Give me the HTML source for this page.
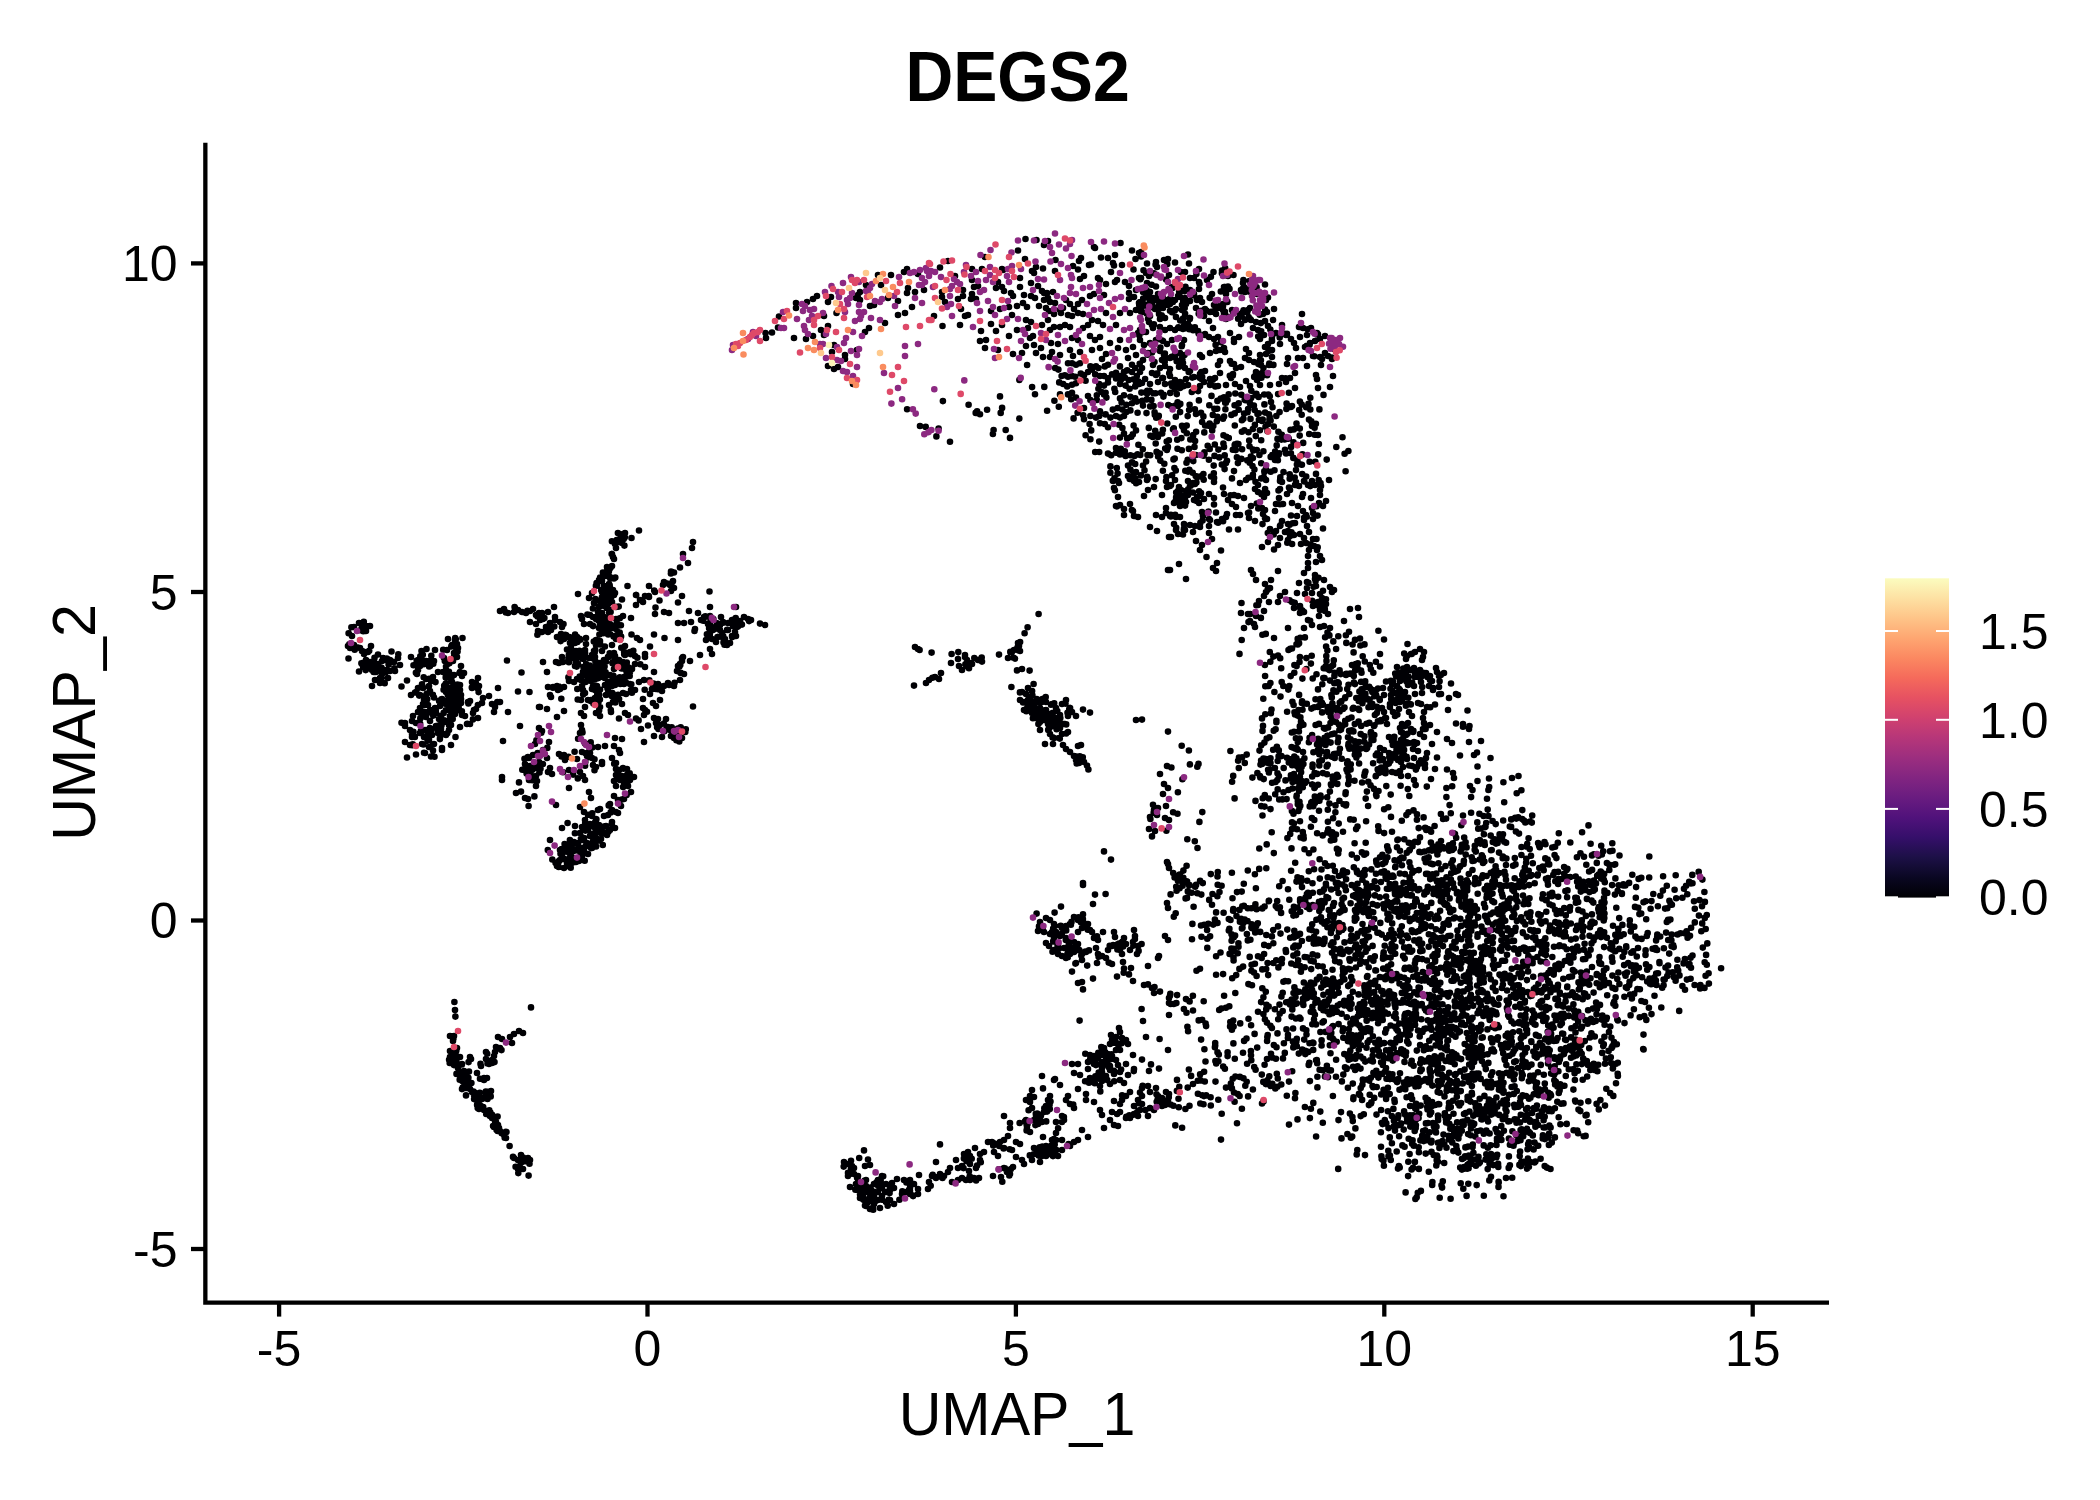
<!DOCTYPE html>
<html><head><meta charset="utf-8"><style>
html,body{margin:0;padding:0;background:#fff;width:2100px;height:1500px;overflow:hidden}
svg{display:block}
text{font-family:"Liberation Sans",Arial,sans-serif;fill:#000}
</style></head><body>
<svg xmlns="http://www.w3.org/2000/svg" width="2100" height="1500" viewBox="0 0 2100 1500">
<defs><linearGradient id="mg" x1="0" y1="1" x2="0" y2="0"><stop offset="0.000" stop-color="#000003"/><stop offset="0.062" stop-color="#0a0722"/><stop offset="0.125" stop-color="#1c1046"/><stop offset="0.188" stop-color="#350f6a"/><stop offset="0.250" stop-color="#50127b"/><stop offset="0.312" stop-color="#691c80"/><stop offset="0.375" stop-color="#822581"/><stop offset="0.438" stop-color="#9c2e7f"/><stop offset="0.500" stop-color="#b63679"/><stop offset="0.562" stop-color="#d0416f"/><stop offset="0.625" stop-color="#e65162"/><stop offset="0.688" stop-color="#f56a5b"/><stop offset="0.750" stop-color="#fb8861"/><stop offset="0.812" stop-color="#fea671"/><stop offset="0.875" stop-color="#fec488"/><stop offset="0.938" stop-color="#fde1a3"/><stop offset="1.000" stop-color="#fbfcbf"/></linearGradient></defs>
<rect width="2100" height="1500" fill="#fff"/>
<g id="pts" fill="none" stroke-linecap="round">
<path stroke="#000004" stroke-width="6.6" d="M1425.7 1028.6h0M1312.8 892.8h0M1674.6 889.7h0M1415.1 1024.8h0M564.0 639.0h0M684.0 674.0h0M583.0 776.0h0M1430.9 1072.4h0M1311.0 498.0h0M1077.6 412.8h0M1138.8 1110.6h0M655.0 614.0h0M1463.3 1121.5h0M1335.9 882.9h0M1245.3 1085.7h0M498.0 688.0h0M1032.0 1160.0h0M1509.8 826.5h0M1578.8 1053.5h0M962.0 1166.0h0M1436.3 873.5h0M1370.3 1029.0h0M1541.5 992.4h0M1347.7 1056.6h0M1492.4 872.5h0M1452.6 971.8h0M1365.0 1155.1h0M1024.0 710.0h0M1357.7 933.7h0M1385.0 862.6h0M1312.8 1042.5h0M1437.9 1039.7h0M1018.0 250.5h0M1587.6 996.6h0M566.0 635.0h0M1575.5 1101.6h0M1277.5 1033.4h0M1166.7 441.5h0M1236.0 515.0h0M435.0 708.0h0M1455.5 1036.7h0M451.4 678.3h0M1450.9 879.6h0M1262.0 373.0h0M1258.9 419.8h0M1474.8 906.1h0M461.5 711.8h0M1134.0 930.0h0M1645.0 1002.0h0M1574.6 971.6h0M1012.0 1150.0h0M1266.3 935.0h0M1566.0 922.1h0M1224.0 397.2h0M1215.0 378.0h0M721.0 617.0h0M1038.2 1116.2h0M1590.6 949.8h0M1379.7 897.2h0M1329.4 803.6h0M1477.1 1131.3h0M1039.0 926.4h0M1260.0 360.0h0M1645.6 901.3h0M1199.8 495.9h0M1315.0 786.9h0M1330.6 742.6h0M1459.5 1133.9h0M568.9 662.2h0M1554.7 1066.2h0M372.0 686.0h0M512.0 1043.0h0M1425.5 1079.1h0M1410.1 1106.0h0M1501.5 838.1h0M959.0 666.0h0M1165.0 366.0h0M680.0 664.0h0M596.0 819.0h0M1165.0 384.0h0M1531.9 1020.8h0M1346.2 804.3h0M1235.0 384.0h0M1333.1 818.2h0M1313.7 961.4h0M1073.6 418.4h0M1413.9 1145.6h0M1144.0 345.0h0M1282.7 1011.0h0M1140.9 475.4h0M1251.7 924.3h0M968.0 315.0h0M1376.5 796.1h0M1117.0 976.6h0M458.3 692.4h0M1318.4 605.6h0M1156.5 1094.3h0M1405.4 1013.7h0M1042.4 699.0h0M993.5 1143.4h0M595.4 599.1h0M1608.9 983.1h0M426.0 661.0h0M600.0 809.0h0M1268.0 326.0h0M1412.2 950.5h0M432.0 735.0h0M1328.1 727.4h0M615.2 682.6h0M1106.0 284.0h0M1470.9 957.6h0M1403.3 1054.1h0M1468.8 1098.5h0M1446.0 1020.7h0M613.0 702.0h0M1471.8 1067.1h0M1537.5 875.4h0M1698.7 871.9h0M590.0 676.0h0M1532.2 958.7h0M1020.0 651.0h0M1130.4 410.4h0M1227.5 399.9h0M1256.6 909.3h0M1506.1 842.8h0M1185.0 326.0h0M1315.6 725.0h0M1147.0 283.0h0M1595.7 1020.9h0M1634.3 926.8h0M1524.3 902.7h0M1066.0 749.0h0M1199.1 491.3h0M1535.8 940.2h0M1433.6 937.0h0M577.4 642.0h0M635.0 656.0h0M1086.0 1094.0h0M1176.8 394.1h0M1073.3 948.0h0M1171.7 356.7h0M1421.2 927.9h0M1265.1 309.5h0M1291.6 1016.6h0M1338.2 853.5h0M1647.7 933.1h0M617.0 637.0h0M1670.4 919.5h0M1300.1 901.4h0M606.7 607.9h0M1247.8 940.4h0M569.7 653.0h0M1098.0 954.0h0M600.0 663.7h0M1056.0 1122.0h0M1027.5 707.4h0M1159.9 453.6h0M1594.3 1069.9h0M1454.3 1053.9h0M1420.8 912.8h0M1460.1 866.4h0M1049.8 1109.1h0M624.0 684.0h0M1019.0 646.0h0M913.1 1196.1h0M1042.3 1150.5h0M1177.5 813.7h0M596.0 666.0h0M1418.0 703.0h0M523.0 1033.0h0M1424.9 927.9h0M1275.6 782.0h0M1260.8 323.1h0M1587.2 1076.5h0M1418.0 676.9h0M1309.6 996.4h0M1589.2 984.8h0M1250.5 418.9h0M1153.6 406.0h0M484.0 1078.0h0M391.5 651.5h0M1156.2 417.8h0M616.6 681.1h0M1026.0 346.0h0M1295.0 373.0h0M1132.0 462.4h0M1383.2 1056.4h0M1114.2 1081.3h0M1123.0 962.0h0M1196.4 273.9h0M1370.6 911.5h0M1374.0 788.9h0M1365.7 842.7h0M603.2 633.2h0M584.0 624.0h0M1099.2 452.0h0M1439.8 1042.4h0M1139.0 482.0h0M1130.4 396.8h0M1035.0 394.3h0M1117.6 473.6h0M532.9 776.3h0M1363.3 1058.7h0M1535.6 1124.9h0M1529.9 916.2h0M1184.7 308.0h0M576.2 659.0h0M1068.9 948.0h0M778.0 327.5h0M606.0 676.0h0M1404.6 969.0h0M1438.6 1057.6h0M1183.0 320.0h0M1436.3 1165.4h0M1088.0 1137.0h0M1358.1 708.8h0M418.0 688.0h0M582.0 619.0h0M1163.0 308.0h0M1310.2 486.1h0M1388.7 976.8h0M1322.9 773.1h0M1338.8 927.4h0M1501.0 890.4h0M1584.0 856.8h0M976.0 1168.0h0M1235.4 1076.5h0M1393.2 975.7h0M577.1 637.1h0M1217.4 400.9h0M591.9 699.7h0M1446.8 963.9h0M1040.0 708.0h0M1610.3 948.6h0M1429.0 686.0h0M1539.7 1054.4h0M1445.6 993.7h0M1632.3 965.4h0M1262.7 798.2h0M584.0 716.0h0M1439.8 942.3h0M1407.7 683.4h0M1558.4 1071.2h0M1293.2 911.0h0M1458.0 695.0h0M1622.4 924.9h0M1383.0 958.8h0M611.1 596.9h0M616.0 619.0h0M1450.6 1198.8h0M856.0 1184.0h0M1511.2 1037.1h0M1371.3 869.4h0M1468.1 1134.1h0M1462.0 1158.8h0M540.2 619.9h0M1430.1 1080.9h0M1209.1 519.0h0M1300.0 821.2h0M1249.0 353.0h0M1355.9 967.5h0M1299.7 435.6h0M1352.8 1121.1h0M1416.0 1013.5h0M436.0 726.0h0M1435.5 1001.2h0M1269.0 365.0h0M1504.5 871.8h0M1312.2 600.7h0M1219.3 457.4h0M1527.4 1066.3h0M1425.0 764.0h0M1092.0 350.0h0M1540.3 1015.6h0M1034.9 709.1h0M1241.0 324.0h0M1396.5 750.1h0M1034.0 710.0h0M1362.2 700.3h0M1412.1 1099.0h0M1706.1 954.9h0M1177.6 402.3h0M1210.0 298.0h0M1379.1 1055.8h0M1334.5 925.1h0M579.4 655.2h0M1496.2 922.5h0M1437.7 950.9h0M1324.5 678.0h0M1317.1 773.9h0M1560.3 1056.6h0M639.0 530.5h0M506.0 1138.0h0M1013.0 296.0h0M1403.5 736.7h0M612.0 645.0h0M824.0 316.0h0M1334.0 903.1h0M1383.0 769.7h0M1285.5 780.4h0M1565.1 1039.5h0M1497.2 1154.7h0M1462.6 1125.1h0M1330.9 932.9h0M1484.5 842.4h0M1185.0 272.0h0M1409.3 765.5h0M1563.2 1033.8h0M1094.0 1102.0h0M1138.0 333.0h0M1201.5 936.8h0M1401.1 894.1h0M1237.7 953.2h0M1548.2 980.9h0M1098.3 1052.9h0M1209.0 321.0h0M1079.6 1020.6h0M1193.0 436.7h0M1260.0 339.0h0M1321.1 601.6h0M1187.7 1087.6h0M1319.4 800.7h0M1102.1 1067.4h0M1501.4 940.2h0M1403.4 668.5h0M1168.0 259.0h0M1673.2 945.3h0M597.7 669.0h0M1493.7 959.7h0M1269.8 396.2h0M1165.0 318.0h0M581.8 676.8h0M1468.1 908.2h0M1053.9 1139.1h0M1241.7 891.6h0M611.7 824.2h0M1331.2 930.3h0M1040.0 1148.0h0M1316.0 473.9h0M1421.3 1019.3h0M1463.4 1014.4h0M1387.6 904.6h0M582.4 658.7h0M1378.7 830.5h0M1558.0 984.8h0M1283.0 1058.4h0M1256.8 503.5h0M1323.0 704.7h0M1195.0 484.0h0M1270.0 588.0h0M1378.8 1051.2h0M942.5 326.0h0M1050.0 714.0h0M1502.7 1074.0h0M1164.3 358.6h0M1232.4 951.6h0M596.4 819.2h0M606.0 695.0h0M824.0 335.0h0M1100.0 411.2h0M1312.2 776.5h0M1056.0 1140.0h0M1398.4 1115.4h0M680.3 665.1h0M1488.8 1013.0h0M1407.4 733.7h0M486.0 1112.0h0M1477.3 822.4h0M1098.6 956.8h0M601.0 839.0h0M1294.0 731.8h0M1285.0 449.8h0M1412.5 918.9h0M1224.1 416.5h0M583.7 851.0h0M1485.3 916.6h0M1361.0 1045.3h0M1407.8 789.1h0M1480.4 843.6h0M542.9 764.1h0M1565.8 1076.0h0M1477.1 985.6h0M1052.5 951.8h0M1535.9 1034.8h0M615.0 544.0h0M1193.0 1084.0h0M1358.6 994.4h0M1229.0 529.5h0M1248.0 614.0h0M1440.5 1047.3h0M1160.3 460.6h0M1486.5 897.8h0M1317.0 549.9h0M1292.7 523.3h0M1547.6 859.5h0M1638.6 878.9h0M1348.9 1029.1h0M1560.4 1025.1h0M1492.7 924.6h0M1287.1 711.8h0M1551.1 1038.0h0M1417.1 993.2h0M561.0 634.0h0M1292.6 781.9h0M520.0 726.0h0M1465.4 1147.4h0M1350.3 1050.6h0M1533.9 989.0h0M1563.3 978.7h0M594.8 679.6h0M1051.8 1151.1h0M1472.0 1094.4h0M1299.9 776.7h0M1546.4 944.6h0M834.0 345.0h0M1530.4 1097.8h0M1094.0 247.0h0M1354.8 937.9h0M1406.6 756.9h0M1601.9 906.2h0M617.5 771.4h0M505.9 1131.8h0M1084.0 419.2h0M454.1 656.8h0M1612.5 987.7h0M1523.9 1036.3h0M1361.6 1014.6h0M1489.8 951.4h0M1543.4 1053.4h0M1390.4 761.0h0M1274.9 768.0h0M1377.4 932.7h0M1443.0 946.1h0M1532.6 963.3h0M854.0 1174.0h0M1141.7 307.5h0M1122.1 1095.4h0M1448.1 1026.5h0M599.4 634.6h0M1505.7 1043.6h0M1325.0 353.0h0M1592.1 921.5h0M1085.1 1081.3h0M1225.4 409.3h0M1300.2 637.8h0M610.8 710.1h0M359.0 671.5h0M1420.3 1071.3h0M1054.0 314.0h0M615.0 593.1h0M1278.9 776.1h0M892.0 1183.0h0M1317.1 833.2h0M1406.7 889.1h0M1560.9 1049.2h0M1148.0 1116.0h0M1142.6 1085.7h0M1429.1 1009.4h0M618.4 665.3h0M848.0 1172.9h0M1238.0 529.5h0M1156.0 340.0h0M1300.3 805.7h0M1478.1 917.0h0M869.0 328.0h0M1489.2 974.6h0M1078.0 1140.0h0M1316.5 539.0h0M1304.1 992.2h0M1476.4 1159.5h0M1116.8 506.4h0M981.7 657.5h0M1583.0 959.2h0M1073.0 266.0h0M1386.9 888.7h0M1460.2 1167.6h0M1200.0 968.8h0M567.0 864.0h0M1292.5 788.5h0M1543.6 941.6h0M963.0 296.0h0M1220.0 361.0h0M870.5 1187.5h0M1541.7 947.0h0M951.0 663.0h0M751.0 620.0h0M1464.0 1114.0h0M1473.0 961.3h0M1531.3 1041.3h0M1364.5 1003.8h0M1554.6 872.1h0M1193.0 1010.5h0M1513.1 865.7h0M1469.0 742.0h0M1242.3 906.3h0M1175.8 416.7h0M1207.3 938.7h0M1459.9 1031.5h0M1615.7 941.2h0M1536.7 1057.6h0M1395.9 976.6h0M1461.9 1168.2h0M1459.1 899.1h0M1651.5 901.1h0M1247.1 1063.7h0M880.0 1208.0h0M1125.0 282.0h0M644.0 742.0h0M598.3 620.3h0M1224.7 455.4h0M547.7 631.5h0M1085.6 435.2h0M1039.0 306.0h0M631.3 684.3h0M1027.1 365.0h0M1577.1 925.7h0M1305.0 594.0h0M643.0 699.0h0M1549.1 1108.9h0M1387.9 966.6h0M1377.5 864.7h0M1400.8 888.4h0M1335.1 982.3h0M1499.8 885.1h0M1185.0 497.6h0M1613.0 925.8h0M1093.0 978.6h0M582.0 856.0h0M1440.3 982.8h0M1196.1 884.9h0M1260.3 777.4h0M1523.0 933.1h0M1425.9 1010.5h0M1419.0 763.0h0M1556.4 858.1h0M1442.5 881.0h0M1584.8 1041.1h0M1380.9 721.3h0M1080.9 922.2h0M1436.0 1064.4h0M1352.4 1117.0h0M1408.1 1176.1h0M634.0 777.0h0M1474.3 1057.4h0M1614.0 1042.1h0M1521.7 1073.1h0M1183.2 301.7h0M1186.0 304.0h0M1645.6 950.4h0M1576.0 930.0h0M1288.0 524.0h0M1509.9 1144.7h0M1455.0 871.8h0M1503.5 1082.7h0M1224.0 494.0h0M1170.0 310.8h0M600.7 577.5h0M1120.0 1072.0h0M1394.1 995.0h0M543.0 619.0h0M1470.2 997.1h0M998.0 350.0h0M1410.3 1126.6h0M1498.3 1004.7h0M532.4 780.2h0M596.7 677.3h0M1437.1 973.2h0M1363.7 1001.8h0M1609.0 1032.1h0M1498.9 1089.8h0M1319.0 810.7h0M683.0 657.0h0M1484.4 1095.9h0M1407.0 656.0h0M445.7 677.4h0M1215.4 1061.0h0M1050.0 920.0h0M1255.8 436.1h0M1306.8 703.8h0M1419.4 851.9h0M1523.2 961.9h0M1335.4 1011.1h0M1411.0 951.8h0M1549.5 1109.7h0M685.3 732.0h0M1641.3 877.7h0M1394.5 1002.7h0M1396.4 974.0h0M1226.0 319.0h0M1282.0 482.0h0M1390.0 1049.7h0M1303.4 724.8h0M1654.3 977.6h0M1422.0 693.0h0M1505.7 1035.8h0M1438.0 1161.7h0M500.0 1048.0h0M1054.0 938.0h0M1598.6 855.7h0M1362.5 891.9h0M1116.0 378.4h0M1606.3 1088.7h0M671.0 571.5h0M1400.0 850.7h0M1410.8 704.4h0M1492.3 1042.5h0M1402.2 905.8h0M631.9 692.8h0M1242.7 288.7h0M1349.0 631.7h0M1335.1 961.1h0M1318.1 738.9h0M1477.8 974.2h0M1296.5 796.7h0M1496.0 843.6h0M1320.0 610.0h0M1120.8 380.0h0M1300.9 971.8h0M1468.9 1039.0h0M1303.0 1028.4h0M460.0 727.0h0M1501.8 933.9h0M1079.0 261.0h0M1666.1 932.6h0M1467.6 988.9h0M1465.4 906.8h0M1235.3 393.5h0M1149.7 390.9h0M1359.2 947.9h0M1558.0 1000.0h0M1198.9 400.4h0M1093.0 904.0h0M832.0 352.0h0M1524.7 1019.7h0M1484.6 946.2h0M457.4 684.5h0M1699.5 900.1h0M1466.8 880.2h0M535.5 767.0h0M1306.0 515.0h0M1309.0 532.0h0M1518.9 887.1h0M1614.9 894.6h0M1256.4 393.8h0M1336.2 682.5h0M1156.0 286.5h0M598.9 832.1h0M1475.0 925.5h0M1067.5 953.7h0M1332.4 878.4h0M1527.1 1033.3h0M1109.7 1065.9h0M428.0 733.0h0M1226.0 517.0h0M1481.8 855.3h0M1280.0 596.0h0M1445.4 903.7h0M682.0 729.0h0M1350.1 1055.8h0M1336.3 447.0h0M1258.0 485.0h0M1122.0 265.0h0M1522.2 1036.6h0M555.1 619.9h0M1453.5 964.4h0M1406.0 735.0h0M1363.1 1080.6h0M1096.8 1064.6h0M1490.3 1108.8h0M1481.6 1050.1h0M1517.8 1141.0h0M1486.2 823.1h0M479.8 1092.7h0M1527.7 992.1h0M1239.4 968.9h0M1285.0 592.0h0M1333.8 660.3h0M1323.5 394.9h0M1324.3 923.7h0M618.0 625.8h0M1708.6 973.3h0M624.4 545.6h0M1327.7 764.7h0M395.0 671.0h0M1261.2 806.1h0M1474.0 755.0h0M1143.0 360.0h0M660.0 687.0h0M1377.7 769.4h0M523.0 1169.0h0M1286.0 382.0h0M577.0 655.0h0M1312.4 1006.9h0M581.0 725.0h0M426.0 717.0h0M1475.8 851.6h0M1052.0 704.0h0M1422.9 978.7h0M1246.9 934.1h0M796.0 303.0h0M1452.9 843.3h0M1332.2 928.8h0M962.0 1178.0h0M1458.9 900.5h0M1197.5 848.0h0M1273.7 730.7h0M1182.4 779.3h0M616.7 540.1h0M1068.0 315.0h0M1136.0 355.0h0M1177.5 448.8h0M1394.9 892.4h0M1134.0 1114.0h0M542.0 731.0h0M1060.0 728.0h0M1082.0 300.0h0M444.9 703.6h0M1487.4 1029.4h0M1522.3 875.3h0M1159.0 314.0h0M958.3 652.1h0M1389.7 884.1h0M1506.8 1099.5h0M626.8 782.3h0M1581.8 1064.1h0M1307.0 588.0h0M1207.7 445.8h0M1243.9 905.9h0M1294.3 930.7h0M1186.1 300.8h0M1481.3 990.1h0M611.0 712.0h0M1368.7 967.2h0M1271.0 1053.8h0M1538.6 1095.2h0M682.0 661.0h0M1170.2 392.9h0M1559.8 934.2h0M1197.3 766.7h0M1312.7 954.4h0M1241.0 613.0h0M1117.6 408.0h0M720.0 630.0h0M1212.8 414.9h0M1552.3 847.5h0M1344.9 886.5h0M1297.9 804.3h0M1543.4 941.3h0M419.4 695.0h0M1394.7 742.8h0M1226.0 294.0h0M1452.3 1060.6h0M1120.0 437.6h0M592.3 844.4h0M1577.2 1130.6h0M1366.3 746.8h0M1046.0 918.0h0M561.5 756.5h0M1401.8 926.2h0M1253.3 450.5h0M477.0 1073.0h0M1477.6 1013.3h0M1502.2 926.5h0M580.9 838.7h0M1263.0 314.0h0M1237.0 1123.3h0M1357.1 893.7h0M865.0 332.0h0M502.0 1133.0h0M1355.1 1069.9h0M1432.9 935.4h0M1187.0 897.9h0M614.2 763.8h0M547.0 758.0h0M1509.5 1121.2h0M1383.3 1002.6h0M1491.4 1000.5h0M612.0 686.0h0M1334.1 995.6h0M1350.3 1008.8h0M444.8 671.7h0M1555.1 909.7h0M1507.4 1104.5h0M1441.1 869.2h0M1002.3 1181.7h0M682.0 658.2h0M1301.2 880.5h0M1172.0 312.2h0M1193.1 330.3h0M694.5 631.0h0M1088.4 769.5h0M1034.0 1154.0h0M1142.0 368.0h0M1354.8 754.7h0M1000.0 396.4h0M928.0 1189.0h0M1461.9 1169.6h0M1115.0 255.0h0M1288.1 981.3h0M1194.5 446.9h0M1066.0 958.0h0M1558.8 963.9h0M1146.0 332.0h0M1270.4 683.0h0M1560.2 1084.4h0M1084.0 276.0h0M1327.7 735.8h0M1083.0 709.6h0M1430.7 1027.2h0M570.0 638.0h0M1470.1 916.1h0M1327.3 1011.5h0M438.0 672.0h0M1369.2 686.8h0M1495.6 1129.1h0M1468.3 882.7h0M1089.6 424.0h0M1066.2 724.4h0M866.0 285.0h0M1328.5 712.3h0M472.9 719.4h0M1308.8 871.2h0M1517.1 967.2h0M1289.6 524.7h0M1457.7 991.4h0M706.0 640.0h0M1133.0 1055.0h0M1485.2 953.9h0M420.0 666.0h0M918.0 1189.0h0M1504.0 904.6h0M1178.8 501.5h0M1044.0 720.0h0M1019.3 418.6h0M544.4 618.1h0M709.5 591.5h0M453.4 1038.7h0M870.0 306.0h0M1586.3 864.8h0M1624.9 973.7h0M1051.8 720.3h0M1384.0 695.0h0M1207.0 280.0h0M604.0 660.0h0M1554.0 1070.6h0M1303.2 442.9h0M1316.5 674.3h0M1487.6 1054.2h0M1188.9 1069.5h0M1333.0 1026.1h0M1100.0 1110.0h0M1460.8 892.6h0M1369.1 744.6h0M1327.4 650.5h0M1396.0 676.0h0M530.0 611.0h0M1278.8 750.4h0M1534.2 1014.0h0M1128.0 465.6h0M436.0 713.0h0M1502.4 1086.6h0M1038.0 700.0h0M1121.1 1069.5h0M1570.4 958.3h0M1209.3 405.2h0M609.7 653.3h0M1200.0 550.0h0M1394.7 1004.5h0M383.2 658.0h0M1554.9 1137.4h0M1506.4 1065.1h0M570.8 861.3h0M614.0 669.0h0M1251.0 320.0h0M1218.3 1099.8h0M587.0 756.0h0M1511.8 885.3h0M1390.1 949.0h0M1268.4 349.4h0M1106.0 313.0h0M1432.6 1037.3h0M1491.1 955.3h0M1415.0 673.0h0M1361.0 670.5h0M1241.9 1108.8h0M1230.1 1026.4h0M1289.3 686.0h0M1395.2 883.8h0M1540.6 1158.7h0M1526.3 1024.6h0M1082.9 919.1h0M598.0 612.0h0M1247.6 412.3h0M520.1 1160.3h0M1338.7 992.7h0M1460.0 755.5h0M434.5 756.8h0M1539.9 921.0h0M1265.8 633.9h0M1062.0 734.0h0M1274.9 1009.3h0M568.5 756.8h0M624.0 677.0h0M1482.8 875.3h0M1357.8 1008.3h0M1049.0 946.0h0M1521.2 917.2h0M1272.1 782.8h0M616.0 548.0h0M461.0 703.0h0M1143.2 298.6h0M1398.0 1168.6h0M621.3 647.8h0M1052.9 721.6h0M1262.5 730.9h0M1102.0 1115.0h0M863.2 1199.4h0M1630.6 1015.3h0M602.6 620.8h0M1132.0 364.8h0M1563.8 1017.8h0M1265.0 584.0h0M1200.0 355.0h0M1452.0 1052.3h0M1004.0 1168.0h0M1049.3 728.2h0M605.7 599.3h0M1102.0 1052.0h0M1383.7 952.3h0M1405.6 1192.4h0M1382.0 708.0h0M1666.8 922.0h0M1606.9 937.7h0M1430.4 1073.0h0M1651.5 1014.1h0M1030.0 704.0h0M1180.0 353.0h0M455.8 639.3h0M1224.0 446.9h0M1397.8 1030.8h0M658.1 685.0h0M1461.4 962.9h0M1513.5 1145.8h0M1269.3 1076.3h0M1528.9 1166.8h0M1411.8 895.4h0M1534.9 1093.8h0M1344.0 621.0h0M1516.2 1134.9h0M457.0 657.0h0M1186.5 462.8h0M1103.0 932.0h0M1534.7 883.3h0M1418.6 1118.0h0M1356.8 897.6h0M380.0 678.0h0M1427.0 707.0h0M1493.9 878.4h0M1201.1 1039.6h0M1048.0 320.0h0M1340.8 911.4h0M1604.5 913.5h0M477.1 1104.9h0M411.0 695.0h0M1288.5 790.0h0M1530.0 821.5h0M1120.0 1032.0h0M619.7 632.5h0M1269.7 769.2h0M1148.0 966.0h0M1196.0 541.0h0M1180.3 403.9h0M1388.6 850.7h0M1354.8 724.1h0M966.0 1160.0h0M1376.4 862.5h0M1299.1 790.9h0M1264.4 742.6h0M1060.0 355.0h0M1320.0 742.7h0M1523.2 1136.2h0M1286.0 951.9h0M1089.8 1078.8h0M1088.0 325.0h0M1162.3 1104.0h0M426.4 730.7h0M1403.5 1050.5h0M1524.8 867.5h0M1313.0 519.0h0M1337.0 1011.7h0M1410.6 1003.9h0M1604.5 892.2h0M1094.0 294.0h0M1139.7 363.7h0M620.0 534.0h0M1490.8 979.2h0M918.0 274.0h0M1421.1 1059.3h0M1037.1 714.9h0M1124.0 1083.0h0M1668.1 919.8h0M1397.8 1118.1h0M1170.5 1104.5h0M1351.7 885.1h0M474.0 710.0h0M1183.8 529.8h0M1095.3 1060.4h0M623.6 678.9h0M1375.4 970.4h0M601.0 619.0h0M1529.9 994.8h0M601.3 830.4h0M980.0 414.3h0M1442.0 1021.6h0M1262.5 524.1h0M1349.1 730.9h0M1675.7 875.3h0M1339.5 962.4h0M1339.4 912.6h0M1299.0 486.0h0M492.0 1060.0h0M602.0 834.0h0M1072.0 712.0h0M1583.2 1058.5h0M1487.0 1105.8h0M1492.4 881.7h0M1293.9 774.0h0M1066.0 1100.0h0M1468.2 1046.6h0M1391.8 1116.1h0M1356.7 870.6h0M1531.2 875.2h0M1448.1 1007.4h0M1176.9 1090.9h0M1060.0 1085.0h0M617.9 533.1h0M1487.3 1011.2h0M1170.0 376.0h0M1190.0 318.0h0M1348.4 451.0h0M426.0 679.0h0M1256.0 372.0h0M1468.4 1038.0h0M1293.5 813.7h0M658.0 689.3h0M1050.0 357.0h0M1520.8 1114.8h0M1330.2 710.0h0M1063.9 1117.0h0M1393.9 1126.3h0M1065.0 724.0h0M1118.0 944.0h0M1341.4 875.0h0M1271.5 709.6h0M1072.0 392.8h0M1588.0 1020.2h0M1293.6 705.0h0M1341.8 951.2h0M1040.0 1118.0h0M1362.1 1099.9h0M1303.5 835.8h0M1606.3 1019.2h0M706.9 634.3h0M1444.0 673.0h0M1334.4 733.6h0M1467.6 1099.9h0M1339.6 689.0h0M1508.9 1138.5h0M1188.1 1031.3h0M1327.0 774.2h0M1505.3 1116.0h0M1315.0 485.0h0M1224.2 313.2h0M1503.2 820.5h0M1360.1 963.8h0M1180.0 506.0h0M1139.0 303.0h0M1295.3 1004.0h0M912.0 307.0h0M439.0 719.0h0M1520.0 1005.7h0M1541.5 921.5h0M1418.5 1086.1h0M588.0 844.0h0M519.0 782.4h0M843.7 1166.6h0M1601.2 977.7h0M1179.0 366.8h0M1382.0 772.0h0M1038.6 614.0h0M1048.0 724.0h0M1524.9 948.0h0M1289.7 474.4h0M1255.4 904.4h0M1570.8 923.5h0M1638.9 967.8h0M549.0 742.0h0M1507.5 1010.5h0M1399.9 895.3h0M581.0 700.0h0M1449.0 698.0h0M1395.3 1042.7h0M1347.9 1040.9h0M1303.0 494.0h0M1040.0 730.0h0M1290.0 378.0h0M489.3 1110.4h0M1389.9 1155.5h0M1080.8 373.6h0M1403.0 986.1h0M1372.2 707.0h0M1230.0 333.0h0M570.7 867.8h0M1360.5 1068.6h0M1486.9 919.8h0M1531.5 1064.6h0M585.0 707.0h0M1443.5 1134.6h0M671.0 591.0h0M1144.5 470.3h0M1673.8 977.1h0M1486.3 1154.3h0M1439.4 1033.8h0M1651.1 984.2h0M992.0 1142.0h0M1496.7 1083.8h0M1167.6 304.8h0M1139.2 384.0h0M1396.0 894.7h0M974.0 1178.0h0M1670.5 903.3h0M1334.8 994.6h0M1434.6 1056.4h0M1457.1 1122.2h0M1120.0 950.0h0M1426.1 873.9h0M1102.0 359.0h0M1387.9 1111.3h0M611.8 625.4h0M1145.8 392.4h0M666.0 719.0h0M1292.2 765.2h0M449.5 706.8h0M1083.0 883.0h0M1338.9 876.0h0M472.0 688.0h0M1428.9 850.4h0M1483.0 862.9h0M1283.7 768.0h0M1631.3 952.7h0M1142.0 312.0h0M1389.3 996.8h0M400.0 665.0h0M1652.6 948.7h0M1289.0 1124.6h0M1094.0 1082.0h0M1193.0 483.0h0M582.7 838.5h0M1004.0 291.0h0M476.0 709.0h0M1194.0 278.0h0M602.0 764.0h0M1241.0 290.0h0M1458.4 1032.5h0M1008.0 658.0h0M1341.6 1013.8h0M621.0 540.0h0M1606.8 1017.7h0M1516.3 1120.8h0M1554.0 946.7h0M1511.8 968.8h0M1348.9 1006.7h0M1034.0 1120.0h0M1112.0 946.0h0M1382.0 768.0h0M1062.0 956.0h0M1266.7 844.4h0M1154.0 1110.0h0M1525.4 1063.8h0M1540.7 915.1h0M1383.3 904.2h0M1472.5 1017.7h0M1690.0 935.8h0M1414.5 969.1h0M1500.6 1103.2h0M602.0 613.0h0M1409.7 843.1h0M593.1 626.1h0M1572.9 970.0h0M483.2 1107.1h0M609.0 705.0h0M1511.1 826.9h0M1036.0 1116.0h0M1663.6 985.2h0M1492.8 987.5h0M547.8 850.1h0M723.5 642.5h0M894.0 1204.0h0M1667.3 976.0h0M965.0 657.0h0M602.0 633.0h0M1391.9 903.1h0M486.0 1052.0h0M1323.7 668.3h0M1563.0 934.1h0M1330.9 1070.4h0M1026.3 711.2h0M1453.3 956.8h0M1214.9 919.6h0M888.4 1191.2h0M1148.0 306.8h0M1355.3 1058.8h0M1631.9 998.4h0M1205.0 335.0h0M1291.8 732.5h0M1600.4 1100.1h0M450.7 681.3h0M1329.4 635.4h0M1301.9 703.0h0M1306.7 516.8h0M1596.5 1014.2h0M1299.5 784.7h0M596.0 838.0h0M1114.0 488.0h0M966.6 1161.2h0M1100.0 423.2h0M1348.5 684.8h0M600.0 707.0h0M448.0 639.0h0M1064.0 1120.0h0M730.0 643.0h0M482.0 1099.0h0M1079.0 763.0h0M1575.5 1032.5h0M1133.0 511.0h0M1226.0 300.0h0M1558.8 1092.9h0M1118.0 348.0h0M537.6 753.0h0M1615.3 951.3h0M1173.8 916.8h0M1423.2 916.8h0M1562.5 1004.7h0M1124.0 395.2h0M416.0 754.5h0M442.0 699.0h0M907.1 409.3h0M1275.6 729.2h0M470.0 701.0h0M1209.7 448.9h0M484.0 1080.0h0M543.0 750.0h0M1401.8 820.7h0M1067.5 712.7h0M1088.0 1069.0h0M1406.4 815.1h0M1374.2 919.1h0M1118.0 1065.0h0M1283.4 981.8h0M1208.3 923.8h0M864.0 1200.0h0M1588.8 881.4h0M602.0 592.0h0M1270.5 763.1h0M1435.0 704.5h0M1412.2 682.8h0M1395.0 716.0h0M1317.0 744.6h0M1390.5 1055.7h0M1070.0 752.0h0M1542.3 898.5h0M1320.0 556.0h0M1432.0 744.0h0M453.0 1058.0h0M461.9 711.4h0M1420.6 945.8h0M657.1 727.2h0M1326.0 604.0h0M474.6 1092.6h0M1390.2 971.7h0M498.0 1125.0h0M438.0 733.0h0M1271.7 350.3h0M1359.0 742.0h0M584.0 658.1h0M1535.4 1126.8h0M1162.0 517.0h0M1428.7 857.2h0M1482.3 954.1h0M1261.2 463.2h0M588.0 854.0h0M599.2 694.8h0M1062.0 1140.0h0M1448.5 1084.5h0M1398.9 861.3h0M1255.0 627.0h0M441.2 717.3h0M1467.6 1164.7h0M907.0 293.0h0M608.2 634.4h0M462.7 1087.5h0M1380.3 922.9h0M1251.3 390.7h0M862.1 1197.4h0M416.7 660.9h0M604.0 586.0h0M1276.4 720.8h0M1462.2 1159.0h0M1157.0 814.9h0M1110.0 1066.0h0M1447.7 1032.3h0M1445.5 866.0h0M1295.6 763.4h0M431.5 730.3h0M660.0 700.0h0M447.0 675.0h0M1491.0 1075.5h0M1108.0 427.2h0M1369.7 1094.8h0M1557.8 842.8h0M1258.7 413.3h0M1310.7 960.8h0M1365.4 1015.3h0M1432.1 1102.1h0M1425.7 1153.6h0M1307.2 880.7h0M1404.9 874.1h0M1361.1 681.9h0M1404.8 674.4h0M1056.0 708.0h0M1461.4 904.6h0M429.1 678.8h0M1092.0 369.6h0M1126.0 1064.0h0M1602.3 874.4h0M1519.2 1023.2h0M860.0 300.0h0M1465.9 946.6h0M1521.6 1129.2h0M1171.0 537.0h0M1475.1 1103.2h0M1510.7 982.6h0M576.0 662.0h0M1024.6 633.2h0M467.2 1079.5h0M1188.0 495.0h0M1065.5 703.6h0M429.1 666.4h0M987.1 409.7h0M1671.6 946.2h0M1518.0 1068.0h0M654.0 736.0h0M495.0 707.0h0M1370.9 1001.4h0M601.2 614.8h0M617.0 624.0h0M1308.4 582.9h0M885.0 323.0h0M1361.5 931.0h0M1302.3 610.5h0M1415.5 960.4h0M1117.4 949.4h0M1129.0 286.0h0M645.0 596.0h0M1190.6 485.7h0M1362.6 694.6h0M1392.0 772.0h0M636.0 595.0h0M1148.0 1086.0h0M501.7 1133.3h0M1439.1 1040.8h0M1160.0 991.6h0M1305.3 989.2h0M366.0 631.0h0M878.3 1185.9h0M1482.7 991.2h0M1462.6 991.6h0M504.0 1135.0h0M1330.0 387.0h0M1677.4 959.8h0M1569.0 977.1h0M600.3 644.5h0M1338.3 636.3h0M1266.0 480.0h0M853.0 384.0h0M998.9 1169.3h0M1202.3 1095.3h0M604.7 574.5h0M1250.9 456.5h0M1030.0 1132.0h0M1336.7 888.3h0M1200.1 1074.4h0M413.0 716.0h0M1421.0 682.0h0M489.0 1064.0h0M1254.0 362.0h0M1391.1 950.9h0M1555.4 965.6h0M1288.0 1034.8h0M1160.4 347.5h0M1381.0 1146.8h0M1363.5 1007.9h0M1154.0 810.0h0M1460.8 883.2h0M1129.4 1115.2h0M423.4 744.5h0M1406.3 986.9h0M1110.0 343.0h0M586.0 664.0h0M1574.1 952.8h0M1436.0 986.1h0M1365.7 951.8h0M952.0 1182.0h0M1679.2 1010.9h0M1497.6 909.2h0M1485.5 826.8h0M936.0 1178.0h0M1446.0 966.0h0M552.0 774.0h0M1282.0 521.0h0M1373.4 960.7h0M1376.3 1070.9h0M1380.0 748.0h0M1442.5 1031.1h0M1062.0 1116.0h0M1204.8 1081.5h0M1238.4 943.3h0M1146.5 413.1h0M1438.4 844.2h0M1583.2 881.9h0M1330.5 996.1h0M1307.6 329.3h0M1383.0 688.0h0M1521.8 1078.3h0M1575.3 897.8h0M1503.4 782.3h0M444.2 685.7h0M535.5 763.4h0M1499.3 926.9h0M1587.4 953.6h0M572.2 641.0h0M906.4 1182.5h0M1575.7 938.6h0M1038.0 1150.0h0M1280.0 489.0h0M1465.7 854.6h0M1046.0 716.0h0M1415.0 652.0h0M1560.7 1086.8h0M1254.0 972.6h0M1099.2 1075.7h0M1492.8 1051.2h0M1527.4 1114.9h0M1446.1 969.9h0M1543.7 951.9h0M1346.8 1017.2h0M1461.9 1015.8h0M1202.0 357.0h0M735.0 632.0h0M1537.8 931.0h0M1217.4 416.8h0M1615.4 878.4h0M1427.6 1080.5h0M1463.8 861.6h0M1205.0 371.0h0M1362.5 924.0h0M1344.3 1054.1h0M559.0 754.0h0M1432.5 874.2h0M351.4 627.2h0M1339.0 753.0h0M615.3 702.4h0M1414.0 742.0h0M481.0 1066.0h0M1471.0 945.2h0M457.6 651.6h0M1471.6 1026.2h0M1440.6 1031.9h0M1263.2 477.5h0M1251.0 1055.3h0M1334.3 839.7h0M1435.0 769.0h0M421.5 651.0h0M1104.0 394.4h0M618.0 800.0h0M1339.9 748.7h0M1246.5 1038.6h0M1367.1 937.7h0M589.3 668.1h0M1537.8 990.6h0M1299.5 1017.6h0M1325.8 979.5h0M1467.2 887.3h0M1303.4 1005.0h0M1099.2 384.0h0M950.0 1168.0h0M1124.0 372.0h0M1002.0 287.0h0M1315.4 1002.8h0M1089.0 265.0h0M1444.8 1113.3h0M1472.8 1144.6h0M1463.8 1001.5h0M1299.8 726.2h0M716.0 642.0h0M591.0 673.4h0M1180.1 412.1h0M1053.0 1156.1h0M1317.9 706.9h0M1375.0 895.4h0M1418.0 751.0h0M1432.4 1062.6h0M1167.3 423.5h0M1364.4 985.7h0M1207.3 947.9h0M1420.0 734.0h0M857.1 1177.8h0M1511.4 982.9h0M602.4 589.6h0M1409.3 850.4h0M1332.5 942.4h0M1565.8 915.4h0M1422.1 917.8h0M640.0 600.0h0M1471.0 1019.8h0M1042.0 325.0h0M1398.0 695.0h0M1618.3 929.6h0M1253.9 405.5h0M1470.5 1124.0h0M1281.4 996.5h0M1023.1 702.4h0M996.0 331.0h0M1195.0 526.0h0M1376.8 713.0h0M1664.7 979.4h0M1379.7 999.5h0M1279.7 1013.7h0M1555.3 881.2h0M1158.0 294.0h0M1076.0 716.0h0M1392.6 875.6h0M1564.4 1085.8h0M1376.3 1075.1h0M497.3 702.0h0M1026.0 1100.0h0M1304.0 628.0h0M394.4 668.4h0M1142.0 1059.6h0M1449.9 992.9h0M1339.6 670.4h0M1377.1 1012.5h0M1298.4 811.0h0M968.6 404.7h0M444.2 720.2h0M1263.5 1101.4h0M1446.1 818.6h0M1023.0 303.0h0M1210.0 520.0h0M587.4 614.6h0M627.0 666.0h0M619.0 660.0h0M585.1 653.0h0M1185.1 313.7h0M410.0 745.0h0M1522.1 996.9h0M1445.9 1118.9h0M567.6 865.9h0M461.0 666.0h0M1425.7 977.1h0M428.1 730.0h0M1214.1 478.1h0M1328.2 898.1h0M1590.0 927.2h0M1326.0 885.8h0M1478.8 1163.4h0M1020.0 278.0h0M1507.6 930.5h0M675.3 738.4h0M1298.0 946.6h0M585.0 693.0h0M1044.8 716.4h0M1100.0 337.0h0M620.3 684.0h0M1387.4 857.2h0M1170.0 328.0h0M1362.4 703.2h0M1687.3 894.3h0M1070.0 327.0h0M1516.1 886.0h0M1460.8 1091.1h0M1036.6 913.6h0M1252.4 777.6h0M1534.5 1162.4h0M618.0 813.0h0M366.4 661.5h0M663.0 585.0h0M468.4 703.5h0M1121.6 402.4h0M1326.4 756.1h0M1227.0 514.0h0M1487.7 1169.1h0M1558.1 871.9h0M1145.6 290.3h0M1582.0 1016.1h0M1271.0 402.1h0M1189.1 410.1h0M1078.0 920.0h0M1302.4 454.4h0M528.0 799.0h0M1417.0 767.0h0M1120.0 398.4h0M1422.2 687.0h0M593.0 617.0h0M1312.2 924.2h0M1386.1 938.1h0M1282.0 378.0h0M1668.2 940.0h0M1535.2 1053.3h0M1385.6 770.6h0M599.0 607.0h0M536.0 768.0h0M1512.2 1177.7h0M1110.0 1070.0h0M1244.7 399.7h0M560.0 850.0h0M569.0 681.0h0M401.5 686.5h0M1424.6 858.8h0M674.0 588.0h0M637.4 657.8h0M1313.8 993.3h0M1585.3 889.9h0M485.0 1097.8h0M554.3 626.5h0M1060.0 715.0h0M1635.8 897.7h0M1391.2 907.6h0M1516.8 1091.1h0M870.0 1194.0h0M527.9 757.1h0M1591.4 924.3h0M1078.0 950.0h0M1424.8 913.0h0M1482.1 1109.4h0M1408.0 723.0h0M1290.0 536.0h0M1356.3 745.8h0M1340.5 982.1h0M1128.0 1044.0h0M1378.5 830.9h0M1186.0 491.0h0M1586.8 1061.1h0M1011.0 293.0h0M1604.6 1024.7h0M1413.4 1002.5h0M1343.6 804.2h0M1583.8 949.8h0M1322.9 1070.2h0M1487.8 1156.3h0M1665.5 967.5h0M1380.9 1132.2h0M1396.9 1002.7h0M1403.1 678.2h0M1340.5 948.8h0M1260.0 336.0h0M1614.5 951.1h0M1315.0 579.0h0M1506.5 1111.5h0M1528.2 958.0h0M1407.8 980.4h0M589.0 751.9h0M1114.0 1125.0h0M1448.8 1135.7h0M914.0 1184.0h0M1432.5 864.0h0M1639.9 989.2h0M1500.2 930.6h0M1251.0 506.0h0M1158.0 958.0h0M1288.7 438.6h0M1429.6 995.0h0M1534.7 1056.0h0M1082.0 920.0h0M848.0 1176.0h0M1204.2 924.7h0M1398.2 745.7h0M1343.0 979.4h0M1057.3 711.1h0M542.0 613.0h0M1351.8 730.4h0M1331.4 834.5h0M1384.0 712.0h0M1372.8 738.4h0M1169.0 537.0h0M1090.4 400.0h0M1438.5 863.3h0M1518.9 993.8h0M1334.0 754.1h0M1456.5 1055.4h0M1460.6 851.5h0M1483.8 1133.7h0M1551.0 1095.4h0M1494.1 968.5h0M570.0 650.5h0M1490.8 872.9h0M1289.0 487.5h0M902.0 1194.0h0M1503.5 960.7h0M1300.0 534.0h0M1246.0 381.0h0M1584.6 886.9h0M597.0 686.0h0M1155.7 479.1h0M1266.3 868.2h0M1230.9 1083.5h0M1476.8 1073.5h0M458.7 706.9h0M1188.0 481.0h0M1540.2 1093.7h0M1392.1 684.1h0M594.5 770.2h0M1407.8 986.0h0M1218.0 365.0h0M1054.0 950.0h0M1269.4 737.2h0M1498.7 1182.4h0M1304.5 849.2h0M1538.1 1125.0h0M1478.9 1105.9h0M1572.9 1069.3h0M1565.6 995.9h0M1426.6 858.4h0M1454.0 888.0h0M1217.0 563.0h0M1426.9 995.1h0M1118.0 1126.0h0M613.0 590.0h0M1161.2 1100.9h0M1199.0 503.0h0M441.6 725.0h0M1305.3 901.6h0M1242.1 449.3h0M858.1 1187.9h0M1425.9 1123.4h0M1477.4 841.0h0M1553.6 1027.8h0M1430.7 914.2h0M1468.3 1183.7h0M1568.8 1015.9h0M1131.9 510.0h0M1344.3 1000.8h0M1304.7 967.2h0M1142.3 400.9h0M713.3 619.1h0M1319.6 1069.8h0M1395.0 894.2h0M1239.9 921.8h0M1314.4 787.9h0M1044.0 245.0h0M1452.7 1059.5h0M595.9 585.9h0M1364.8 661.5h0M1421.3 676.4h0M1635.0 906.9h0M1334.0 707.6h0M965.0 316.0h0M1392.8 744.9h0M1330.8 840.5h0M1591.9 914.4h0M1293.3 457.9h0M1394.0 1016.2h0M1296.8 1046.3h0M455.0 714.0h0M1578.9 1044.8h0M1080.0 1075.0h0M1439.0 676.0h0M612.0 758.0h0M578.9 860.9h0M664.0 582.0h0M594.6 672.8h0M1438.5 984.9h0M1046.0 1156.0h0M1334.4 675.9h0M1213.0 568.0h0M1425.3 924.8h0M666.6 727.2h0M1444.0 848.5h0M499.0 1128.0h0M858.3 1180.9h0M1309.6 737.7h0M1587.6 982.6h0M1198.5 763.9h0M1037.7 713.4h0M1456.0 694.0h0M550.0 695.0h0M1488.8 930.9h0M423.0 704.0h0M1272.0 357.0h0M1400.9 909.1h0M1215.2 1043.0h0M1287.4 838.1h0M1268.8 798.5h0M1360.8 1037.1h0M886.0 1202.0h0M1394.3 736.8h0M1221.7 1113.8h0M1160.0 774.0h0M1663.1 876.3h0M1022.0 669.0h0M490.9 1116.0h0M1170.0 304.0h0M496.0 1047.0h0M1401.3 1049.3h0M608.2 682.2h0M1158.5 308.4h0M649.0 586.0h0M1401.8 992.9h0M454.0 653.0h0M1418.7 1147.3h0M1255.6 927.1h0M1526.9 913.8h0M1471.8 1092.8h0M1148.1 318.7h0M1365.2 1061.6h0M1415.6 1116.2h0M529.0 780.0h0M1331.2 666.6h0M1324.0 985.0h0M1322.7 966.5h0M1175.8 470.5h0M1263.3 698.8h0M1304.0 538.0h0M1611.2 1063.1h0M1471.1 812.7h0M1452.7 867.3h0M1471.9 1146.1h0M1272.2 455.0h0M1096.8 395.2h0M1516.9 921.1h0M1321.6 908.1h0M1413.7 906.3h0M1231.6 940.7h0M1186.4 324.3h0M1360.7 1116.1h0M455.0 699.0h0M1331.9 926.6h0M1270.0 529.0h0M1162.9 470.8h0M1190.0 371.0h0M1050.0 934.0h0M1308.0 485.0h0M1168.3 405.0h0M1515.4 1048.7h0M1267.1 1041.0h0M1565.8 936.2h0M614.0 595.0h0M993.2 1145.5h0M1032.4 695.2h0M1388.5 998.9h0M1405.7 1025.9h0M864.0 1150.4h0M1248.4 477.8h0M994.0 1152.0h0M1136.8 376.0h0M1314.7 941.1h0M447.0 650.0h0M1506.0 865.0h0M1189.0 263.5h0M1200.6 1080.4h0M1619.4 984.0h0M398.3 654.2h0M1302.9 1003.1h0M1295.9 1018.5h0M1601.0 937.1h0M1187.4 324.7h0M611.5 681.2h0M1694.8 908.8h0M1147.0 263.5h0M1582.4 911.5h0M1214.0 482.0h0M1256.4 925.6h0M1283.5 472.1h0M1058.0 944.0h0M1391.4 994.2h0M626.0 670.0h0M1328.9 999.4h0M612.0 822.0h0M1448.1 1040.4h0M1181.4 438.1h0M1601.5 902.4h0M1223.0 418.7h0M1414.0 886.0h0M1295.9 765.5h0M1400.0 751.0h0M1499.1 1073.2h0M1403.7 1129.6h0M1247.5 921.0h0M1463.8 976.4h0M1210.8 874.1h0M1382.0 1122.8h0M1125.6 385.6h0M621.0 806.0h0M1072.0 384.8h0M1302.8 787.2h0M1295.4 1093.1h0M1243.0 1052.8h0M1446.5 1147.8h0M1036.7 699.0h0M474.1 1099.1h0M1160.6 298.3h0M622.0 704.0h0M1342.3 954.0h0M1379.5 699.0h0M1578.8 950.6h0M1194.9 327.4h0M1635.2 971.4h0M1617.7 890.8h0M1544.7 1116.7h0M1509.1 1016.9h0M741.9 624.6h0M1433.9 1126.5h0M419.2 695.6h0M432.9 744.2h0M1489.7 1020.0h0M1362.4 879.7h0M1324.0 626.0h0M1158.0 808.0h0M1150.0 292.0h0M1567.5 890.4h0M1618.7 885.3h0M1484.7 949.0h0M618.5 540.2h0M1226.4 436.8h0M1273.7 534.4h0M1177.0 1079.9h0M1655.4 948.1h0M889.6 1193.1h0M622.0 739.0h0M1290.2 937.7h0M962.0 670.0h0M1346.6 1069.0h0M1243.3 923.0h0M1447.0 739.0h0M828.0 326.0h0M1528.1 971.4h0M1056.4 1150.1h0M1187.4 1026.8h0M910.0 1194.0h0M1391.0 816.9h0M1427.3 1136.5h0M1589.1 871.5h0M1397.1 1082.1h0M1365.2 681.4h0M1428.5 917.9h0M1246.7 754.6h0M1377.9 986.7h0M1088.0 1062.0h0M1410.4 918.9h0M1137.0 954.0h0M1522.5 1060.2h0M1647.2 969.7h0M1038.0 1114.0h0M1167.9 446.9h0M605.0 626.0h0M710.6 627.0h0M580.0 772.0h0M1276.9 746.8h0M1537.9 944.4h0M1567.3 986.6h0M1689.5 964.0h0M1212.2 430.5h0M1309.0 419.6h0M1388.3 903.3h0M1097.0 963.0h0M1549.0 931.2h0M456.5 1073.9h0M1385.2 717.9h0M1412.1 906.1h0M407.0 757.5h0M592.5 842.4h0M462.3 1081.0h0M1072.0 376.0h0M1546.0 1038.2h0M1393.0 681.5h0M1469.3 974.6h0M1100.0 376.0h0M1601.4 1041.2h0M682.0 596.0h0M1138.0 1116.0h0M1488.1 1121.5h0M1360.4 645.5h0M1356.4 918.5h0M1482.8 969.5h0M1547.6 881.6h0M1381.9 1073.9h0M1320.6 702.0h0M541.3 732.7h0M1594.8 889.4h0M606.3 631.5h0M1593.6 992.6h0M1240.2 1023.4h0M1265.0 518.0h0M1545.9 955.1h0M897.0 1179.0h0M1232.5 898.3h0M1364.5 987.4h0M1382.6 1124.1h0M1425.8 1046.2h0M1252.9 1089.5h0M1217.7 884.8h0M576.0 638.0h0M1525.2 1119.7h0M1309.0 853.3h0M1582.1 832.3h0M972.0 294.0h0M1554.3 1080.2h0M1188.9 750.5h0M378.6 679.9h0M577.8 653.2h0M476.6 1098.9h0M1295.2 862.7h0M526.0 770.0h0M1471.0 1052.0h0M1094.0 938.0h0M1170.0 516.0h0M1216.2 1063.4h0M1376.1 997.4h0M1564.2 873.9h0M1404.4 1018.9h0M568.5 658.6h0M1603.7 920.5h0M1042.0 1156.0h0M1601.6 1019.6h0M1068.5 940.0h0M1241.1 918.9h0M1582.0 1026.7h0M1536.2 1035.3h0M1044.3 1108.2h0M1432.2 1184.9h0M1270.6 1086.0h0M1457.8 936.4h0M680.6 672.9h0M1439.2 1010.2h0M586.4 842.7h0M1241.4 394.7h0M514.6 607.1h0M1184.9 299.2h0M1115.2 392.0h0M1593.9 854.2h0M1452.0 1090.3h0M1189.9 764.4h0M1469.7 952.9h0M1543.1 1014.3h0M1350.8 929.3h0M1535.8 1087.7h0M1152.8 436.9h0M1312.0 593.0h0M1066.2 930.4h0M1052.0 352.0h0M1497.6 842.9h0M1388.5 1128.1h0M1212.0 294.0h0M1376.3 793.2h0M1471.7 857.2h0M1399.5 1089.7h0M526.6 773.6h0M1307.0 993.5h0M1321.6 1045.5h0M1280.0 481.0h0M1426.0 758.0h0M1633.8 971.5h0M1482.3 1012.6h0M956.0 1160.0h0M1550.1 925.6h0M1465.1 1156.3h0M1325.7 666.4h0M655.5 607.5h0M608.2 656.9h0M1313.4 1043.0h0M1374.2 1097.9h0M1046.0 1146.0h0M1420.7 1105.6h0M1050.0 1102.0h0M1603.8 908.4h0M1491.4 1049.9h0M1473.4 860.5h0M1500.9 1077.2h0M656.0 706.0h0M1263.3 1081.9h0M510.0 1037.0h0M1553.7 974.6h0M1181.7 745.8h0M1196.5 970.7h0M441.0 729.0h0M1064.0 948.0h0M1475.3 1048.1h0M1188.0 385.0h0M1427.5 1011.8h0M1185.1 505.6h0M631.0 792.0h0M1116.0 416.0h0M1545.6 921.2h0M796.0 308.0h0M1438.0 1073.5h0M1406.2 1021.1h0M1343.4 875.0h0M612.0 694.0h0M653.2 686.1h0M1618.4 928.9h0M1271.9 1028.0h0M575.1 842.7h0M1585.1 993.7h0M1399.0 688.8h0M1629.8 920.4h0M1026.6 1130.4h0M1460.8 982.8h0M1468.4 1054.6h0M593.0 686.0h0M1204.0 382.0h0M464.0 1086.0h0M1156.1 433.9h0M1646.8 936.0h0M1406.6 1097.3h0M1389.5 876.8h0M1610.3 1026.5h0M1356.4 1055.0h0M1562.2 1033.6h0M1033.0 336.0h0M1518.4 1106.8h0M1636.1 887.1h0M1108.0 364.8h0M1398.9 748.5h0M1120.0 376.0h0M1311.2 969.1h0M1449.2 846.3h0M1496.0 874.3h0M1532.7 1022.6h0M1433.0 690.0h0M1256.6 976.0h0M1197.9 1093.7h0M643.0 708.0h0M1174.5 355.7h0M1157.3 373.2h0M1332.5 969.7h0M1430.6 863.6h0M1478.3 992.2h0M1120.5 243.0h0M492.1 1114.9h0M1051.0 343.0h0M1431.3 940.9h0M1514.2 1104.7h0M1509.8 975.5h0M1334.6 1011.7h0M1271.9 936.4h0M473.5 1091.6h0M1525.0 1115.6h0M596.0 823.6h0M1031.0 296.0h0M1472.2 1040.9h0M1046.2 1121.4h0M1129.7 478.9h0M1420.0 837.4h0M495.0 1052.0h0M1221.8 464.6h0M1104.0 851.4h0M1342.5 899.0h0M1403.9 1024.0h0M629.2 667.8h0M1255.0 376.0h0M528.6 1175.6h0M732.2 637.1h0M1261.5 494.3h0M1013.0 354.0h0M1513.7 1051.3h0M1110.4 466.4h0M526.0 613.0h0M1549.7 1050.3h0M1491.2 1081.7h0M1296.0 779.0h0M1274.0 549.5h0M1352.2 1136.6h0M1462.5 1010.2h0M914.0 685.6h0M1357.5 826.6h0M1414.9 1161.9h0M1517.1 985.2h0M1514.3 914.5h0M1342.9 907.0h0M1503.5 1100.5h0M1140.3 279.2h0M584.7 670.8h0M454.0 1065.1h0M740.0 621.0h0M426.7 693.8h0M1498.5 1186.9h0M1366.5 930.5h0M1301.1 464.6h0M1313.7 586.7h0M1162.0 495.0h0M1334.1 915.3h0M625.8 682.2h0M1466.4 1015.7h0M1183.1 318.5h0M1468.8 1155.6h0M623.9 777.5h0M1482.9 857.3h0M1571.0 939.6h0M862.0 1188.0h0M1264.5 806.6h0M1482.3 931.7h0M1448.7 908.1h0M1347.9 1040.6h0M1260.9 360.3h0M1508.2 1004.0h0M1286.5 1029.4h0M710.2 622.2h0M424.0 752.8h0M495.4 1117.9h0M1403.8 1082.6h0M1139.0 253.0h0M1409.3 796.0h0M453.0 687.0h0M1169.3 299.2h0M1333.6 922.6h0M1427.8 886.9h0M1189.5 885.1h0M1407.2 912.5h0M1565.6 1001.4h0M456.0 693.0h0M1301.7 404.5h0M590.0 624.0h0M1202.1 422.0h0M1174.0 503.0h0M614.0 578.5h0M630.0 780.0h0M1318.8 919.3h0M1500.1 931.5h0M1392.4 975.8h0M610.0 684.0h0M1292.9 1041.6h0M1366.5 723.8h0M1170.3 993.9h0M1360.5 1056.5h0M1585.6 1115.5h0M1463.6 864.0h0M1566.7 949.3h0M462.0 1064.0h0M1085.3 1053.8h0M1294.7 477.5h0M1411.0 1063.8h0M1454.4 941.7h0M1214.0 504.5h0M1302.1 723.7h0M981.0 331.0h0M1134.0 297.0h0M1394.4 1099.7h0M653.0 686.0h0M1450.5 935.8h0M1441.0 841.1h0M1197.0 300.0h0M1449.2 1072.7h0M1284.8 1052.9h0M1136.0 430.4h0M1032.0 1090.0h0M1071.2 399.2h0M1372.9 1061.4h0M1166.0 1102.1h0M1283.3 686.0h0M1502.9 984.5h0M1619.4 934.6h0M1289.0 1081.6h0M1539.3 1091.8h0M1370.0 993.6h0M1036.0 353.0h0M459.7 1079.8h0M1481.0 741.0h0M620.0 682.0h0M1386.8 976.0h0M1367.9 893.1h0M1507.8 900.8h0M1226.0 385.0h0M585.1 743.5h0M1381.7 1008.6h0M1506.6 1072.7h0M1428.5 1082.3h0M1506.0 879.7h0M1307.0 998.1h0M1504.5 1058.7h0M488.0 1096.0h0M1469.2 971.4h0M630.0 672.0h0M1370.6 982.7h0M1000.0 309.0h0M381.6 667.9h0M1148.8 294.2h0M1493.3 1011.4h0M1445.0 939.4h0M1625.6 975.8h0M1307.1 904.9h0M423.0 712.3h0M708.0 624.0h0M934.0 316.0h0M1383.4 957.6h0M619.6 683.2h0M427.9 712.1h0M429.8 728.0h0M1441.0 694.0h0M1436.7 1160.2h0M1430.0 680.0h0M1552.8 895.6h0M1438.3 895.4h0M1186.7 881.3h0M1402.1 757.0h0M1179.0 487.0h0M1427.5 1109.4h0M1326.9 1065.9h0M590.6 835.1h0M1385.6 876.9h0M1572.3 992.3h0M1363.2 912.1h0M1485.1 915.7h0M1155.6 264.7h0M1617.9 1075.9h0M1435.1 848.5h0M986.0 340.0h0M578.1 738.7h0M368.0 652.0h0M624.5 782.2h0M1270.4 1025.7h0M592.0 816.0h0M1600.7 871.5h0M1477.5 766.5h0M1046.0 710.0h0M1537.9 874.2h0M1386.0 681.5h0M1181.1 495.7h0M1182.0 310.0h0M1328.0 1077.3h0M1336.0 1076.7h0M1078.0 313.0h0M1434.9 1128.6h0M668.0 727.0h0M424.0 737.0h0M806.0 339.0h0M1293.3 947.4h0M1083.2 415.2h0M1487.9 1087.2h0M1349.6 769.6h0M1354.9 895.1h0M1228.0 286.5h0M1175.2 514.7h0M1143.0 1021.0h0M1373.2 1012.8h0M1233.6 960.5h0M600.2 615.7h0M970.0 1180.0h0M1235.3 993.0h0M1653.3 894.0h0M1615.6 997.3h0M1267.6 963.0h0M1246.7 1081.8h0M1264.0 596.0h0M1262.5 815.5h0M1150.0 384.0h0M1217.8 872.1h0M1331.5 756.6h0M1603.2 851.2h0M1400.0 681.0h0M1262.3 908.4h0M1130.4 469.6h0M1545.5 844.2h0M1463.9 860.7h0M1323.0 506.0h0M1233.0 374.0h0M1078.0 269.5h0M1431.5 1151.9h0M1327.0 1004.1h0M1508.7 1167.9h0M1312.7 905.0h0M1124.0 968.6h0M1420.1 1045.1h0M1191.8 391.9h0M1600.2 984.5h0M965.4 664.3h0M601.2 590.3h0M1340.0 950.7h0M1507.0 954.8h0M1116.0 325.0h0M1108.7 962.6h0M1058.0 344.0h0M388.6 664.6h0M1471.0 1128.5h0M596.0 640.0h0M1265.3 686.3h0M1342.3 884.5h0M1629.8 925.3h0M567.6 823.0h0M1531.8 822.6h0M538.4 755.1h0M1052.0 726.0h0M881.6 1184.5h0M1043.0 1088.4h0M1264.4 471.9h0M1434.5 954.1h0M386.0 670.0h0M1081.3 955.4h0M1593.6 940.6h0M1293.9 906.8h0M1492.8 1049.3h0M736.1 620.8h0M1003.6 1148.5h0M1299.8 428.6h0M1130.0 1118.0h0M1596.1 1002.6h0M1327.7 709.2h0M1410.2 895.4h0M603.0 573.0h0M671.0 736.0h0M1520.1 1151.5h0M1357.5 883.7h0M1334.1 779.7h0M1534.6 1122.9h0M1192.0 939.2h0M555.6 863.1h0M1392.8 691.8h0M1350.4 1023.3h0M1150.0 1108.0h0M1371.3 887.5h0M1254.9 424.9h0M1359.0 617.0h0M1370.8 1077.7h0M1342.2 930.0h0M447.0 688.0h0M1546.6 900.1h0M1367.0 996.6h0M1447.4 993.3h0M488.0 1092.0h0M1540.5 1001.8h0M1167.0 344.0h0M1213.3 426.0h0M1106.0 1076.0h0M1646.3 1019.9h0M401.5 722.8h0M1209.0 526.0h0M1399.4 678.1h0M1172.0 386.0h0M1535.5 987.5h0M1615.3 934.9h0M1038.7 702.4h0M1526.8 936.8h0M1143.0 405.6h0M615.0 685.0h0M765.5 333.0h0M1058.8 406.8h0M625.0 646.0h0M627.1 774.8h0M1424.8 1008.5h0M1102.0 1081.0h0M1446.5 877.2h0M1075.4 963.6h0M1251.1 398.0h0M1173.8 428.3h0M635.0 664.0h0M1364.5 904.1h0M1078.4 949.6h0M1201.0 493.0h0M1314.6 427.7h0M1519.6 990.8h0M1131.2 436.8h0M1303.8 982.5h0M1548.0 1048.7h0M1429.9 1114.6h0M593.4 839.6h0M1455.8 1083.1h0M591.0 798.0h0M612.4 693.1h0M1278.0 571.0h0M1047.7 1108.1h0M939.0 679.0h0M1172.0 340.0h0M1563.5 1013.7h0M1488.0 953.4h0M1121.2 943.9h0M1607.3 892.9h0M369.2 650.7h0M1478.4 1076.6h0M1103.0 325.0h0M1341.0 1112.1h0M1528.7 870.7h0M1020.1 642.1h0M1520.5 1140.2h0M461.0 695.0h0M1111.4 1054.2h0M1585.5 979.7h0M1411.3 1079.7h0M1223.2 1066.6h0M1096.0 417.6h0M1567.1 897.2h0M1166.0 806.0h0M1304.4 758.3h0M1290.5 429.9h0M700.0 655.0h0M1213.7 465.6h0M1300.0 337.0h0M735.7 618.0h0M1317.3 955.5h0M1250.0 386.0h0M637.0 638.0h0M658.0 684.0h0M1133.6 379.2h0M1303.7 838.4h0M1156.1 416.2h0M1381.3 872.4h0M1322.8 1122.7h0M1472.8 998.8h0M1248.4 984.1h0M602.0 598.0h0M1515.8 997.9h0M1361.6 689.4h0M550.0 623.0h0M1456.0 1019.4h0M1626.2 946.3h0M1431.6 965.4h0M1176.6 383.0h0M1706.8 964.8h0M1481.9 1119.4h0M1581.7 977.2h0M1533.2 976.7h0M1419.2 1113.7h0M1156.0 375.0h0M612.0 554.0h0M1146.0 273.0h0M1358.9 890.0h0M1404.7 958.6h0M1136.0 382.7h0M1483.4 1015.9h0M1437.0 881.5h0M1405.7 1055.7h0M596.0 678.0h0M828.0 302.0h0M570.0 866.0h0M1377.2 905.4h0M1349.8 997.4h0M1447.3 905.0h0M1010.0 1174.0h0M968.0 1152.0h0M608.1 586.6h0M1439.1 694.2h0M1646.0 964.4h0M1603.9 880.1h0M592.0 689.0h0M577.0 679.0h0M1166.1 279.5h0M1447.2 1118.6h0M1176.2 527.7h0M1331.2 785.2h0M1252.9 429.0h0M1419.8 1082.4h0M1527.2 950.6h0M373.6 672.0h0M1562.3 1016.0h0M1366.4 698.3h0M1274.0 638.0h0M1167.0 766.0h0M456.2 694.9h0M1398.9 1037.0h0M620.9 625.2h0M1515.5 864.4h0M1694.8 922.4h0M1704.8 917.9h0M1356.2 1023.5h0M1150.2 406.4h0M533.0 609.0h0M1104.0 295.0h0M1280.0 344.0h0M1390.6 957.6h0M1040.9 719.0h0M704.0 617.0h0M1296.7 795.6h0M1536.9 1105.5h0M1190.0 485.0h0M1360.0 638.5h0M1267.7 1035.1h0M1110.4 472.8h0M1167.3 264.0h0M648.8 596.1h0M1379.8 700.1h0M1153.9 324.4h0M1122.0 1100.0h0M1295.0 485.0h0M1034.0 706.0h0M582.0 657.0h0M1264.0 477.8h0M1290.2 833.9h0M1287.0 333.9h0M353.0 645.0h0M593.0 834.0h0M1617.8 1062.7h0M1140.8 311.3h0M563.1 772.3h0M1487.2 885.7h0M1139.0 278.0h0M1242.1 757.2h0M658.4 728.9h0M1296.6 666.1h0M1520.0 1122.4h0M1199.5 283.8h0M1000.7 412.9h0M1244.3 430.3h0M1300.4 608.5h0M1483.9 834.2h0M1311.7 655.8h0M472.0 682.0h0M612.5 663.2h0M1074.0 1142.0h0M592.9 608.5h0M582.0 752.0h0M1248.6 317.0h0M876.5 1182.3h0M1580.4 853.3h0M1017.6 647.3h0M1224.0 287.0h0M585.0 650.0h0M1333.3 641.4h0M1447.3 922.4h0M1365.7 798.6h0M1150.0 316.0h0M1500.9 1045.1h0M1292.4 701.8h0M1181.3 382.5h0M1206.5 557.0h0M1480.7 969.9h0M1317.4 1087.4h0M1414.9 963.6h0M1505.1 960.8h0M1470.1 1158.1h0M468.0 1081.0h0M1331.2 889.5h0M600.0 677.0h0M470.0 1089.0h0M1140.0 340.0h0M360.2 630.2h0M405.0 726.0h0M1554.5 1015.5h0M1540.6 961.5h0M1045.0 744.0h0M1407.0 667.0h0M1060.0 936.0h0M1259.0 601.0h0M1308.9 896.2h0M748.0 619.0h0M1009.0 307.0h0M1189.2 329.3h0M1456.3 1146.0h0M1228.8 919.0h0M1065.0 325.0h0M441.1 726.4h0M1311.4 986.8h0M622.0 776.0h0M881.0 285.0h0M1115.0 282.0h0M1213.5 272.0h0M1549.4 1125.6h0M1575.8 996.1h0M1255.5 481.8h0M1532.0 930.6h0M1248.0 513.0h0M1225.0 287.0h0M1259.3 848.5h0M1234.6 798.4h0M1267.0 519.0h0M1612.0 958.0h0M713.0 630.0h0M1183.0 534.5h0M599.1 677.4h0M1572.9 993.3h0M354.0 645.0h0M1080.0 363.2h0M1402.2 742.2h0M1487.1 993.7h0M488.4 1061.1h0M494.0 712.0h0M1508.6 902.6h0M1522.3 990.2h0M1530.4 1162.0h0M1395.0 1130.6h0M1528.3 903.9h0M1461.6 1003.5h0M1338.2 1168.9h0M1276.0 333.0h0M1017.0 330.0h0M1446.3 993.2h0M1373.4 739.9h0M1318.9 444.0h0M678.0 640.0h0M1329.1 1070.4h0M1526.1 1109.2h0M628.3 778.5h0M710.0 616.0h0M1480.2 1111.8h0M1350.4 941.0h0M1129.6 388.8h0M556.0 662.0h0M1275.9 1058.8h0M1593.7 1063.7h0M1149.0 276.0h0M1096.8 400.0h0M1400.0 1073.2h0M1113.7 1042.7h0M1043.0 268.5h0M1522.2 1130.0h0M1437.5 986.1h0M433.0 750.5h0M996.0 288.0h0M1432.3 1085.6h0M1545.7 977.1h0M1417.3 1117.1h0M1176.2 492.5h0M1526.2 1029.3h0M1600.0 1004.9h0M1063.2 384.0h0M1503.1 886.0h0M1549.5 894.4h0M1435.7 1045.4h0M1321.8 905.9h0M1066.2 733.5h0M1292.2 1071.3h0M1310.4 544.4h0M1057.1 718.0h0M584.0 838.0h0M1324.6 938.9h0M1303.0 752.1h0M1378.8 1020.6h0M363.2 666.9h0M1386.1 896.5h0M1373.2 1087.3h0M492.0 1063.0h0M679.5 732.8h0M888.0 298.0h0M1053.0 712.8h0M1416.1 899.4h0M1250.9 1051.1h0M1135.2 398.4h0M1567.2 960.6h0M1413.0 732.0h0M610.0 830.0h0M891.0 275.0h0M1493.6 886.9h0M1351.8 854.6h0M1433.1 971.0h0M1541.5 1007.4h0M1248.1 1096.4h0M1173.2 873.0h0M1186.0 999.1h0M624.0 799.0h0M1479.4 813.7h0M452.0 682.0h0M890.0 1190.0h0M1141.0 252.0h0M1178.0 496.0h0M1547.0 1051.6h0M1481.7 1037.8h0M1477.6 1028.1h0M1142.0 1104.0h0M1440.6 967.8h0M1369.8 665.1h0M1184.1 882.0h0M1505.4 875.2h0M1484.0 1013.1h0M581.4 680.3h0M1158.0 417.5h0M1393.5 876.8h0M610.4 568.1h0M1398.9 1166.0h0M1333.9 709.1h0M1367.5 1079.6h0M462.0 1080.0h0M364.9 667.0h0M1169.0 998.0h0M1376.0 775.8h0M1309.6 461.7h0M1268.8 900.7h0M904.0 272.0h0M585.3 824.6h0M1009.1 1172.6h0M560.0 689.0h0M1270.5 809.1h0M1055.1 719.7h0M1405.7 990.6h0M1539.1 845.7h0M1499.0 852.6h0M1455.0 834.1h0M1592.1 869.9h0M420.9 731.0h0M1528.8 1131.8h0M1343.3 1074.6h0M1381.3 990.9h0M1256.8 450.0h0M1140.0 330.0h0M1522.8 1075.2h0M1483.6 816.0h0M614.0 559.0h0M1614.2 1001.8h0M1061.0 313.0h0M1366.8 996.3h0M1470.9 1001.5h0M1108.0 950.0h0M1528.6 838.2h0M569.4 637.0h0M1362.1 689.3h0M1483.6 978.2h0M1663.9 948.2h0M1523.9 886.4h0M1407.2 1041.4h0M1263.4 997.2h0M1350.4 1059.0h0M1513.9 1143.4h0M1297.8 935.6h0M1142.0 1088.0h0M1474.2 1123.7h0M1319.3 765.5h0M1268.7 685.9h0M1389.3 756.8h0M430.0 691.0h0M1395.3 946.8h0M1453.0 773.0h0M1616.8 937.6h0M1366.7 1020.7h0M1297.0 829.3h0M1442.5 1141.1h0M1581.0 1028.5h0M1659.4 962.0h0M1343.0 709.0h0M1281.8 434.9h0M440.0 737.0h0M1487.9 1147.8h0M1434.7 850.2h0M1272.1 336.0h0M1374.8 956.4h0M1499.6 834.4h0M616.7 624.4h0M1268.6 350.9h0M969.0 668.3h0M1507.6 928.3h0M1247.8 870.5h0M1418.4 943.3h0M1319.0 901.7h0M1469.5 726.0h0M1340.1 953.5h0M426.5 649.0h0M1164.9 353.5h0M1394.4 911.1h0M1302.0 314.0h0M1273.0 320.0h0M382.0 674.0h0M1362.1 782.5h0M1348.2 986.1h0M1396.5 1038.7h0M1453.5 1113.7h0M1325.9 883.7h0M1112.0 374.4h0M1588.3 1101.2h0M1204.5 453.4h0M628.0 786.0h0M1170.0 369.0h0M1429.9 829.9h0M1060.0 327.0h0M1133.5 269.5h0M1467.2 1168.8h0M1264.2 944.9h0M1321.0 365.0h0M1090.0 930.0h0M1438.1 1120.2h0M1239.6 1096.0h0M1377.2 888.7h0M937.0 1177.1h0M425.0 730.0h0M1367.6 1042.6h0M1495.0 1113.3h0M958.0 299.0h0M1244.6 290.9h0M1412.5 846.2h0M1381.7 934.6h0M1361.9 701.1h0M1352.9 1046.0h0M1154.5 987.0h0M1511.8 1041.5h0M1341.9 1081.4h0M1489.2 787.0h0M1318.0 334.4h0M1510.7 1036.0h0M1435.2 1105.0h0M1105.6 894.0h0M1267.8 424.3h0M1350.8 998.2h0M1318.7 480.0h0M1514.0 891.3h0M1464.9 1003.5h0M360.0 648.0h0M1184.0 528.3h0M744.0 617.0h0M564.0 687.0h0M1559.0 969.1h0M1310.1 620.7h0M1379.7 760.4h0M910.3 1185.8h0M518.0 1160.0h0M451.0 1062.0h0M1459.6 867.1h0M1418.9 1152.2h0M1424.0 652.0h0M1039.0 1118.3h0M1518.6 887.0h0M978.0 286.0h0M1183.0 363.0h0M623.7 538.9h0M1433.7 1155.0h0M1444.2 1163.0h0M1046.0 702.0h0M1265.5 426.7h0M1181.8 450.2h0M1531.6 995.7h0M1198.7 1020.4h0M1111.4 1058.9h0M1353.4 731.4h0M1176.6 890.8h0M577.8 778.4h0M1319.8 878.6h0M679.3 741.4h0M424.0 700.0h0M1390.3 917.3h0M1104.0 1048.0h0M1276.2 960.2h0M1114.0 932.0h0M375.0 680.0h0M592.0 848.0h0M1473.1 1125.3h0M1466.8 1033.1h0M1230.0 361.0h0M1320.0 495.0h0M1502.9 1090.3h0M1190.0 278.0h0M371.2 662.9h0M1302.8 832.0h0M1552.3 1027.5h0M1438.9 1142.6h0M940.0 1174.0h0M608.0 815.0h0M1423.0 718.0h0M1284.6 439.5h0M422.0 714.0h0M1394.7 1101.9h0M1686.1 885.7h0M538.0 631.0h0M1234.0 495.0h0M1211.5 395.9h0M1306.4 658.1h0M1366.2 748.9h0M1396.4 1028.9h0M1311.3 421.4h0M1479.7 1098.8h0M1264.4 404.4h0M1401.0 911.1h0M1472.5 870.0h0M772.0 332.5h0M497.6 1116.6h0M349.3 644.4h0M1498.6 1181.8h0M1513.8 1093.9h0M1292.0 829.0h0M1224.6 469.1h0M558.9 686.6h0M1310.7 1011.8h0M1558.7 1117.2h0M1610.8 1057.3h0M1564.1 867.1h0M1416.6 1003.4h0M1485.1 1083.4h0M1396.0 693.4h0M1295.1 945.5h0M626.6 794.9h0M1140.0 372.0h0M925.7 426.9h0M1522.1 1135.8h0M1275.0 511.0h0M1132.0 403.2h0M619.8 618.2h0M1548.4 1052.5h0M936.0 1162.0h0M1282.6 881.0h0M1624.1 965.1h0M1515.2 817.8h0M1376.5 1114.6h0M998.0 1156.0h0M1180.0 297.0h0M708.3 616.7h0M1543.7 870.2h0M1437.4 1157.0h0M1304.9 637.4h0M1527.5 1108.0h0M1387.5 901.9h0M1229.5 288.9h0M1486.5 1132.3h0M1162.0 1106.0h0M1264.3 471.2h0M1491.9 1113.2h0M1264.6 906.5h0M1342.5 437.3h0M1440.9 814.0h0M1625.9 987.3h0M610.0 624.0h0M1472.5 861.0h0M604.0 816.0h0M1406.1 890.6h0M1533.6 1075.6h0M631.5 634.5h0M449.4 707.9h0M1555.9 1020.0h0M455.5 737.0h0M1448.3 951.4h0M597.2 693.9h0M1309.7 929.4h0M1409.0 947.0h0M1062.0 704.0h0M1095.9 1065.1h0M1482.7 1037.4h0M1279.0 384.0h0M1641.6 938.9h0M1518.8 985.2h0M1010.0 437.9h0M431.0 681.0h0M1387.2 846.4h0M1385.0 1012.2h0M1451.4 1015.0h0M1389.9 1079.1h0M848.0 1164.0h0M1358.6 721.5h0M1573.5 957.5h0M1368.8 916.0h0M460.9 1073.1h0M878.0 1192.0h0M1368.2 1028.4h0M1516.8 1119.6h0M1101.6 392.0h0M1424.0 737.0h0M1254.2 1067.1h0M1219.2 1010.0h0M1414.0 668.0h0M1552.6 905.5h0M960.0 325.0h0M1324.4 740.0h0M1176.0 517.0h0M1551.7 1111.3h0M578.0 844.0h0M1480.9 828.5h0M610.0 609.8h0M1418.8 870.1h0M1499.5 974.6h0M1250.2 614.0h0M1537.3 957.0h0M502.0 780.0h0M1476.5 1111.5h0M1553.8 972.4h0M1440.8 674.9h0M493.9 1126.9h0M878.0 275.0h0M1555.1 1084.4h0M1461.2 1024.5h0M1272.1 1057.5h0M1567.4 868.8h0M595.0 690.0h0M1107.3 1080.1h0M766.0 338.0h0M1449.6 898.4h0M1373.1 763.3h0M1251.3 1060.2h0M614.0 781.0h0M1149.0 829.0h0M1396.0 1018.2h0M1293.4 955.6h0M1491.1 1085.5h0M1334.2 949.1h0M1591.0 885.0h0M1545.0 1127.4h0M1611.6 1047.9h0M1575.2 1013.3h0M1311.7 805.2h0M1359.1 763.5h0M1419.3 939.6h0M1259.9 776.1h0M1335.4 812.3h0M1314.9 803.1h0M1706.8 915.1h0M1528.1 1067.1h0M1131.0 968.0h0M1453.8 833.3h0M1434.8 968.8h0M1427.0 753.0h0M1374.3 696.3h0M1395.6 1027.0h0M1209.0 533.0h0M1148.0 490.0h0M1367.0 977.0h0M1121.6 1043.2h0M1415.7 785.1h0M1420.2 951.2h0M1344.6 909.9h0M504.7 1137.7h0M1479.2 1031.2h0M1314.0 546.0h0M1281.5 756.1h0M1321.9 702.8h0M1168.9 299.8h0M1310.9 826.8h0M1479.3 1055.0h0M1639.7 1017.2h0M1521.4 855.0h0M1405.0 677.0h0M1559.6 945.2h0M594.7 652.4h0M1359.7 900.8h0M1301.0 721.7h0M1372.7 690.1h0M461.0 699.0h0M1344.5 1005.4h0M1428.1 1048.8h0M1421.1 676.1h0M1232.8 449.8h0M1317.4 1000.1h0M584.0 850.0h0M1148.0 353.0h0M1157.0 267.0h0M1479.8 840.1h0M1440.0 1019.5h0M1176.0 500.0h0M1239.5 909.9h0M1191.1 1075.9h0M1048.0 241.0h0M1469.4 903.5h0M1490.7 835.6h0M1184.7 303.5h0M1578.2 886.5h0M1403.2 908.9h0M1491.2 1087.4h0M1542.7 1138.4h0M1194.8 841.3h0M1461.5 906.6h0M594.0 674.0h0M1350.0 984.5h0M1048.2 729.9h0M1291.6 747.1h0M1231.9 1088.4h0M1435.1 961.6h0M1437.0 757.5h0M1231.4 948.5h0M1344.4 979.4h0M1265.1 676.0h0M1630.2 994.6h0M460.0 672.0h0M1034.0 1148.0h0M1435.9 929.3h0M1422.5 672.6h0M420.0 695.0h0M765.0 625.0h0M1445.1 1017.3h0M1147.3 390.8h0M1616.0 1063.8h0M1317.9 435.0h0M1566.1 1064.3h0M1303.1 1001.7h0M442.0 748.0h0M554.0 607.0h0M1360.7 734.1h0M1372.1 958.2h0M870.0 1188.0h0M1332.0 952.7h0M1318.0 388.0h0M1276.0 531.0h0M1463.7 1125.0h0M1074.0 942.0h0M1462.3 1121.8h0M1374.3 992.0h0M1146.0 305.0h0M671.7 727.2h0M1424.9 1139.9h0M1214.4 408.8h0M1439.0 687.0h0M1151.6 284.7h0M1469.0 1163.8h0M610.0 675.0h0M474.0 1095.0h0M1443.1 818.9h0M1030.2 706.6h0M1312.5 767.1h0M1277.2 901.0h0M1274.4 692.0h0M1378.2 826.2h0M1346.3 673.7h0M1525.1 1052.6h0M1407.1 1119.1h0M1442.0 1080.6h0M1050.0 302.0h0M1216.8 421.2h0M1464.1 1076.9h0M354.0 627.0h0M1090.0 1078.0h0M1098.0 1076.0h0M874.0 1196.0h0M1290.7 778.8h0M1223.1 521.3h0M1359.0 1039.5h0M1338.7 823.6h0M1250.0 308.0h0M1548.4 1092.8h0M1004.0 1140.0h0M1564.0 1054.1h0M858.0 1190.0h0M614.0 796.0h0M571.6 860.4h0M1389.3 991.2h0M1304.0 612.0h0M1311.4 708.6h0M970.0 663.0h0M1238.7 409.8h0M1332.4 703.6h0M1564.2 908.1h0M1396.9 912.1h0M662.0 737.0h0M1396.8 908.7h0M1516.1 992.2h0M1356.5 912.7h0M1397.4 714.6h0M1636.9 975.3h0M1153.3 307.1h0M1487.6 996.1h0M1382.5 991.0h0M1301.1 780.6h0M1337.7 1005.5h0M1249.5 281.1h0M1543.6 1120.2h0M1205.5 1061.5h0M1443.6 924.0h0M1290.9 453.3h0M1182.4 359.3h0M364.0 654.0h0M1458.5 1058.2h0M599.9 699.5h0M1125.6 456.0h0M1388.3 807.2h0M1509.9 1165.3h0M1531.4 921.7h0M1205.1 425.5h0M1401.7 857.5h0M1437.2 915.5h0M1313.0 539.0h0M1345.9 635.3h0M1548.5 972.9h0M966.0 1180.0h0M1587.6 1023.7h0M1361.9 961.8h0M1301.7 764.8h0M1532.1 1113.0h0M1523.8 947.6h0M1433.1 878.3h0M1092.0 932.0h0M1089.0 1082.7h0M449.4 676.5h0M1233.4 1043.4h0M1020.0 287.0h0M1400.0 930.3h0M1158.8 415.9h0M1504.2 802.2h0M593.8 641.5h0M1581.9 887.0h0M1268.2 975.1h0M567.6 847.3h0M1168.0 908.0h0M1465.7 901.1h0M1532.8 863.2h0M1461.1 925.9h0M1488.4 1062.9h0M588.0 670.0h0M1498.8 1027.3h0M1514.0 940.9h0M1046.6 1153.4h0M1684.9 959.0h0M1434.6 826.0h0M1182.0 291.0h0M1429.1 1058.0h0M1276.3 416.0h0M1474.2 912.6h0M1135.2 464.0h0M610.6 612.1h0M1343.4 928.5h0M898.0 315.0h0M1327.9 821.8h0M620.5 662.1h0M1331.9 990.6h0M1231.7 363.7h0M1408.1 1013.1h0M1552.3 957.0h0M1391.0 695.0h0M1349.4 1003.0h0M1322.0 359.1h0M568.0 852.0h0M1141.5 332.4h0M1429.6 982.2h0M1499.2 998.3h0M1030.0 1096.0h0M971.7 1158.7h0M1521.7 995.6h0M1372.9 1036.2h0M1390.7 794.6h0M1194.0 500.0h0M1203.4 416.4h0M1157.0 531.0h0M372.4 669.6h0M1529.1 885.1h0M1024.0 295.0h0M1386.1 874.7h0M1190.0 290.0h0M486.0 1059.0h0M1449.0 1102.7h0M1030.9 702.2h0M1328.3 707.1h0M1202.1 1019.7h0M1511.6 1044.4h0M1200.1 880.8h0M1477.2 1050.4h0M1473.4 1152.7h0M864.8 1180.5h0M1492.7 942.9h0M945.0 302.0h0M1041.0 348.0h0M622.0 543.0h0M1137.6 454.4h0M1169.2 373.3h0M1351.6 1004.1h0M532.0 770.0h0M1275.8 906.1h0M1345.0 698.3h0M1333.2 347.6h0M1278.5 490.5h0M1141.1 256.5h0M521.5 672.5h0M1054.4 400.8h0M1401.2 1123.6h0M1443.8 892.0h0M1519.1 1022.1h0M1642.1 977.3h0M649.3 680.4h0M1328.5 983.9h0M1049.0 311.0h0M736.0 607.0h0M423.7 677.3h0M382.0 661.0h0M1452.2 849.9h0M1186.8 433.2h0M1457.4 930.6h0M443.2 649.8h0M1527.2 843.8h0M1402.0 744.0h0M1293.1 1028.5h0M1413.5 810.4h0M1508.9 1156.4h0M1293.9 936.3h0M1304.0 520.0h0M1578.2 902.0h0M1516.2 895.6h0M1656.5 985.0h0M455.0 1010.0h0M1393.4 887.4h0M1111.0 272.0h0M1450.7 1020.0h0M1193.2 435.1h0M1262.2 493.2h0M610.7 812.4h0M1298.1 960.4h0M1278.0 602.0h0M1390.7 936.4h0M1110.0 1084.0h0M1299.9 657.1h0M1531.0 855.8h0M1270.9 713.2h0M1353.5 707.9h0M606.0 826.0h0M1267.3 1037.0h0M1135.2 368.0h0M1511.2 819.4h0M1593.3 902.6h0M1432.0 681.0h0M1315.0 575.0h0M1197.3 893.3h0M1421.6 924.1h0M1348.7 1059.8h0M1312.0 481.0h0M1318.5 577.7h0M979.0 1178.0h0M1320.3 699.0h0M1455.8 1074.0h0M1115.0 937.0h0M458.8 703.5h0M1147.5 478.0h0M1408.3 1161.8h0M633.3 650.8h0M1533.1 948.8h0M1509.6 908.0h0M1380.9 882.0h0M1383.4 1001.9h0M1116.0 1060.0h0M1523.1 895.5h0M1175.0 300.0h0M1385.2 979.3h0M1583.7 1136.3h0M1237.9 463.1h0M574.0 682.0h0M1467.3 960.6h0M1066.0 700.0h0M1607.2 995.3h0M1475.9 1165.7h0M1042.0 718.0h0M605.6 672.2h0M586.0 638.0h0M1413.0 749.0h0M450.0 1057.0h0M1319.1 746.3h0M1185.0 298.0h0M1578.1 1133.3h0M1185.0 368.0h0M468.6 1062.1h0M1281.7 682.0h0M422.8 654.7h0M1513.6 994.6h0M1218.1 522.8h0M595.0 822.6h0M414.9 736.9h0M1384.1 809.3h0M522.3 769.8h0M547.8 626.8h0M1465.0 1025.0h0M1168.0 1050.0h0M1385.3 1071.4h0M625.2 669.1h0M1269.7 416.7h0M1359.1 1013.0h0M1641.4 1001.0h0M602.5 675.5h0M1417.7 994.4h0M572.0 852.0h0M1388.5 1156.4h0M870.0 1165.0h0M1288.9 392.8h0M560.0 860.0h0M1172.1 475.3h0M1012.0 652.0h0M1176.2 886.7h0M630.0 684.0h0M425.0 696.0h0M1327.5 632.6h0M1407.0 995.8h0M1567.2 987.3h0M1285.0 532.0h0M1119.0 943.5h0M1328.4 992.0h0M1370.4 958.4h0M1538.3 914.6h0M608.4 831.2h0M1381.5 1003.8h0M1227.0 460.7h0M1421.7 1069.6h0M1279.0 498.0h0M1507.8 942.1h0M1312.6 764.6h0M1454.0 778.0h0M1435.2 960.1h0M1186.7 425.6h0M1040.0 1162.0h0M1581.5 922.7h0M381.6 678.0h0M1506.0 1178.0h0M455.9 697.4h0M1261.2 440.3h0M1469.8 927.4h0M1263.4 1014.1h0M1449.6 805.1h0M1313.0 606.0h0M1590.9 1018.7h0M1210.0 385.0h0M1341.7 758.7h0M1211.0 476.5h0M1318.3 939.6h0M604.8 632.2h0M1320.0 627.0h0M526.0 1161.3h0M1195.9 455.0h0M1374.5 725.2h0M680.0 680.0h0M1570.3 842.5h0M1332.2 1007.9h0M1297.0 516.0h0M500.0 1131.0h0M1216.0 512.5h0M1245.0 320.0h0M629.0 780.6h0M1078.0 746.0h0M615.0 828.0h0M592.0 668.0h0M558.0 864.0h0M1536.2 1108.7h0M1475.3 1136.6h0M557.0 637.0h0M468.3 1082.1h0M1494.1 902.3h0M1396.0 758.0h0M1512.2 917.0h0M1346.0 674.9h0M1270.3 329.6h0M1321.3 987.6h0M1396.0 700.0h0M1491.1 1101.0h0M1255.2 932.4h0M1150.0 343.0h0M1360.8 748.6h0M1083.0 885.0h0M1324.6 737.9h0M1497.7 930.4h0M458.0 1068.0h0M1599.8 987.3h0M1170.0 570.0h0M1126.0 1096.0h0M1053.6 723.0h0M1174.6 502.3h0M1488.3 816.0h0M1112.8 409.6h0M1296.1 915.1h0M496.0 1122.0h0M1335.5 949.2h0M980.8 1162.3h0M1308.7 1064.9h0M1336.9 774.8h0M1478.4 883.2h0M1338.7 683.4h0M1233.1 910.7h0M1441.7 880.3h0M1381.4 1156.3h0M1403.1 955.9h0M1249.0 360.0h0M580.0 807.0h0M1182.0 305.0h0M432.9 694.8h0M1511.6 933.2h0M1038.0 1124.0h0M1279.6 412.1h0M623.0 665.1h0M1522.4 882.5h0M1490.1 937.5h0M1364.7 995.5h0M606.0 620.0h0M1469.0 1048.1h0M1463.0 724.0h0M718.0 626.0h0M1416.0 1119.5h0M1383.0 1061.9h0M631.5 538.0h0M1536.2 1046.8h0M1518.5 776.0h0M525.0 764.0h0M1365.5 687.0h0M1367.2 890.8h0M1602.8 975.2h0M1355.8 664.1h0M620.2 639.6h0M736.0 636.0h0M1395.6 703.0h0M594.9 617.4h0M1293.5 758.9h0M1435.2 1037.6h0M1501.0 1090.6h0M455.0 695.6h0M1082.0 928.0h0M1557.1 923.0h0M1140.0 302.0h0M1507.8 1037.1h0M1329.9 791.6h0M1418.4 980.0h0M1076.0 383.2h0M1182.0 357.0h0M1288.3 689.6h0M1167.0 903.0h0M1408.6 676.9h0M1332.0 359.0h0M1182.0 425.8h0M1366.2 883.6h0M1054.0 718.0h0M1296.5 881.6h0M1355.0 947.3h0M1184.0 498.0h0M1614.2 864.8h0M1409.8 1035.1h0M1648.9 1007.8h0M1195.7 476.1h0M1626.3 947.2h0M590.0 753.0h0M1418.6 987.5h0M1226.0 1087.6h0M1294.3 672.7h0M630.5 654.1h0M915.0 292.0h0M1525.4 1014.8h0M431.0 756.5h0M592.6 658.3h0M1543.8 1074.7h0M1548.4 1111.0h0M586.0 644.0h0M1431.5 1029.7h0M1450.5 1136.5h0M1450.4 970.7h0M1559.8 1059.5h0M619.0 539.8h0M644.7 689.7h0M1418.9 1168.9h0M1026.0 320.0h0M578.0 848.0h0M1377.9 721.4h0M1465.9 922.4h0M1578.5 1109.6h0M1369.4 1040.3h0M1569.9 1046.2h0M1292.0 602.0h0M602.0 581.0h0M1479.9 1162.2h0M1511.6 1087.0h0M1408.7 1138.8h0M1546.8 1167.6h0M1070.0 924.0h0M1046.0 308.0h0M1443.7 902.9h0M1176.0 530.0h0M1238.7 403.2h0M1001.0 1177.0h0M1350.6 940.5h0M1217.5 922.9h0M1495.8 1012.2h0M1643.6 1049.5h0M502.0 1039.0h0M1464.0 1121.7h0M1474.6 1041.3h0M1575.1 1100.5h0M1319.0 723.9h0M1464.9 889.6h0M1352.6 644.5h0M1150.0 817.0h0M1549.2 1008.1h0M1336.7 1041.7h0M1527.0 1168.6h0M1308.3 1051.9h0M1501.2 920.2h0M1439.1 1004.3h0M1293.9 823.5h0M1597.2 875.8h0M1200.0 374.0h0M1116.0 452.8h0M1434.9 980.1h0M615.3 577.6h0M1233.4 313.3h0M1281.2 668.2h0M1458.3 1152.6h0M1002.0 269.0h0M1511.5 1071.2h0M1442.7 847.0h0M1463.9 1158.1h0M1298.9 731.4h0M1331.8 987.1h0M1288.1 531.1h0M615.0 656.0h0M1613.4 1003.8h0M1389.2 934.8h0M1116.0 448.0h0M1273.3 656.6h0M1470.0 786.1h0M1360.4 960.5h0M1408.8 842.8h0M1113.0 263.0h0M1434.3 1020.6h0M1215.3 386.4h0M457.0 705.0h0M1318.0 784.7h0M452.7 718.9h0M1164.0 355.0h0M1433.1 888.7h0M1119.2 424.8h0M1366.9 791.6h0M1236.2 975.1h0M1348.0 737.3h0M1544.9 1089.3h0M543.0 662.0h0M1296.5 747.9h0M1478.8 1077.6h0M1451.3 863.2h0M1008.0 1136.0h0M1249.1 512.5h0M1159.0 956.0h0M1441.7 1074.9h0M1471.9 1086.0h0M420.3 718.4h0M450.0 1036.0h0M1383.5 953.4h0M1421.4 905.9h0M1170.6 1003.9h0M712.0 654.0h0M1174.0 524.0h0M1548.7 1097.8h0M557.0 717.0h0M1251.4 970.8h0M1090.2 1059.1h0M1055.0 271.0h0M1056.0 932.0h0M1466.2 1076.5h0M1461.4 957.7h0M1575.7 1039.5h0M1249.7 462.8h0M1414.0 871.1h0M1258.2 336.6h0M712.7 627.8h0M1243.4 418.8h0M1493.3 1103.5h0M609.7 585.4h0M1309.2 434.0h0M1276.7 445.4h0M1527.5 1149.3h0M1482.1 953.9h0M1062.0 1122.0h0M627.0 769.0h0M1563.2 1006.6h0M1467.6 1096.8h0M1524.9 1000.7h0M1637.4 989.1h0M1449.1 908.1h0M354.7 649.8h0M1275.2 794.2h0M1453.3 910.1h0M1206.3 310.6h0M1534.5 1024.2h0M466.0 1076.0h0M1234.0 342.0h0M1482.9 967.6h0M1413.8 1145.8h0M623.0 616.0h0M1353.4 747.4h0M569.0 770.0h0M1369.0 936.7h0M1539.1 1089.2h0M1491.0 1176.7h0M1171.1 383.5h0M551.0 697.0h0M1109.1 1066.5h0M1571.4 1028.3h0M1142.8 449.2h0M1551.1 1067.2h0M1516.9 920.6h0M1090.4 366.4h0M1081.6 760.6h0M1558.8 922.7h0M1147.0 480.0h0M890.0 1187.1h0M1454.8 1074.9h0M1473.3 1159.6h0M1434.0 1007.0h0M570.8 854.9h0M1130.0 950.0h0M723.0 622.0h0M1331.7 357.6h0M1304.7 957.0h0M1540.8 1064.9h0M1134.0 1106.0h0M1317.2 1063.2h0M1313.0 513.0h0M628.0 715.0h0M1480.7 1029.8h0M1166.0 481.0h0M1281.4 439.6h0M1439.7 1197.8h0M1457.1 964.4h0M1241.7 316.4h0M1054.0 1080.0h0M1253.0 449.6h0M1027.6 627.2h0M1038.0 716.0h0M1150.0 527.0h0M1355.2 670.6h0M855.4 1189.8h0M1399.7 1167.5h0M1337.8 741.9h0M1574.3 1017.4h0M1558.9 1061.9h0M1312.3 1024.3h0M1465.6 842.2h0M1604.5 890.6h0M1233.3 909.0h0M886.0 1184.0h0M1578.1 1021.4h0M616.0 639.0h0M1462.1 952.0h0M1087.0 765.6h0M1294.0 937.5h0M1526.1 862.8h0M1030.6 703.3h0M1289.6 600.2h0M1250.4 319.3h0M1292.0 648.5h0M1522.6 1095.2h0M1589.2 1048.2h0M1468.8 1082.1h0M1491.3 1114.6h0M1186.0 379.0h0M723.2 637.9h0M1049.6 1104.7h0M1133.0 942.0h0M1245.0 292.0h0M1400.4 1002.8h0M1135.2 478.4h0M367.9 665.6h0M1513.0 1032.3h0M1489.6 1133.5h0M1241.0 367.0h0M1165.0 330.0h0M1344.7 971.9h0M451.0 693.0h0M1467.3 1119.9h0M1297.7 638.9h0M1170.6 894.4h0M466.0 1088.0h0M908.0 1182.0h0M1040.1 1152.1h0M1411.7 1123.7h0M1411.6 1169.5h0M1027.0 1128.0h0M1371.4 1102.3h0M1285.7 378.3h0M1245.4 400.2h0M1314.9 1014.7h0M1408.4 882.6h0M1306.3 781.2h0M1256.0 616.0h0M1029.6 670.6h0M1357.6 1066.2h0M1561.2 1014.1h0M1334.4 956.5h0M482.0 703.0h0M1122.4 409.6h0M1279.9 504.2h0M552.3 859.5h0M1484.7 1110.1h0M1265.9 469.1h0M1272.0 350.0h0M1424.0 723.0h0M590.7 742.4h0M1216.0 314.0h0M553.0 687.8h0M1232.0 504.0h0M1302.0 887.1h0M1184.0 326.0h0M1519.3 1031.2h0M882.0 1199.8h0M935.0 677.0h0M1382.2 1008.5h0M1312.1 990.1h0M1431.2 1112.2h0M591.1 657.2h0M1405.0 1014.9h0M1473.8 1079.7h0M1503.4 1092.8h0M1415.9 1125.2h0M883.2 1176.3h0M874.0 1184.0h0M1261.2 331.2h0M1580.2 985.6h0M1413.5 1017.8h0M1216.1 956.3h0M1263.6 760.8h0M1334.0 349.0h0M1050.0 720.0h0M719.9 625.3h0M1260.5 764.6h0M611.1 693.1h0M1233.5 957.7h0M1312.5 883.2h0M574.0 842.0h0M1091.2 430.4h0M654.2 590.5h0M1422.5 1031.9h0M494.0 1056.0h0M1194.0 294.0h0M1306.9 894.0h0M1154.0 487.0h0M1452.2 786.2h0M508.0 613.0h0M1491.9 929.7h0M1342.7 1031.2h0M1290.9 775.3h0M1311.3 802.6h0M1424.5 1028.8h0M1218.8 306.3h0M1559.6 1090.4h0M1391.4 930.1h0M1126.0 1040.0h0M1469.5 978.8h0M1515.9 831.5h0M588.3 757.1h0M1166.9 449.9h0M1605.0 1063.8h0M547.0 709.0h0M1507.7 1033.6h0M1078.0 932.0h0M1200.0 386.0h0M1018.0 646.6h0M1540.0 942.4h0M1115.6 1041.7h0M873.0 1207.8h0M1351.2 977.0h0M1541.9 1111.3h0M1118.5 1046.3h0M1492.8 949.8h0M1404.6 677.0h0M610.0 612.0h0M1406.7 894.9h0M1030.0 338.0h0M1488.5 896.2h0M623.0 537.0h0M1317.4 1076.8h0M1166.0 1104.0h0M1450.1 1031.8h0M1020.0 700.0h0M1564.8 961.1h0M627.5 586.0h0M1491.0 850.3h0M1264.2 394.5h0M656.0 689.0h0M1473.9 860.7h0M1400.0 728.0h0M443.7 712.9h0M1445.6 1060.9h0M1050.0 330.0h0M1203.7 455.8h0M1356.4 744.5h0M1707.3 943.4h0M1232.7 1078.7h0M1330.5 723.0h0M1188.2 489.4h0M1347.2 689.1h0M1453.7 918.5h0M1392.4 1074.3h0M1619.5 855.5h0M1220.8 398.5h0M585.0 820.0h0M1440.0 1024.0h0M1467.1 925.3h0M865.5 1200.1h0M1474.8 1077.4h0M582.0 840.0h0M1591.6 900.6h0M1483.2 1055.1h0M1317.7 547.2h0M548.0 632.0h0M1046.0 1106.0h0M1502.9 856.5h0M448.1 699.5h0M1602.6 985.6h0M716.0 628.6h0M1264.0 497.0h0M1475.9 961.1h0M1548.3 1137.5h0M1554.9 1108.3h0M1522.1 973.8h0M564.6 844.1h0M480.5 1063.9h0M596.0 645.0h0M492.0 1118.0h0M1042.0 702.0h0M1425.8 862.2h0M1433.7 978.3h0M1690.6 957.8h0M550.0 840.0h0M576.7 666.6h0M1545.6 961.9h0M1435.0 937.2h0M1579.7 927.2h0M457.0 644.0h0M1193.6 906.7h0M1188.0 324.0h0M1124.8 377.6h0M1448.6 920.1h0M1221.0 550.5h0M412.3 745.2h0M1350.9 1137.7h0M586.0 846.0h0M1098.0 940.0h0M908.0 288.0h0M710.0 633.0h0M1420.8 929.5h0M1395.4 866.7h0M1456.6 1132.8h0M1183.8 386.1h0M1234.7 445.1h0M1518.3 953.8h0M589.8 665.5h0M1468.1 940.6h0M920.0 426.0h0M1498.1 1163.9h0M1189.5 318.0h0M583.8 668.7h0M1602.0 935.2h0M1545.3 938.3h0M1303.9 703.7h0M1031.0 283.0h0M1577.1 881.7h0M970.0 1156.0h0M427.2 699.2h0M1186.5 1012.7h0M1104.8 1051.7h0M1547.8 864.3h0M1326.0 599.3h0M1100.0 348.0h0M1296.8 1038.9h0M1389.0 737.0h0M614.0 636.0h0M1154.8 414.7h0M674.0 572.5h0M1474.9 1035.1h0M968.7 667.9h0M1254.0 624.0h0M1469.2 1064.5h0M1490.6 1145.3h0M1134.0 1069.0h0M1346.1 879.3h0M1431.3 902.9h0M1249.0 518.0h0M1439.0 890.9h0M1126.3 1116.7h0M1215.5 1081.6h0M362.0 664.0h0M487.2 1053.7h0M412.0 737.0h0M1073.2 1104.5h0M1366.8 887.8h0M1067.2 386.4h0M1344.5 942.4h0M1016.0 1142.0h0M1122.0 954.0h0M1302.4 678.6h0M1408.5 812.2h0M1039.9 1117.1h0M1452.9 910.3h0M1416.8 913.0h0M1657.3 934.5h0M1135.0 936.0h0M492.0 704.0h0M1317.6 515.6h0M1194.0 330.0h0M1267.6 589.8h0M578.0 594.0h0M570.6 864.8h0M1362.7 656.3h0M1404.3 839.2h0M1415.5 1086.5h0M1296.0 348.0h0M608.0 657.0h0M623.1 787.1h0M1270.3 661.7h0M1446.5 1076.9h0M1068.0 949.0h0M1144.0 496.0h0M1293.5 442.4h0M1323.3 982.4h0M1124.8 451.2h0M1063.0 745.0h0M1035.4 1125.1h0M1427.6 873.9h0M1521.0 1104.9h0M1254.9 874.2h0M873.9 1191.7h0M477.7 1108.1h0M1291.1 446.9h0M1657.1 950.0h0M1384.2 1043.1h0M1492.7 1027.0h0M525.0 798.0h0M779.0 316.5h0M564.0 868.0h0M1427.2 1107.1h0M1366.1 853.6h0M991.0 311.0h0M1078.5 917.3h0M1514.6 1086.2h0M670.0 730.0h0M1691.0 883.4h0M1517.6 901.7h0M1286.6 799.1h0M1442.9 928.5h0M1309.5 909.0h0M1470.6 901.5h0M1374.0 725.9h0M565.0 760.0h0M1555.3 922.0h0M1349.3 673.7h0M617.0 699.0h0M942.0 292.0h0M1105.6 392.8h0M910.0 1190.7h0M1298.8 945.5h0M614.0 696.0h0M1206.1 1095.4h0M1514.7 1119.4h0M1388.4 1058.3h0M1565.4 891.1h0M1493.1 937.2h0M1398.3 1079.1h0M1528.3 914.2h0M583.0 690.0h0M1647.2 981.5h0M1292.8 534.2h0M1594.6 922.8h0M1497.4 1039.6h0M1048.0 298.0h0M1114.9 490.2h0M1249.7 956.9h0M1367.5 976.1h0M1449.8 1080.9h0M1353.7 936.9h0M1399.9 873.5h0M1388.8 763.6h0M1491.7 850.1h0M1454.7 1064.2h0M1493.5 1102.4h0M1426.9 960.5h0M539.0 728.0h0M1418.7 828.1h0M1521.6 973.0h0M1376.0 970.5h0M1557.8 986.9h0M1410.3 670.1h0M1372.7 1055.7h0M1663.6 979.6h0M1561.6 879.0h0M1411.7 1060.9h0M1260.0 385.0h0M1585.9 915.9h0M1401.5 745.7h0M1221.0 1139.6h0M1275.3 1088.5h0M1598.6 874.5h0M1656.2 973.6h0M1134.0 481.0h0M1240.0 387.0h0M1431.4 1064.4h0M1477.6 934.3h0M1202.0 512.0h0M592.0 758.0h0M1298.0 506.0h0M1492.9 965.1h0M1201.0 412.7h0M1597.0 1009.0h0M1184.5 355.0h0M469.0 1071.5h0M1512.4 889.7h0M705.3 616.2h0M1102.0 1062.0h0M1330.9 784.2h0M1410.3 886.7h0M592.0 655.0h0M1501.3 1126.0h0M1392.0 741.0h0M1304.3 481.5h0M1372.6 945.9h0M1383.6 1089.9h0M690.0 661.0h0M1425.0 768.0h0M1217.5 1052.2h0M1279.2 453.3h0M1083.0 314.0h0M1174.8 310.4h0M478.6 692.1h0M1436.0 668.0h0M859.9 1188.2h0M1185.3 470.7h0M1429.8 1007.3h0M1525.5 1017.8h0M1322.5 891.5h0M1542.1 1000.9h0M1300.2 966.1h0M1495.2 1028.3h0M1337.8 712.1h0M1472.4 1027.2h0M1519.4 1164.9h0M1042.7 928.2h0M459.2 703.1h0M621.4 534.8h0M624.1 651.9h0M1085.6 380.8h0M1582.5 936.7h0M1382.7 864.1h0M1528.4 956.0h0M1196.0 308.0h0M477.8 688.4h0M1373.3 672.8h0M1524.9 899.4h0M1180.0 388.0h0M1327.0 752.0h0M1502.8 1119.2h0M598.0 747.0h0M1225.0 352.0h0M967.0 660.0h0M1365.0 870.1h0M1556.2 967.2h0M1081.0 745.0h0M1598.3 908.9h0M1218.0 337.0h0M435.5 682.1h0M862.5 1183.9h0M1190.0 327.0h0M1243.1 966.6h0M624.0 785.0h0M1438.0 1063.3h0M1267.0 312.0h0M1463.7 991.5h0M1397.4 840.1h0M1487.3 1083.1h0M1235.7 450.1h0M1542.4 1046.1h0M476.0 683.0h0M576.0 651.1h0M972.0 280.0h0M1308.7 992.2h0M1364.5 644.4h0M596.0 767.0h0M1468.8 874.0h0M852.0 1166.0h0M1310.9 1108.8h0M1247.0 289.0h0M1520.7 1007.8h0M575.7 663.5h0M1162.2 340.6h0M1403.0 1052.3h0M558.7 861.2h0M422.0 660.0h0M456.0 1064.0h0M1551.1 1073.6h0M573.2 851.3h0M1447.0 1014.0h0M1204.1 1071.7h0M1569.8 910.6h0M1627.0 988.1h0M1278.4 431.8h0M1448.7 1117.0h0M1309.7 806.4h0M919.6 650.0h0M1278.4 967.4h0M1169.0 1003.0h0M1446.6 1091.1h0M1373.4 1072.7h0M1192.7 472.7h0M1502.6 916.9h0M1068.0 732.0h0M1358.7 754.6h0M1516.1 1105.9h0M518.0 1169.0h0M1332.9 776.6h0M573.0 654.0h0M1350.0 969.4h0M1361.2 725.9h0M1357.8 663.4h0M1481.7 877.9h0M1141.6 944.0h0M1047.0 1111.6h0M630.0 652.0h0M1342.4 726.1h0M1331.8 697.4h0M1322.7 835.4h0M1136.0 720.0h0M1470.4 1101.6h0M1120.0 454.4h0M1337.3 783.9h0M1541.3 923.6h0M1129.0 293.0h0M1510.8 996.9h0M1480.1 1111.9h0M1259.7 314.7h0M1282.0 959.0h0M836.5 313.0h0M1112.0 1112.0h0M1617.7 1073.8h0M1303.4 764.0h0M1643.2 1049.1h0M1506.0 1044.0h0M1449.0 1056.7h0M425.0 753.0h0M1166.4 477.0h0M569.4 849.8h0M1348.5 968.8h0M1234.7 413.4h0M1412.6 932.1h0M1533.5 1080.7h0M524.5 758.8h0M1081.4 761.5h0M1399.3 1023.6h0M1522.6 1055.3h0M1316.1 1060.2h0M558.8 662.9h0M590.0 836.0h0M1183.9 1009.0h0M1523.6 1132.6h0M1305.0 782.9h0M863.3 1186.8h0M1099.2 441.6h0M1325.0 611.0h0M430.0 710.0h0M1055.2 368.0h0M464.0 673.0h0M1293.8 429.4h0M1302.5 709.8h0M1355.6 887.9h0M669.0 613.0h0M1162.0 360.0h0M1261.0 365.0h0M1305.3 1054.1h0M1025.5 239.0h0M1584.6 943.7h0M1509.4 1055.7h0M1456.2 1006.1h0M1522.2 1064.8h0M1518.2 817.4h0M1555.4 998.9h0M1105.3 1076.4h0M1138.4 381.6h0M1419.7 1036.5h0M1469.2 935.5h0M1495.0 982.6h0M1380.0 666.5h0M1022.0 353.0h0M1398.0 839.5h0M1586.6 1114.9h0M614.1 656.7h0M1515.3 1006.7h0M1479.7 859.5h0M1458.7 1091.4h0M1384.0 639.5h0M1143.3 303.9h0M1414.0 686.0h0M1427.0 907.2h0M1523.1 993.2h0M1387.6 976.6h0M1383.5 977.6h0M575.0 826.0h0M1559.8 992.6h0M1470.9 994.7h0M1355.9 1022.1h0M1202.6 520.5h0M1601.2 845.7h0M386.0 660.0h0M1487.2 1014.8h0M1120.0 366.4h0M1480.7 947.6h0M1394.0 738.0h0M557.0 866.0h0M595.2 837.3h0M1302.2 474.1h0M1244.0 287.0h0M1180.0 517.0h0M1439.0 849.9h0M454.2 699.5h0M599.1 710.4h0M859.2 1158.0h0M1208.5 511.5h0M1239.9 1076.9h0M1399.0 748.0h0M1050.0 1154.0h0M1287.0 364.0h0M1471.3 930.8h0M1241.4 458.9h0M1469.4 940.8h0M980.0 341.0h0M1022.0 1160.0h0M1394.0 754.0h0M1343.2 971.5h0M1205.0 334.0h0M1254.4 469.6h0M1244.0 628.0h0M668.0 683.0h0M1010.3 651.9h0M1180.9 272.1h0M1313.0 356.0h0M1133.0 981.0h0M992.9 434.0h0M950.0 441.7h0M1406.5 1020.4h0M1074.0 309.0h0M1499.8 1084.3h0M703.3 620.7h0M441.4 699.4h0M678.0 602.5h0M1721.1 968.3h0M1198.0 331.0h0M1216.1 912.4h0M1432.4 1182.1h0M1297.8 801.3h0M1460.3 1071.4h0M1633.3 978.1h0M1498.6 928.6h0M459.5 673.0h0M1407.0 759.0h0M1420.8 1031.2h0M1397.0 667.0h0M1439.7 1039.0h0M602.0 762.0h0M1056.0 724.0h0M1410.2 996.0h0M1312.1 784.5h0M1446.1 1122.5h0M1309.5 1043.2h0M1334.8 719.0h0M1126.4 412.0h0M1215.6 344.9h0M1043.0 1137.0h0M1148.8 427.9h0M1158.0 382.0h0M1385.7 860.7h0M1451.5 980.7h0M1477.0 752.5h0M1460.3 918.7h0M1469.4 1021.0h0M1401.9 941.5h0M417.0 674.0h0M589.0 658.0h0M1175.0 480.0h0M535.9 764.1h0M581.0 616.0h0M1423.7 1141.1h0M1261.1 760.5h0M467.0 724.0h0M1418.0 1030.6h0M1356.4 1035.5h0M577.3 689.0h0M1124.0 416.0h0M1464.2 837.6h0M1138.0 1100.0h0M602.9 627.8h0M1297.8 749.7h0M1601.2 878.6h0M1319.3 754.2h0M1366.9 898.3h0M1546.3 911.8h0M1189.2 885.5h0M589.0 792.0h0M1326.7 766.4h0M1257.2 1047.6h0M1464.0 1167.0h0M1422.5 950.7h0M1299.7 738.6h0M616.0 775.0h0M1271.0 580.0h0M410.0 730.0h0M1176.1 497.4h0M1457.9 870.6h0M1148.0 984.4h0M1343.0 831.8h0M929.0 1182.0h0M701.0 620.0h0M580.0 833.0h0M1494.9 881.0h0M1378.5 791.0h0M454.0 1036.0h0M1114.4 388.8h0M1325.1 637.2h0M1293.4 747.8h0M1323.4 994.7h0M1666.8 885.8h0M1424.7 892.2h0M1263.4 368.1h0M1029.8 1155.4h0M456.7 708.3h0M560.5 853.8h0M1599.7 917.2h0M1487.2 933.7h0M1449.0 1139.5h0M1078.0 983.0h0M1596.8 974.0h0M1337.8 742.2h0M674.0 686.0h0M1504.9 1059.9h0M1581.2 1045.1h0M451.5 1053.1h0M624.8 537.3h0M1457.5 1128.6h0M1182.6 426.8h0M1350.0 609.0h0M1455.3 1028.0h0M1692.3 874.9h0M1178.2 406.0h0M1179.2 491.0h0M1086.0 1100.0h0M536.0 776.0h0M977.1 411.4h0M1179.0 564.0h0M1319.3 911.1h0M1484.7 827.2h0M1606.9 863.0h0M1405.8 905.3h0M348.0 646.0h0M1248.5 1018.8h0M1120.0 505.0h0M1255.5 800.9h0M1411.0 729.0h0M1266.5 1004.7h0M1395.0 1026.8h0M1376.2 695.2h0M1328.0 614.0h0M466.0 1095.4h0M1531.6 959.2h0M610.0 804.0h0M599.0 580.0h0M1203.7 479.7h0M1159.0 1068.6h0M1599.5 957.0h0M967.0 666.0h0M1258.0 492.0h0M1397.2 892.3h0M1186.6 865.8h0M722.0 633.0h0M582.0 686.0h0M1491.7 1010.6h0M672.5 582.0h0M963.0 290.0h0M1141.4 392.6h0M1387.9 1013.8h0M1085.4 951.6h0M1076.3 756.6h0M974.0 287.0h0M1278.6 454.8h0M1368.2 929.7h0M866.0 1180.0h0M1324.1 889.2h0M1175.7 913.3h0M596.1 846.5h0M1280.5 933.6h0M1550.6 1127.6h0M1397.4 1125.3h0M1138.4 444.8h0M1328.2 742.0h0M1294.4 665.0h0M1373.0 1050.2h0M1390.8 1160.0h0M1353.9 682.5h0M460.0 1072.0h0M1236.9 457.3h0M1147.1 476.7h0M1196.7 500.9h0M572.0 843.3h0M874.0 305.0h0M458.0 648.0h0M1232.0 478.4h0M845.0 355.0h0M1368.9 1105.1h0M1422.7 994.9h0M1384.1 833.1h0M1277.9 460.2h0M645.0 667.0h0M1506.7 1000.6h0M1297.1 781.2h0M1515.8 1061.3h0M1060.0 310.0h0M1288.0 889.3h0M1425.6 729.0h0M1559.9 994.0h0M1449.3 954.4h0M1364.8 909.4h0M1225.2 402.7h0M1070.0 708.0h0M1345.0 1067.3h0M1260.0 355.0h0M1297.8 742.0h0M1592.0 884.5h0M1655.8 949.7h0M600.0 827.3h0M1451.5 955.6h0M1481.0 959.0h0M1124.0 433.6h0M546.0 627.0h0M890.0 1200.0h0M620.0 753.0h0M1604.3 918.0h0M670.9 573.5h0M1217.5 876.5h0M1403.5 858.1h0M1425.6 1097.7h0M1393.4 1108.9h0M1059.8 738.6h0M1242.7 312.4h0M723.2 636.1h0M850.0 1187.0h0M1102.0 1068.0h0M1516.3 907.3h0M1559.7 911.1h0M1635.4 936.6h0M610.7 628.2h0M1691.0 967.8h0M1165.0 936.0h0M1491.2 886.4h0M1557.3 1101.8h0M539.0 613.0h0M570.0 844.0h0M1529.5 949.2h0M1646.2 919.3h0M585.6 682.0h0M458.6 690.4h0M1259.2 868.9h0M564.0 711.0h0M1512.5 931.6h0M1450.8 1061.7h0M1557.0 911.7h0M1492.8 842.0h0M1178.1 490.8h0M1270.0 385.0h0M1331.4 695.0h0M1290.7 676.1h0M1412.3 872.7h0M1441.9 892.4h0M1233.7 948.7h0M1531.6 875.0h0M1596.8 862.9h0M1448.9 1106.6h0M585.3 762.1h0M1407.5 1119.0h0M1558.1 884.0h0M1178.4 327.2h0M1548.9 1144.9h0M727.0 645.0h0M1361.1 1028.2h0M1357.3 667.4h0M1249.5 291.7h0M1449.3 1084.3h0M1227.6 1052.3h0M1156.6 451.9h0M1417.9 890.3h0M1403.4 999.8h0M1043.0 357.0h0M1056.0 1133.0h0M550.0 768.0h0M1405.1 987.4h0M449.7 1063.0h0M728.0 630.0h0M1203.4 474.0h0M1469.3 1076.0h0M1430.4 1048.6h0M1096.0 948.0h0M563.8 858.9h0M1629.2 984.9h0M623.0 693.0h0M1588.2 1122.2h0M1530.0 1133.1h0M1060.0 394.4h0M1516.3 818.6h0M1297.8 644.5h0M1241.9 928.4h0M1459.1 1130.8h0M1265.0 347.0h0M1448.8 924.8h0M1520.0 1102.0h0M1185.5 286.8h0M1231.0 378.0h0M1413.2 1004.5h0M1123.7 972.7h0M1420.0 670.0h0M1431.1 831.7h0M850.2 1173.0h0M1395.2 867.2h0M1014.0 650.0h0M1438.6 1024.4h0M1323.3 1010.3h0M1260.2 931.9h0M1477.7 893.8h0M1394.0 1055.3h0M1637.4 938.5h0M1129.0 299.0h0M1644.3 1016.1h0M1342.7 975.5h0M1396.7 900.5h0M1309.6 344.8h0M1384.7 945.8h0M1399.8 935.7h0M1508.4 906.4h0M1480.6 1114.6h0M1524.4 1035.5h0M1530.3 996.1h0M619.1 699.1h0M1038.0 712.0h0M1506.4 938.1h0M449.1 1059.8h0M1489.6 892.6h0M1319.6 976.7h0M1580.5 1102.8h0M1364.3 985.4h0M1364.8 1031.9h0M1535.4 1161.6h0M514.0 1034.0h0M1301.9 941.0h0M1186.0 579.0h0M1431.0 926.3h0M1636.8 956.5h0M1312.0 426.0h0M1452.0 1026.8h0M1170.0 486.0h0M594.0 827.0h0M1293.5 993.0h0M1097.2 1078.3h0M1264.0 335.0h0M1356.7 1154.5h0M1244.0 498.0h0M572.0 848.0h0M1516.5 1122.7h0M1366.9 1028.3h0M1318.0 742.1h0M1296.5 423.6h0M1019.6 1123.0h0M1497.4 1025.0h0M1139.2 304.8h0M1122.0 1038.0h0M1288.5 650.0h0M1178.5 1098.7h0M471.0 1059.0h0M1511.4 1021.2h0M1251.6 964.8h0M1266.2 1009.4h0M1320.5 795.5h0M886.0 1192.0h0M1255.0 489.0h0M1682.4 986.0h0M1426.8 892.1h0M1252.5 466.0h0M1573.6 1130.3h0M1468.1 980.1h0M1224.0 348.0h0M1439.4 997.5h0M1309.0 938.7h0M1402.5 1002.5h0M1323.9 728.1h0M1048.0 1110.0h0M1650.0 983.8h0M1318.0 689.4h0M1409.6 1154.0h0M1332.2 943.0h0M1321.9 760.3h0M1074.0 952.0h0M1126.0 944.0h0M1612.5 850.8h0M1233.6 1026.6h0M1386.0 1091.7h0M434.0 661.0h0M1348.3 1041.2h0M1480.0 983.0h0M1250.7 290.5h0M1457.5 958.3h0M1391.9 1143.3h0M1299.1 991.8h0M451.3 646.4h0M443.0 672.0h0M521.0 1155.0h0M1147.6 354.8h0M862.9 1195.5h0M1366.6 1020.5h0M1573.4 1089.6h0M1483.8 1195.8h0M1184.0 502.3h0M1472.5 790.1h0M1310.3 397.8h0M1368.0 908.9h0M1529.4 1119.9h0M1556.4 998.7h0M1386.1 1098.9h0M443.6 689.8h0M619.1 770.0h0M1094.0 1080.0h0M999.0 654.6h0M446.0 684.0h0M1333.1 665.1h0M564.0 755.0h0M1042.0 714.0h0M1153.0 365.0h0M1342.5 925.0h0M1671.4 940.2h0M1286.4 408.9h0M449.0 671.8h0M1237.0 892.1h0M1187.7 416.1h0M580.0 733.0h0M1574.8 949.7h0M619.0 750.0h0M654.0 672.0h0M1061.8 933.9h0M1266.7 738.5h0M1381.1 1062.3h0M1255.6 395.1h0M449.0 698.0h0M438.7 725.6h0M568.4 677.4h0M1578.7 879.3h0M601.9 597.4h0M1438.5 918.6h0M1243.8 883.7h0M1325.0 336.0h0M1210.9 276.7h0M1494.1 871.1h0M574.9 833.3h0M1502.0 836.9h0M362.0 651.0h0M481.2 1098.1h0M1592.7 1069.0h0M1421.0 674.0h0M1668.3 920.8h0M1589.5 892.1h0M1440.8 901.3h0M1071.5 921.9h0M1382.7 1020.0h0M1370.3 1060.4h0M1417.2 974.7h0M1346.5 769.6h0M432.4 714.0h0M1291.0 339.0h0M1415.2 916.7h0M660.1 686.3h0M1135.5 259.0h0M1416.9 819.8h0M1427.8 1020.2h0M985.0 257.0h0M1376.6 887.7h0M1163.7 394.8h0M372.0 670.0h0M416.0 723.0h0M866.0 1186.0h0M548.0 612.0h0M1376.1 794.7h0M1422.1 943.6h0M1487.2 949.8h0M1546.0 878.7h0M1527.1 1030.1h0M598.0 832.0h0M1182.0 345.0h0M1478.5 1156.9h0M1438.0 1115.5h0M363.8 621.7h0M1155.5 393.2h0M1609.5 864.9h0M1557.6 1038.1h0M1569.6 995.2h0M1323.0 590.8h0M1420.0 649.0h0M1363.7 1007.4h0M1209.7 297.8h0M1504.9 909.2h0M577.0 759.0h0M1502.7 858.3h0M1282.0 333.0h0M1370.9 1103.5h0M1331.9 721.6h0M1538.7 1115.9h0M533.0 755.0h0M437.8 728.9h0M1341.0 729.5h0M673.0 581.0h0M1015.0 658.6h0M1065.8 939.9h0M496.6 1130.1h0M621.1 636.6h0M1177.9 792.3h0M967.8 662.6h0M636.2 595.1h0M594.0 700.0h0M1333.6 917.6h0M1489.0 1099.6h0M1283.5 792.2h0M1078.0 944.0h0M1236.0 368.0h0M583.2 694.6h0M660.0 725.0h0M1331.7 734.3h0M405.0 723.0h0M1217.2 408.8h0M1066.0 926.0h0M1498.3 1166.9h0M1662.9 890.6h0M1059.2 382.4h0M1294.5 712.2h0M1262.0 508.0h0M560.0 622.0h0M1430.9 842.6h0M1675.6 979.2h0M1530.0 1121.7h0M1336.4 691.8h0M1320.4 1032.0h0M674.6 682.8h0M1224.9 311.9h0M1126.0 350.0h0M1471.6 926.6h0M455.1 653.5h0M430.0 721.0h0M958.0 659.0h0M1145.4 1110.1h0M1247.8 908.2h0M1558.9 928.7h0M578.0 664.0h0M1070.0 948.0h0M350.0 648.0h0M1501.9 988.0h0M1429.1 998.2h0M1138.0 517.0h0M948.0 1172.0h0M1511.6 931.2h0M817.0 296.0h0M1032.0 1108.0h0M1655.9 980.5h0M433.2 715.6h0M1452.3 1142.5h0M1428.7 946.8h0M621.8 780.1h0M593.0 765.0h0M1350.6 903.2h0M1209.0 337.0h0M1059.1 717.9h0M1411.2 969.7h0M518.0 610.0h0M1037.2 1113.6h0M1096.0 366.4h0M1533.8 1094.3h0M616.2 635.7h0M1404.0 755.0h0M508.0 712.0h0M585.8 846.1h0M1402.4 1145.4h0M1366.5 894.9h0M1432.9 1020.8h0M1442.9 1022.0h0M1201.3 894.6h0M420.1 723.6h0M623.0 768.0h0M1181.7 346.2h0M585.1 765.8h0M1068.7 945.0h0M1522.3 810.1h0M1313.4 752.2h0M1522.3 880.8h0M1275.1 451.6h0M1654.5 995.7h0M1127.2 438.4h0M1303.0 511.0h0M1286.8 1095.8h0M1381.1 1110.0h0M618.0 632.0h0M1403.0 698.0h0M1313.3 1102.9h0M1180.4 387.4h0M1458.2 1018.7h0M1541.3 952.9h0M1350.6 739.4h0M1445.0 904.7h0M1414.9 1020.8h0M1318.2 454.4h0M1191.8 329.6h0M1550.3 894.6h0M1051.0 704.7h0M1547.8 1058.2h0M1291.6 761.5h0M1400.0 771.0h0M1035.8 1113.8h0M1560.4 1124.2h0M1062.0 1150.0h0M1185.4 1109.0h0M1500.9 975.8h0M1153.7 812.6h0M1402.0 724.0h0M971.0 299.0h0M1456.0 723.5h0M1190.3 439.5h0M1282.7 992.8h0M1246.0 480.0h0M1267.4 1080.4h0M1383.4 1160.8h0M1398.2 888.3h0M866.0 1192.0h0M1298.1 788.3h0M982.0 269.0h0M1324.8 608.9h0M1490.8 1111.1h0M1007.0 1172.0h0M1486.8 1081.7h0M1358.2 947.5h0M1258.0 605.0h0M1098.4 368.0h0M1638.3 907.8h0M1028.0 328.0h0M1194.9 409.3h0M1450.3 1128.7h0M1422.0 660.0h0M496.7 1048.8h0M1490.4 1015.6h0M614.0 678.0h0M1234.0 339.0h0M1547.7 1031.7h0M1150.4 819.0h0M1406.0 659.0h0M1133.8 1071.1h0M1120.0 1112.0h0M1192.9 995.7h0M1454.3 977.5h0M1075.2 376.8h0M1621.9 894.0h0M1114.0 1074.0h0M655.0 592.0h0M1410.6 1028.8h0M1132.0 372.0h0M1267.0 493.0h0M1446.6 888.2h0M1454.6 1018.4h0M1265.3 714.3h0M1101.5 1054.7h0M1214.0 339.0h0M1392.0 690.0h0M1355.4 1128.4h0M1528.8 916.9h0M1158.0 1096.0h0M1415.3 1108.6h0M1094.0 1056.0h0M1146.0 297.0h0M1439.7 1092.7h0M1214.5 455.9h0M942.0 297.0h0M527.5 610.8h0M1299.5 662.0h0M1353.8 867.2h0M1091.0 264.5h0M1329.4 1014.2h0M1252.9 458.1h0M1264.0 611.0h0M1408.9 1021.3h0M1520.6 1097.9h0M457.0 1048.0h0M650.0 646.5h0M1153.0 298.0h0M368.0 668.0h0M1378.1 1023.2h0M547.0 672.0h0M1329.5 992.6h0M598.0 810.0h0M1701.3 931.2h0M1497.9 1037.4h0M1022.0 692.0h0M600.0 601.0h0M584.0 812.0h0M456.1 1055.5h0M1536.3 1047.8h0M1173.1 812.3h0M1316.0 943.5h0M1062.7 723.9h0M1170.9 514.7h0M498.0 1037.0h0M1471.6 909.0h0M1422.2 959.1h0M1429.9 1071.3h0M1553.3 987.7h0M580.7 853.4h0M1385.5 773.2h0M1412.6 1140.2h0M961.0 309.0h0M1072.0 363.2h0M1364.3 775.8h0M1528.9 1146.7h0M1615.2 864.3h0M1526.9 1128.9h0M1424.4 980.1h0M1426.0 673.0h0M1524.1 879.9h0M613.6 636.6h0M1390.9 680.8h0M1561.8 1005.7h0M1327.4 866.0h0M1384.1 908.5h0M1203.7 1001.3h0M1177.9 880.7h0M1698.9 915.6h0M1624.5 1023.1h0M716.1 628.3h0M932.7 1174.8h0M1359.7 1004.3h0M1130.0 313.0h0M371.0 646.0h0M1026.0 694.0h0M1428.8 934.2h0M1540.6 1092.3h0M1068.0 716.0h0M1497.2 1106.7h0M1469.0 921.3h0M1024.0 702.0h0M640.3 664.2h0M993.0 1176.0h0M1501.4 1139.9h0M1460.8 997.9h0M1429.8 1069.5h0M1380.1 1002.8h0M446.0 710.0h0M394.0 662.0h0M1589.9 1037.5h0M1329.8 1045.2h0M1291.1 870.8h0M1264.9 1019.2h0M1311.0 328.0h0M585.0 674.0h0M1119.0 1028.0h0M1526.9 980.1h0M1357.1 872.5h0M679.4 666.5h0M1185.6 898.4h0M1204.0 1096.1h0M1326.3 1004.9h0M683.2 729.4h0M1453.4 947.6h0M1623.3 885.4h0M624.2 654.2h0M1423.6 817.4h0M1352.8 1083.6h0M1325.5 1031.9h0M1410.4 867.1h0M1532.2 815.5h0M1618.4 972.5h0M1076.0 397.6h0M1030.0 708.0h0M1473.8 952.9h0M1596.7 1005.9h0M1163.1 304.8h0M664.0 612.0h0M600.0 716.0h0M1270.6 420.5h0M1371.5 736.2h0M1543.2 989.8h0M1312.3 784.5h0M854.0 1168.0h0M1174.4 468.1h0M1622.7 956.8h0M1380.0 654.0h0M1450.8 1107.1h0M608.4 831.8h0M1276.0 504.0h0M378.0 654.5h0M1240.0 515.0h0M1100.0 280.0h0M1524.0 820.6h0M1489.0 778.5h0M1255.4 928.1h0M1183.7 328.7h0M1400.0 690.0h0M1296.6 1003.4h0M1416.4 1078.5h0M575.0 858.5h0M1028.6 700.0h0M1381.1 767.6h0M1172.5 287.9h0M1442.3 898.4h0M1488.9 1110.8h0M1386.2 1029.2h0M1236.0 507.0h0M1405.1 967.7h0M607.0 835.0h0M1297.5 877.4h0M1162.2 433.4h0M1036.0 718.0h0M1496.5 1144.9h0M1545.3 858.4h0M1042.8 716.5h0M1323.3 678.1h0M625.0 533.0h0M1303.0 358.0h0M579.6 638.9h0M429.0 740.0h0M1120.0 1080.0h0M1330.5 1053.2h0M1306.0 543.0h0M1463.3 1188.8h0M1204.0 499.0h0M1507.0 885.7h0M1705.6 975.7h0M551.0 630.0h0M1442.0 848.3h0M1456.8 1149.6h0M1312.0 508.0h0M418.3 723.0h0M478.0 718.0h0M1195.1 441.1h0M639.0 682.0h0M1486.6 999.8h0M870.0 1209.0h0M1383.9 993.8h0M898.0 301.0h0M1562.7 1014.3h0M1405.3 1089.3h0M1314.3 707.2h0M1378.7 773.0h0M1308.5 403.9h0M582.5 732.4h0M1298.6 710.0h0M1586.9 977.2h0M1518.5 1105.3h0M1389.0 753.0h0M1079.3 950.0h0M998.0 282.0h0M1338.5 1120.1h0M439.9 739.1h0M1446.4 788.0h0M1460.6 968.4h0M567.0 649.5h0M1248.5 432.2h0M1074.0 1073.0h0M1488.3 891.7h0M1347.4 1054.2h0M1384.7 1093.2h0M1353.3 1099.1h0M587.0 828.8h0M1112.0 1040.0h0M1163.0 298.0h0M1248.5 622.1h0M565.0 859.3h0M1201.3 372.0h0M1254.9 963.7h0M1487.3 1001.3h0M611.1 591.5h0M1611.5 1037.7h0M1041.3 715.3h0M1399.0 709.0h0M1495.2 884.0h0M1261.1 374.8h0M1456.8 1080.9h0M1090.0 1080.0h0M1500.0 921.3h0M1438.5 1104.1h0M1391.4 998.0h0M1171.4 767.5h0M366.0 626.0h0M1202.3 812.1h0M575.1 634.6h0M1335.0 871.0h0M1200.4 522.8h0M749.1 621.1h0M471.8 687.6h0M1576.4 1017.4h0M1592.7 886.0h0M1263.7 779.1h0M1401.1 915.5h0M1577.2 946.6h0M1265.4 761.9h0M1189.8 319.1h0M653.0 703.0h0M1582.2 983.7h0M593.4 703.5h0M1415.3 1105.3h0M1054.0 327.0h0M540.5 768.7h0M1256.0 580.0h0M1465.6 975.2h0M460.0 1057.0h0M1635.8 965.6h0M1575.2 997.3h0M1485.9 1159.5h0M1356.3 698.0h0M1584.0 993.4h0M575.0 666.0h0M1366.9 910.7h0M1078.0 1089.0h0M1134.0 516.0h0M1387.2 873.3h0M1341.5 1138.4h0M1170.8 516.5h0M1114.0 1101.0h0M1370.2 1031.5h0M666.5 583.3h0M1351.5 717.5h0M1332.0 592.0h0M1372.7 904.0h0M1309.0 550.0h0M435.0 650.0h0M451.0 745.0h0M1370.7 733.1h0M1354.8 920.7h0M1338.5 737.7h0M1167.0 487.0h0M1273.4 963.0h0M1293.3 1047.4h0M1164.0 784.0h0M430.0 661.0h0M1114.0 265.5h0M1004.0 1148.0h0M1170.6 406.0h0M1521.4 790.3h0M497.6 1131.0h0M1437.9 1081.0h0M626.8 662.6h0M536.4 740.2h0M1606.4 968.2h0M1314.7 434.7h0M591.1 848.1h0M1430.2 707.3h0M1309.9 1118.1h0M1526.9 1048.1h0M1524.8 1002.6h0M1420.9 760.2h0M1487.1 1118.5h0M1437.1 880.8h0M670.0 585.0h0M609.0 584.0h0M1415.0 841.9h0M1153.0 804.8h0M1137.4 1112.0h0M1365.8 990.1h0M1200.0 298.1h0M462.0 1089.1h0M1480.3 966.0h0M1494.5 1003.9h0M380.0 683.0h0M1028.6 1110.3h0M1040.9 1115.8h0M1327.0 980.2h0M1032.9 718.3h0M1381.7 1158.9h0M1156.0 262.0h0M1098.0 1058.0h0M1514.8 858.1h0M1199.4 821.9h0M398.0 658.0h0M964.0 1154.0h0M1327.8 809.8h0M1439.3 1015.3h0M1264.9 665.0h0M1470.0 903.5h0M418.0 712.0h0M1146.8 399.4h0M1288.8 762.5h0M1152.0 988.0h0M1087.8 929.7h0M1513.8 1079.5h0M588.0 700.0h0M1344.5 707.6h0M1273.1 749.8h0M1139.3 335.3h0M1418.0 1082.5h0M423.7 664.3h0M1204.4 452.3h0M664.5 638.0h0M1319.0 503.0h0M1360.1 1095.2h0M974.3 658.0h0M1431.9 850.6h0M1506.4 858.5h0M1371.9 1018.2h0M611.9 541.2h0M1280.5 696.6h0M1201.3 310.9h0M1476.7 1114.0h0M1153.4 393.3h0M1306.7 907.0h0M1303.0 328.0h0M1307.9 985.3h0M595.9 668.7h0M1427.4 677.1h0M1619.3 948.9h0M1321.9 921.7h0M612.0 602.0h0M1579.8 988.2h0M1232.1 781.7h0M1440.5 991.2h0M1295.1 748.6h0M462.0 715.0h0M1493.1 1002.1h0M958.0 1168.0h0M1150.4 435.7h0M364.7 652.1h0M1323.9 922.1h0M1097.0 936.4h0M1088.0 924.0h0M1544.8 1083.5h0M456.4 1061.6h0M1277.7 761.0h0M1436.5 1058.0h0M1305.0 347.0h0M1277.7 789.4h0M1303.0 998.7h0M1223.0 306.2h0M1338.1 776.8h0M1485.8 1069.1h0M1259.9 430.3h0M1404.2 947.4h0M1568.8 1069.3h0M1417.8 1192.8h0M1324.4 941.7h0M1044.0 300.0h0M1139.1 1103.3h0M1583.6 1060.9h0M1223.5 435.3h0M1541.9 951.7h0M1516.7 793.3h0M1319.9 892.1h0M1496.7 875.4h0M1337.9 883.1h0M1403.0 767.0h0M1488.7 1102.4h0M473.0 713.0h0M1308.0 556.0h0M1397.2 1053.3h0M1256.0 322.0h0M1036.5 240.0h0M623.5 768.7h0M1641.2 913.5h0M1481.7 1047.5h0M1286.0 335.0h0M1104.6 1052.2h0M1346.7 1068.2h0M1444.5 1096.4h0M1391.1 964.2h0M1355.0 910.0h0M1138.0 946.0h0M467.3 723.8h0M1630.8 931.4h0M1269.1 900.8h0M1426.8 1101.7h0M1367.4 1010.3h0M1449.3 1123.9h0M693.0 706.5h0M1264.6 1064.7h0M1113.9 1070.9h0M1183.4 870.6h0M1542.9 1135.3h0M1474.8 845.8h0M651.9 689.3h0M540.0 707.0h0M1083.0 914.4h0M1660.2 936.5h0M1401.0 776.0h0M1161.6 315.3h0M600.0 624.0h0M1412.1 1083.3h0M1485.7 950.2h0M972.0 664.0h0M1328.1 710.9h0M1677.2 967.3h0M1013.6 657.8h0M1612.5 961.7h0M600.2 831.3h0M1330.6 713.3h0M1165.0 818.0h0M460.0 690.0h0M1264.1 954.0h0M1133.0 347.0h0M972.0 269.0h0M1355.2 958.5h0M1436.9 1155.6h0M1376.7 1087.0h0M1473.1 1005.7h0M1582.7 999.2h0M1430.2 879.1h0M441.0 717.0h0M1324.9 1076.5h0M1194.0 377.0h0M1466.7 999.7h0M427.6 740.8h0M1416.8 1050.6h0M1282.0 325.0h0M1382.8 1064.9h0M1456.5 1091.4h0M1333.4 690.4h0M1491.6 1159.1h0M1368.3 914.0h0M610.0 577.0h0M619.2 681.6h0M1299.0 769.2h0M1120.0 313.0h0M1058.1 1128.3h0M654.0 718.0h0M1526.9 963.6h0M483.0 698.0h0M1458.5 1004.0h0M616.0 606.9h0M1276.4 722.3h0M1266.0 300.0h0M1228.0 500.0h0M1612.5 1046.1h0M1368.1 806.0h0M1098.4 388.8h0M1160.0 319.0h0M1630.9 966.3h0M1561.7 965.3h0M1313.7 943.6h0M1436.6 1014.1h0M456.3 1050.8h0M446.0 666.5h0M1407.5 1079.2h0M1521.5 847.0h0M969.0 1171.0h0M1671.7 934.6h0M1408.0 776.0h0M1048.8 1148.9h0M599.0 628.0h0M1034.0 345.0h0M1434.9 990.1h0M1480.8 1001.1h0M1356.9 858.1h0M562.0 856.0h0M563.0 662.0h0M1262.0 718.4h0M1326.3 656.1h0M1464.7 1044.0h0M907.0 269.0h0M1354.6 843.2h0M1070.0 350.0h0M1351.4 935.6h0M1068.0 1096.0h0M1207.1 930.0h0M1359.0 1093.7h0M1395.5 1013.6h0M1150.0 1092.0h0M1324.0 580.0h0M1390.5 688.7h0M1361.4 954.9h0M619.8 677.3h0M1539.3 868.1h0M940.0 1144.4h0M1132.8 434.4h0M1363.4 872.5h0M1509.6 885.5h0M1313.3 806.2h0M1490.4 887.8h0M1406.7 742.3h0M604.0 606.0h0M506.5 1132.0h0M602.9 572.6h0M1455.0 1006.4h0M941.0 673.0h0M1419.2 889.0h0M1439.0 1012.8h0M1497.0 1132.3h0M1530.5 912.4h0M476.0 1098.0h0M1257.8 923.3h0M1319.3 761.3h0M1465.7 980.9h0M1435.1 919.0h0M521.0 791.6h0M1598.8 1109.4h0M1353.2 1039.3h0M1086.0 952.0h0M520.0 1166.0h0M1408.5 1043.6h0M1261.0 293.8h0M1499.3 873.1h0M1025.0 1121.4h0M1419.9 987.9h0M618.4 662.8h0M1145.1 379.0h0M1283.0 504.0h0M717.2 623.3h0M1310.8 982.6h0M578.3 850.7h0M1348.3 718.7h0M851.0 1160.8h0M1544.9 975.5h0M1426.2 916.0h0M1334.7 757.9h0M1453.6 980.8h0M1277.8 1078.5h0M1414.0 780.0h0M1576.8 898.0h0M1361.3 910.4h0M1418.9 931.0h0M1179.1 291.6h0M1518.6 973.8h0M1289.7 478.8h0M1437.7 1091.9h0M609.1 612.6h0M1136.0 472.0h0M1511.7 1069.1h0M1470.0 971.8h0M1593.4 890.7h0M1456.1 976.4h0M1189.3 469.8h0M1549.2 1133.6h0M1524.1 1067.0h0M1478.8 1002.0h0M1002.1 407.9h0M1522.2 819.1h0M558.6 866.9h0M1527.2 1164.8h0M1229.4 928.9h0M1128.0 476.0h0M1300.6 837.5h0M1356.0 944.3h0M1249.5 446.3h0M581.0 680.0h0M1392.4 755.1h0M1279.7 337.4h0M1183.3 877.7h0M626.7 673.0h0M1352.0 665.1h0M1604.8 882.3h0M1457.1 995.7h0M454.0 1052.0h0M1290.2 648.9h0M1172.0 287.0h0M453.0 661.0h0M1372.5 1004.4h0M1130.0 504.0h0M1331.3 1032.9h0M1141.6 1009.0h0M1321.4 901.0h0M1364.5 933.8h0M1467.6 1007.5h0M1414.2 1080.4h0M1371.0 733.4h0M1496.5 1014.4h0M1306.8 345.8h0M1532.9 1018.2h0M663.9 723.5h0M1354.8 750.2h0M838.0 367.0h0M1287.8 1002.1h0M1252.0 985.3h0M599.2 606.7h0M1226.0 462.9h0M1210.8 1105.5h0M678.0 623.0h0M1286.2 1002.2h0M500.0 702.0h0M1058.0 954.0h0M1420.4 1140.4h0M1283.5 333.5h0M590.7 701.1h0M868.0 1202.0h0M1044.0 932.0h0M1171.0 485.1h0M1340.8 674.1h0M1400.5 672.5h0M602.8 845.0h0M1257.4 773.0h0M1328.0 356.0h0M1054.9 926.1h0M490.0 1116.0h0M1632.3 874.7h0M1273.8 1045.1h0M1272.3 1083.9h0M1469.0 729.0h0M1592.0 967.0h0M478.0 678.0h0M1657.2 936.7h0M1449.1 845.3h0M1371.0 732.0h0M1467.5 1078.1h0M1688.9 965.4h0M1669.2 953.6h0M386.8 658.6h0M1489.4 1017.9h0M1053.0 744.0h0M1338.6 1024.1h0M1265.0 321.0h0M1361.5 672.7h0M595.0 657.0h0M1280.0 526.0h0M1295.0 388.0h0M1229.8 375.7h0M1340.1 730.1h0M1191.5 892.8h0M423.0 688.0h0M1294.0 343.0h0M1319.0 706.0h0M1514.7 1107.2h0M1345.9 805.5h0M1349.3 694.0h0M1386.0 718.0h0M595.2 650.0h0M1501.6 946.7h0M1270.7 456.9h0M1060.7 925.7h0M1146.6 290.2h0M1483.1 971.9h0M1027.5 1124.3h0M1447.6 1012.3h0M659.5 600.5h0M1366.2 902.0h0M574.0 657.0h0M1409.8 921.1h0M1027.0 307.0h0M1472.6 1062.1h0M1328.2 829.4h0M1208.5 425.7h0M1371.8 923.4h0M1087.2 965.6h0M1684.0 888.7h0M1499.2 1114.9h0M1061.6 376.0h0M982.0 661.6h0M1155.7 433.3h0M529.5 1163.8h0M1316.0 562.0h0M1441.5 1185.3h0M1342.9 968.3h0M1050.0 1096.0h0M1530.3 930.1h0M378.0 664.0h0M1288.0 628.0h0M509.6 1146.0h0M1270.7 471.8h0M1018.0 643.0h0M1358.8 1049.5h0M1308.0 563.0h0M1344.6 453.7h0M1488.4 1157.3h0M1234.6 1101.8h0M1465.6 952.8h0M1224.9 289.5h0M625.0 713.0h0M1300.1 899.4h0M1275.0 460.0h0M1235.1 935.6h0M1063.9 1119.4h0M590.0 615.0h0M1353.6 652.4h0M1128.8 380.0h0M1651.8 981.9h0M1429.3 967.0h0M1241.5 603.0h0M1146.1 461.5h0M1371.2 926.4h0M1423.8 1050.3h0M1354.9 741.4h0M1202.0 545.0h0M1088.0 396.0h0M644.0 715.0h0M1424.3 894.5h0M1078.0 304.0h0M813.0 299.0h0M1502.7 896.5h0M1490.4 914.2h0M1223.0 304.0h0M1393.0 712.0h0M1550.5 970.0h0M1436.0 1019.1h0M1350.6 769.4h0M1336.9 848.9h0M1133.6 425.6h0M1032.0 709.0h0M1548.6 1041.8h0M1472.0 1122.5h0M1533.0 937.6h0M1037.6 710.6h0M1375.9 690.2h0M1404.6 1146.8h0M1409.4 862.3h0M606.0 632.0h0M1348.9 1038.8h0M1244.1 1040.9h0M1476.9 909.3h0M1429.7 1069.0h0M1484.0 903.8h0M615.0 738.0h0M1404.1 1111.3h0M1183.0 329.0h0M1248.1 409.0h0M1554.8 989.4h0M1405.9 705.8h0M380.0 670.0h0M363.2 622.5h0M1109.7 945.9h0M614.0 653.0h0M522.0 612.0h0M582.0 848.1h0M1311.7 930.1h0M1450.8 813.3h0M1263.0 514.0h0M1426.3 829.9h0M418.0 670.0h0M1255.0 521.0h0M607.4 688.2h0M1427.8 1061.2h0M1665.1 908.6h0M1368.6 994.9h0M1300.0 606.0h0M1315.6 580.9h0M1411.3 881.8h0M559.2 860.9h0M685.8 729.3h0M513.0 1156.9h0M1474.6 1036.9h0M1031.0 322.0h0M1047.1 410.7h0M1454.2 1131.9h0M1320.5 483.1h0M503.0 741.0h0M1546.2 949.8h0M1358.7 700.9h0M1328.4 1000.8h0M1365.0 941.1h0M1437.4 854.4h0M1415.0 677.0h0M980.0 1160.0h0M1370.5 785.3h0M1167.0 862.0h0M664.0 686.0h0M1287.3 542.8h0M1304.9 996.9h0M1546.5 1018.0h0M1426.8 890.8h0M542.0 632.0h0M712.4 628.0h0M1545.7 988.5h0M1366.1 962.4h0M1155.0 309.0h0M930.7 1185.8h0M1169.0 1094.0h0M1572.6 948.9h0M1454.0 961.1h0M1292.0 503.0h0M1629.6 981.8h0M685.0 731.0h0M1234.6 405.2h0M732.0 636.0h0M1405.8 906.8h0M1189.6 404.7h0M1555.0 1072.9h0M1474.4 1079.4h0M604.0 672.0h0M1388.8 992.2h0M712.0 627.0h0M1039.2 1148.0h0M1116.8 468.0h0M1162.9 429.8h0M1514.2 949.4h0M1204.4 1049.3h0M870.5 1197.4h0M1555.8 1081.7h0M1336.8 937.2h0M1054.2 703.2h0M993.6 430.0h0M364.0 667.0h0M1686.6 931.4h0M1104.9 1055.5h0M1179.3 1086.8h0M1304.0 573.0h0M1297.7 991.5h0M1662.2 987.7h0M1168.0 940.0h0M1157.7 1099.0h0M1168.9 440.2h0M606.0 592.0h0M1193.3 461.1h0M1359.2 709.9h0M650.0 694.0h0M1198.1 391.1h0M1364.8 773.3h0M455.4 689.5h0M1351.9 1035.1h0M1200.7 376.6h0M1306.2 476.5h0M494.5 1062.1h0M1687.6 937.8h0M1342.1 928.5h0M1144.0 985.0h0M1151.0 1064.4h0M1394.6 860.2h0M1617.9 1020.5h0M1095.0 248.0h0M1073.0 356.0h0M620.0 678.0h0M1319.0 616.0h0M530.0 766.0h0M1155.7 443.5h0M709.5 637.1h0M1297.7 766.7h0M1452.9 971.3h0M1143.0 292.0h0M976.0 299.0h0M1400.2 976.7h0M1110.4 417.6h0M969.7 1176.4h0M488.0 1114.0h0M1098.0 321.0h0M1375.7 776.2h0M1456.8 1096.8h0M1448.0 952.3h0M1413.4 730.9h0M1180.0 328.0h0M1347.6 761.2h0M894.0 1188.0h0M1584.9 982.9h0M1447.4 1041.1h0M626.0 694.0h0M1357.5 905.9h0M1401.2 934.6h0M1072.0 971.6h0M1004.0 1116.0h0M844.0 1162.0h0M562.3 853.9h0M1231.5 934.2h0M1566.4 1048.8h0M1266.0 354.0h0M1133.6 473.6h0M548.0 772.0h0M732.9 626.1h0M860.0 1194.3h0M1505.5 1056.3h0M1499.1 1087.5h0M1310.3 409.5h0M1316.0 375.0h0M1268.0 344.0h0M1465.3 933.3h0M1582.8 931.0h0M1453.8 848.4h0M1491.5 860.3h0M1461.2 939.2h0M1503.5 1196.2h0M536.0 786.0h0M1454.7 1001.2h0M1082.0 1130.0h0M1321.0 486.0h0M1604.5 902.5h0M1343.2 870.5h0M680.7 727.2h0M1619.2 918.1h0M1532.8 1135.4h0M495.1 1121.4h0M420.7 732.9h0M645.0 710.0h0M1170.3 298.2h0M1470.7 1135.2h0M1545.9 900.3h0M1578.4 909.9h0M1000.0 1142.0h0M1468.6 1168.2h0M1458.1 1103.3h0M1317.0 379.0h0M1427.0 1140.2h0M1623.7 934.3h0M1330.8 945.1h0M1231.9 1029.7h0M1509.9 1075.4h0M1390.6 1025.5h0M561.3 698.8h0M1104.8 366.4h0M1280.3 477.3h0M1405.0 726.1h0M1403.5 882.8h0M1296.4 758.4h0M1061.0 906.6h0M1469.2 1020.4h0M1513.0 978.0h0M636.0 605.0h0M1166.0 508.0h0M1377.3 753.2h0M1422.2 1135.8h0M1036.0 267.0h0M377.6 669.8h0M1233.2 775.9h0M1448.0 710.0h0M1544.1 1107.4h0M1043.4 710.5h0M1300.4 717.2h0M472.0 1092.0h0M1233.5 275.0h0M1124.0 938.0h0M1325.5 745.0h0M1302.0 497.0h0M1536.1 1085.3h0M1110.0 1044.0h0M1403.5 1088.4h0M624.6 784.4h0M1572.0 976.4h0M1704.5 987.9h0M1149.6 299.9h0M874.3 1193.6h0M1074.0 1108.0h0M1379.8 1012.6h0M1159.6 1039.0h0M1437.0 672.0h0M1173.7 1004.0h0M1478.6 1073.5h0M1412.0 716.0h0M1032.0 271.0h0M1146.6 313.4h0M1090.0 1055.0h0M529.0 758.0h0M1355.8 897.0h0M1294.7 602.8h0M1123.2 946.4h0M1486.6 876.0h0M1339.4 800.8h0M1291.7 1000.0h0M1173.0 302.0h0M1309.3 1062.7h0M454.4 1002.0h0M1491.9 999.5h0M1503.9 857.7h0M1685.0 989.7h0M451.0 724.9h0M860.8 1195.6h0M348.6 633.2h0M596.6 583.0h0M1350.8 764.3h0M1406.2 986.1h0M1694.6 985.0h0M1465.0 935.0h0M1455.0 917.5h0M1602.7 984.1h0M365.7 670.1h0M1471.8 1046.8h0M676.9 736.3h0M1372.0 886.0h0M1178.0 361.0h0M1129.0 974.4h0M729.4 643.3h0M1280.2 479.6h0M1476.1 882.0h0M1223.0 487.5h0M1513.7 978.1h0M1471.1 797.1h0M1210.0 312.0h0M1417.6 958.3h0M1533.5 931.3h0M1336.1 1059.8h0M1349.4 959.0h0M1296.0 482.0h0M647.0 711.8h0M1200.0 527.0h0M737.9 626.5h0M1483.8 982.3h0M1407.1 1121.5h0M1472.5 1073.5h0M1450.3 964.9h0M1352.8 991.7h0M1168.8 1097.2h0M1469.9 912.8h0M440.8 715.8h0M1106.0 354.0h0M1261.1 1002.1h0M482.3 1108.2h0M1435.7 943.9h0M1285.1 981.1h0M504.0 609.0h0M1568.7 1015.8h0M1466.6 1195.9h0M1291.7 911.3h0M1218.8 1054.6h0M834.0 369.0h0M569.9 840.1h0M1199.0 289.0h0M1397.9 759.9h0M1401.9 732.2h0M1510.0 1042.6h0M645.0 657.0h0M1380.4 1001.3h0M449.0 730.0h0M1645.5 954.9h0M585.4 830.6h0M446.0 704.0h0M1298.8 1053.6h0M1215.2 1045.6h0M1543.1 1049.2h0M1224.9 1068.7h0M580.0 860.0h0M548.0 687.0h0M602.2 578.1h0M1474.7 849.7h0M1053.2 928.5h0M1582.7 1079.7h0M1237.8 1094.0h0M1526.0 1096.0h0M1397.1 978.5h0M1101.1 1080.0h0M1492.3 901.1h0M692.0 548.0h0M1039.7 1147.3h0M1470.1 987.8h0M1169.0 868.0h0M1213.8 473.3h0M1034.0 273.0h0M1310.0 343.0h0M882.0 1196.0h0M1702.8 947.6h0M1338.9 932.1h0M1342.7 954.0h0M1432.5 956.3h0M1544.7 1166.1h0M1481.4 1119.2h0M1461.8 844.9h0M586.2 675.2h0M1502.3 1049.0h0M1028.0 700.0h0M629.7 676.0h0M1514.7 1074.3h0M887.7 1205.8h0M1301.7 414.8h0M1362.4 1084.7h0M1299.5 807.8h0M1349.9 960.8h0M1108.0 453.6h0M1201.0 925.5h0M1175.0 330.0h0M1453.6 1082.5h0M1403.5 693.8h0M1613.0 1068.1h0M1161.0 392.7h0M612.0 566.0h0M1265.1 412.6h0M676.4 740.2h0M1536.2 1121.7h0M1478.5 964.1h0M948.0 261.0h0M562.0 657.0h0M591.0 680.9h0M1426.8 786.6h0M1316.0 1024.4h0M1048.0 1100.0h0M603.8 826.6h0M1564.9 932.0h0M1367.6 948.6h0M1612.1 885.1h0M1297.7 907.6h0M1423.0 729.0h0M1365.4 693.7h0M1263.4 451.2h0M1431.6 1003.6h0M1309.8 907.9h0M1336.1 649.0h0M1270.5 758.3h0M1228.8 438.0h0M1069.2 709.4h0M619.0 718.5h0M539.0 707.0h0M609.6 598.4h0M1043.8 716.1h0M1182.9 385.6h0M1122.4 428.0h0M1431.1 1142.5h0M1378.4 1077.6h0M1265.0 510.0h0M616.5 779.2h0M1011.0 1169.0h0M1574.1 1010.3h0M1428.0 1123.0h0M1380.8 760.2h0M1326.0 501.0h0M1297.2 953.4h0M1321.6 1040.4h0M1441.3 1084.0h0M1214.9 1047.3h0M605.7 595.2h0M1313.7 997.3h0M448.7 677.7h0M1407.0 1034.8h0M1186.1 495.0h0M451.0 710.0h0M1295.0 523.0h0M693.0 542.0h0M1331.9 1027.3h0M1322.3 684.3h0M1406.4 681.2h0M1292.1 544.0h0M1327.2 797.3h0M1200.3 1103.5h0M1409.4 968.6h0M1570.1 907.1h0M629.7 671.1h0M607.0 567.0h0M411.0 657.0h0M1415.5 1009.4h0M1095.0 340.0h0M1533.6 1149.4h0M1539.9 1043.0h0M1520.8 1038.6h0M1538.1 843.1h0M1552.2 1024.5h0M1209.0 494.0h0M1408.0 678.0h0M1377.9 1006.1h0M1193.0 532.0h0M1536.4 992.3h0M1457.1 978.5h0M1468.7 1057.5h0M1266.0 592.0h0M562.0 627.0h0M1543.5 1109.0h0M1116.0 1050.0h0M1603.2 1045.9h0M384.7 683.2h0M606.2 661.5h0M1456.9 893.4h0M1225.9 1007.7h0M856.0 298.0h0M1387.7 919.6h0M1353.1 895.8h0M1613.3 1095.9h0M1444.3 1144.4h0M633.0 654.0h0M608.0 604.0h0M1197.8 1080.8h0M1120.8 448.8h0M565.2 634.8h0M1502.9 911.2h0M488.7 1111.0h0M1214.8 444.5h0M1550.5 992.3h0M523.1 1157.6h0M1324.2 607.2h0M1204.3 432.4h0M561.6 849.1h0M1059.0 948.4h0M1638.0 948.0h0M1327.7 877.2h0M1104.0 1128.0h0M1702.2 923.4h0M1268.0 542.0h0M1440.1 910.7h0M1232.4 937.1h0M1395.6 1080.0h0M584.7 860.7h0M1305.2 1050.8h0M1407.9 937.9h0M1082.0 954.0h0M1615.3 1005.7h0M479.0 1109.0h0M1346.3 642.9h0M1561.1 1103.7h0M1590.3 1070.0h0M1408.0 685.0h0M1588.7 955.5h0M447.8 694.8h0M1259.5 750.6h0M794.0 338.0h0M1447.0 769.5h0M1084.0 762.0h0M1487.0 798.7h0M1657.9 906.3h0M1196.4 482.4h0M1162.3 378.0h0M1034.0 1097.0h0M1481.9 1061.1h0M1076.0 963.0h0M910.0 1180.0h0M1535.5 1024.7h0M1374.7 928.0h0M1297.8 804.3h0M532.5 769.6h0M1076.0 364.8h0M1520.8 967.6h0M1304.1 517.7h0M1464.6 1069.6h0M1395.0 1000.0h0M1259.4 455.0h0M1327.4 832.4h0M1155.2 430.7h0M1026.7 1125.0h0M584.7 669.4h0M1553.3 874.9h0M1617.3 979.0h0M1615.3 988.9h0M574.2 640.7h0M1055.0 303.0h0M1152.0 352.5h0M904.0 1180.0h0M578.0 641.0h0M1301.9 464.8h0M1442.2 1142.8h0M1227.6 1056.1h0M632.0 669.0h0M1187.8 891.4h0M1514.2 1062.1h0M1520.8 1044.4h0M1333.5 942.7h0M428.0 705.0h0M978.0 660.0h0M1320.3 1111.6h0M429.0 747.0h0M1225.9 402.7h0M1538.9 1036.2h0M813.0 336.0h0M570.0 643.0h0M1280.4 525.4h0M1156.0 1088.0h0M1521.2 975.3h0M1610.2 1093.1h0M1328.8 910.1h0M412.0 721.0h0M1616.0 1083.3h0M1326.7 459.6h0M1462.7 884.7h0M616.0 769.0h0M1332.7 778.7h0M1387.9 849.3h0M1312.7 678.5h0M1164.7 362.1h0M1448.2 936.0h0M1057.6 724.4h0M1078.0 1064.0h0M1241.7 640.0h0M1623.4 884.4h0M1472.6 1147.1h0M1058.0 720.0h0M1009.7 1149.2h0M455.2 638.1h0M562.0 828.0h0M1412.0 766.0h0M1378.6 932.8h0M1291.9 810.9h0M1102.0 956.0h0M570.0 659.0h0M918.0 1194.0h0M1447.4 884.6h0M1291.6 759.0h0M1044.3 386.9h0M1353.5 1097.3h0M1439.5 938.3h0M728.0 623.0h0M376.0 672.0h0M442.0 733.5h0M1368.2 914.0h0M1617.3 1019.6h0M1401.9 865.3h0M1051.1 1145.8h0M455.1 1061.9h0M362.4 663.1h0M1034.3 713.7h0M1334.3 683.2h0M1570.2 877.0h0M1178.1 296.1h0M1240.0 314.0h0M450.0 1051.0h0M1349.1 780.6h0M1593.2 1022.0h0M1356.9 936.4h0M1090.4 416.0h0M1076.7 763.4h0M1472.0 922.8h0M878.0 1180.0h0M598.4 672.9h0M936.4 436.4h0M1444.2 994.1h0M1456.3 995.4h0M1447.1 1050.3h0M635.0 690.0h0M630.0 777.0h0M1230.3 1022.0h0M1525.8 951.0h0M501.5 1050.1h0M1269.0 414.3h0M1234.8 425.5h0M1239.0 757.5h0M1414.5 744.5h0M1252.9 474.8h0M1523.3 872.0h0M1513.9 1023.6h0M1348.5 743.7h0M1307.0 366.0h0M1550.5 1169.0h0M1438.1 1118.3h0M1549.7 983.4h0M1232.8 375.4h0M1576.2 1055.5h0M1415.9 769.6h0M1320.0 357.0h0M370.0 662.0h0M1244.1 413.6h0M1043.6 1148.5h0M1676.2 898.2h0M708.0 636.0h0M1183.5 301.0h0M644.0 680.0h0M874.0 1204.0h0M596.0 619.0h0M1598.0 933.9h0M1625.3 885.4h0M1212.0 904.7h0M695.0 629.0h0M602.5 832.3h0M1012.0 315.0h0M1628.2 963.0h0M1247.3 311.9h0M1354.5 780.7h0M1288.0 358.0h0M691.0 622.0h0M1507.1 990.5h0M535.0 744.0h0M1461.9 1008.3h0M1376.7 1018.0h0M452.0 645.0h0M926.0 683.0h0M1395.4 1007.4h0M1300.5 1018.7h0M1349.9 1113.6h0M1018.8 650.4h0M984.0 1152.0h0M428.6 686.6h0M1142.0 383.0h0M1557.7 1005.3h0M620.0 780.0h0M1430.4 1023.4h0M1610.0 851.3h0M1407.5 1002.7h0M1265.1 489.1h0M1357.7 1016.6h0M1493.2 1165.1h0M1439.4 1147.9h0M1169.0 275.0h0M1291.4 532.4h0M352.0 636.0h0M1454.9 1133.6h0M449.0 725.0h0M1480.5 1130.5h0M555.0 617.0h0M970.0 1164.0h0M1323.8 1021.3h0M1356.4 757.4h0M850.0 1174.0h0M860.0 1198.0h0M1370.9 669.2h0M1322.0 598.0h0M1495.6 990.9h0M1415.7 1128.0h0M1300.2 911.7h0M1099.2 416.0h0M1168.0 1100.0h0M1369.0 984.3h0M1306.8 957.2h0M1527.1 965.7h0M1493.4 1084.3h0M1386.8 879.0h0M1261.3 478.4h0M1234.0 1092.5h0M1181.0 490.0h0M1257.0 380.0h0M1603.6 904.3h0M444.8 660.9h0M1398.4 697.7h0M1184.0 340.0h0M1089.0 950.4h0M1158.1 456.5h0M1559.1 967.1h0M621.6 668.5h0M1299.1 694.9h0M1249.2 440.5h0M1598.9 912.1h0M1214.0 498.0h0M600.0 641.0h0M1418.0 1078.3h0M589.0 598.0h0M1486.1 999.2h0M1411.8 930.3h0M1292.3 1009.4h0M1520.8 1166.1h0M560.6 641.1h0M1272.0 341.0h0M1406.8 852.8h0M1288.0 540.0h0M1108.0 382.4h0M1546.2 1009.9h0M1502.0 894.1h0M1258.0 1011.8h0M1029.1 709.6h0M1610.8 943.3h0M1299.0 327.0h0M1314.1 936.8h0M1055.5 260.0h0M1596.0 883.4h0M1184.0 524.0h0M1487.7 809.6h0M1548.9 1054.6h0M1387.9 1087.8h0M407.0 680.5h0M1152.0 836.4h0M1334.0 590.0h0M1035.0 298.0h0M1484.7 889.0h0M514.0 1158.0h0M1098.7 1072.6h0M1082.0 982.0h0M1174.6 877.4h0M1468.4 917.5h0M519.0 1031.0h0M1522.0 1073.9h0M1416.2 1109.3h0M446.0 735.0h0M1375.9 661.7h0M1223.6 912.7h0M1327.3 735.9h0M1538.2 1145.8h0M1616.8 1044.2h0M574.0 858.0h0M1572.2 1045.5h0M1038.4 724.0h0M1253.0 328.0h0M452.6 1057.3h0M1212.5 894.0h0M485.8 1091.6h0M1166.0 513.0h0M1192.9 492.5h0M1405.7 1027.3h0M1634.2 993.8h0M468.0 1078.0h0M1624.4 996.8h0M1330.1 915.9h0M1252.8 477.3h0M1297.5 1119.4h0M653.5 683.6h0M1180.2 320.5h0M1080.0 352.0h0M807.0 302.0h0M516.0 793.0h0M1336.0 834.6h0M1336.1 753.7h0M622.0 599.5h0M1390.6 1042.8h0M1471.9 1066.0h0M1153.0 328.0h0M608.7 805.4h0M1576.9 857.3h0M1034.0 716.6h0M1217.4 896.3h0M1554.4 1057.3h0M1451.2 873.2h0M581.0 713.0h0M976.1 1180.4h0M531.0 1007.4h0M1173.5 459.4h0M491.0 1091.0h0M560.3 637.2h0M1163.0 303.2h0M1702.0 906.2h0M1124.0 509.0h0M1251.3 908.3h0M1429.6 1132.2h0M1300.0 933.9h0M1530.3 875.9h0M1508.1 947.7h0M1462.3 895.9h0M610.3 578.8h0M530.0 1160.0h0M1478.7 1029.3h0M1333.0 905.9h0M1124.0 515.0h0M1686.9 979.6h0M1422.8 972.1h0M1010.0 1123.0h0M1338.9 724.6h0M600.1 577.6h0M1315.9 423.7h0M1094.0 1064.0h0M1400.0 702.0h0M1278.0 926.4h0M1277.5 438.9h0M1164.0 260.0h0M615.6 664.8h0M1612.4 975.6h0M558.0 690.0h0M1112.0 1056.0h0M1503.2 918.7h0M1389.7 1094.1h0M413.5 665.2h0M1359.1 905.2h0M1415.3 670.7h0M415.9 672.7h0M448.9 703.0h0M1176.7 361.2h0M1136.0 310.0h0M1236.5 916.0h0M1345.6 471.2h0M1082.0 960.0h0M612.0 810.0h0M1555.0 933.6h0M1105.6 414.4h0M1297.6 715.6h0M454.4 711.0h0M1090.0 336.0h0M1374.9 715.0h0M1301.1 772.3h0M938.6 428.6h0M1381.0 720.0h0M1397.0 744.0h0M1389.9 707.1h0M1130.0 1092.0h0M1196.7 298.3h0M618.0 694.7h0M1498.5 964.8h0M727.1 629.9h0M1514.7 878.2h0M1208.9 459.7h0M1068.0 376.8h0M1353.8 676.1h0M1399.5 983.5h0M1068.6 1144.0h0M572.2 641.7h0M868.0 1159.6h0M1217.0 522.0h0M1528.6 1161.5h0M1329.6 910.7h0M1504.3 841.8h0M594.5 759.2h0M1180.4 502.9h0M1527.9 1158.6h0M1154.6 412.3h0M592.7 625.6h0M1118.0 497.0h0M596.0 713.0h0M1469.5 1111.5h0M1150.2 455.3h0M866.9 1203.2h0M1028.0 688.0h0M370.0 626.0h0M1547.1 997.0h0M1094.8 1083.2h0M1483.7 1145.4h0M1177.2 439.8h0M985.0 348.0h0M1072.0 1064.0h0M683.0 554.0h0M1427.9 1099.9h0M1438.5 943.8h0M1594.9 937.3h0M1184.0 430.3h0M1694.0 901.3h0M1343.1 1028.3h0M424.7 704.7h0M1444.6 1115.5h0M1321.1 1005.1h0M1312.1 735.1h0M1175.0 262.5h0M629.7 773.4h0M1429.2 1040.8h0M439.1 700.9h0M547.3 747.9h0M868.5 1199.1h0M1505.2 920.7h0M1122.4 941.8h0M718.0 637.0h0M905.0 313.0h0M1569.0 956.0h0M1576.7 1047.2h0M1437.9 1142.8h0M1040.0 722.0h0M588.0 830.0h0M1537.4 1054.3h0M1580.9 972.6h0M1140.0 1110.0h0M1554.6 855.0h0M1009.0 336.0h0M1518.4 1045.6h0M1560.3 1056.8h0M1274.5 470.3h0M1427.0 973.0h0M1464.3 1168.7h0M1332.7 1038.5h0M1304.9 1107.0h0M1254.7 410.1h0M1152.0 325.0h0M1586.8 971.5h0M608.0 690.0h0M1024.0 1164.0h0M1387.6 1004.4h0M1134.9 939.0h0M1604.4 1036.7h0M1526.3 858.8h0M1366.1 821.2h0M1349.4 748.8h0M1166.4 830.8h0M1358.0 608.0h0M455.4 1016.6h0M1480.4 960.7h0M1230.5 920.0h0M1352.4 980.7h0M1571.0 1037.4h0M1220.9 342.3h0M526.3 770.0h0M1401.2 933.2h0M1318.1 966.1h0M1472.7 964.3h0M362.0 627.0h0M1156.7 1101.7h0M1345.2 720.8h0M723.1 622.7h0M1417.9 842.1h0M413.4 731.8h0M724.5 644.8h0M580.9 677.5h0M677.9 728.6h0M1255.9 888.3h0M1465.8 909.6h0M1285.7 950.0h0M1095.4 1076.4h0M1278.6 756.4h0M1153.9 273.3h0M1413.4 1014.0h0M442.0 750.0h0M445.5 734.6h0M557.0 686.0h0M1534.5 1142.6h0M1206.1 1026.1h0M882.0 1176.0h0M1410.0 704.0h0M420.0 733.0h0M1375.3 980.9h0M1364.8 990.7h0M1534.4 1017.8h0M575.0 643.0h0M1612.3 843.2h0M1475.3 881.0h0M1378.4 630.8h0M433.0 677.0h0M1364.2 741.8h0M1544.8 1139.1h0M1173.0 429.3h0M1417.0 743.0h0M550.3 624.8h0M1060.3 718.0h0M455.0 640.0h0M582.0 837.2h0M1080.0 760.0h0M1392.7 976.4h0M1316.5 506.2h0M1450.2 912.2h0M1101.3 1047.1h0M470.0 1057.0h0M1192.3 377.6h0M1417.4 959.2h0M1473.3 1115.7h0M1573.4 1004.3h0M1228.8 930.6h0M1385.4 957.4h0M1269.3 363.6h0M1421.8 923.3h0M576.0 862.0h0M589.8 676.0h0M1269.0 602.0h0M1480.8 1005.4h0M1057.6 945.4h0M1423.2 1131.0h0M1169.0 1015.0h0M1118.0 1044.0h0M1306.2 407.2h0M1083.0 328.0h0M1108.0 1054.0h0M623.0 662.0h0M1451.8 1126.5h0M1496.2 870.1h0M850.9 1169.3h0M1478.2 1108.2h0M1183.0 503.0h0M1577.8 1070.7h0M582.0 730.0h0M1232.0 310.0h0M457.8 692.2h0M1118.1 481.1h0M626.0 782.0h0M1592.9 1008.6h0M1356.4 668.3h0M1263.4 758.5h0M1161.0 299.4h0M1563.5 1015.5h0M1119.0 483.0h0M1432.9 1123.0h0M1357.3 1150.0h0M1312.5 905.7h0M1210.0 379.0h0M1279.2 799.5h0M420.3 656.3h0M1401.7 700.8h0M975.7 412.9h0M1496.4 1097.5h0M1548.0 884.8h0M1345.7 792.3h0M1054.0 924.0h0M1143.5 270.3h0M568.8 655.1h0M1047.0 293.0h0M828.0 366.0h0M481.0 1106.0h0M1306.3 1030.2h0M1590.5 923.5h0M1424.8 980.5h0M1257.0 294.0h0M1045.7 697.0h0M1209.2 899.9h0M831.0 297.0h0M1233.2 1020.5h0M880.7 1180.1h0M858.0 1176.0h0M1063.0 308.0h0M1135.2 386.4h0M494.1 1118.2h0M1516.3 899.8h0M1330.7 716.4h0M1401.3 747.5h0M1157.9 437.0h0M732.0 620.0h0M1220.8 291.5h0M1484.6 1064.7h0M1262.0 764.0h0M1406.0 704.0h0M1390.7 876.8h0M1332.2 832.2h0M1247.3 460.4h0M1032.8 706.3h0M643.0 602.0h0M1633.9 1009.2h0M1321.5 869.5h0M640.0 640.0h0M631.5 668.9h0M1362.0 895.7h0M1387.0 724.0h0M418.0 660.0h0M415.1 692.5h0M1278.2 1019.3h0M1294.0 535.0h0M1467.7 931.5h0M1319.4 409.4h0M486.2 1113.9h0M1521.5 1047.2h0M1072.0 338.0h0M1499.0 839.8h0M1070.9 924.7h0M1141.0 278.0h0M1317.8 750.4h0M1164.3 463.7h0M1316.8 1060.1h0M1487.9 922.1h0M1128.0 358.0h0M975.0 1148.0h0M1549.2 864.4h0M1545.1 986.8h0M1067.8 957.2h0M1683.7 963.1h0M1172.4 357.0h0M1439.2 1104.3h0M1072.0 316.0h0M1136.8 401.6h0M433.3 663.8h0M1377.6 1047.6h0M1558.8 833.3h0M698.0 613.0h0M1478.2 828.8h0M1196.1 431.7h0M737.0 627.0h0M1268.9 772.5h0M1574.9 1080.0h0M1032.0 713.0h0M1649.4 967.0h0M1312.2 801.9h0M1203.0 516.0h0M944.0 1176.0h0M594.0 651.0h0M1235.1 444.3h0M1459.4 1105.5h0M429.0 686.0h0M1290.9 406.9h0M1514.2 948.2h0M1316.1 1136.5h0M1421.5 980.6h0M1004.9 1168.4h0M1040.5 710.1h0M1529.7 849.1h0M1482.5 973.8h0M1404.5 1061.9h0M1317.0 333.0h0M1411.0 1095.4h0M631.0 618.0h0M616.0 812.0h0M1580.3 1111.1h0M710.0 607.0h0M1408.9 1028.3h0M1386.0 764.0h0M1609.3 870.0h0M1108.8 1067.3h0M1408.4 951.5h0M1398.9 916.6h0M619.6 666.0h0M592.2 813.4h0M1296.3 1041.4h0M1581.7 1053.7h0M1339.0 923.1h0M1437.4 848.1h0M1268.3 394.6h0M1668.6 972.5h0M1300.0 613.0h0M1415.0 694.0h0M1356.1 829.1h0M1337.1 708.1h0M865.0 1205.6h0M1111.0 859.6h0M1522.8 932.3h0M1350.2 819.4h0M594.0 842.0h0M1421.8 1004.1h0M1281.7 963.3h0M1258.0 330.0h0M1054.6 912.6h0M1481.5 926.6h0M1315.0 801.7h0M1286.1 453.5h0M821.0 330.0h0M1054.7 1144.5h0M1234.8 1058.8h0M1224.0 314.0h0M1180.0 382.0h0M490.4 1112.6h0M1496.6 1038.7h0M1495.6 866.3h0M1078.0 340.0h0M712.0 639.0h0M440.0 725.0h0M1597.4 1071.2h0M1596.7 983.3h0M480.0 1078.8h0M1578.1 997.6h0M1133.8 1114.6h0M1502.1 960.8h0M1447.3 974.8h0M1629.1 882.9h0M477.9 705.1h0M357.0 647.4h0M585.0 780.0h0M1243.5 1078.2h0M1409.3 988.1h0M1187.3 839.3h0M595.0 698.0h0M1178.9 499.8h0M611.7 554.0h0M1257.5 413.9h0M1128.0 1075.0h0M1347.5 772.1h0M1503.2 1053.3h0M1341.3 701.4h0M1168.0 788.0h0M1265.7 759.0h0M1452.8 860.2h0M1520.0 1004.1h0M1273.3 943.3h0M1239.9 919.1h0M1520.7 1015.5h0M1005.7 430.0h0M1214.0 305.0h0M1140.3 454.9h0M1174.7 388.9h0M1390.0 760.0h0M1326.1 646.6h0M1076.0 760.0h0M929.0 680.0h0M1405.9 743.5h0M1223.0 310.0h0M500.0 611.0h0M585.6 753.3h0M1612.8 1068.5h0M588.2 826.2h0M1362.8 1079.5h0M1350.3 731.4h0M1489.5 1163.7h0M1643.5 902.2h0M1677.5 934.5h0M1320.8 797.5h0M1365.4 771.5h0M1070.0 1146.0h0M1616.3 907.7h0M1218.4 1061.2h0M1472.0 1032.0h0M1468.6 972.8h0M1095.0 894.6h0M1168.0 864.0h0M1389.2 888.8h0M1229.3 1006.3h0M1566.7 1123.9h0M1485.6 1159.6h0M1179.6 888.2h0M573.0 639.0h0M1111.2 455.2h0M1513.2 987.7h0M669.1 684.9h0M435.8 710.8h0M1187.7 459.8h0M618.7 606.6h0M1239.0 337.0h0M1354.8 917.5h0M1495.7 824.1h0M1352.7 708.8h0M1250.0 403.4h0M1439.7 881.6h0M1528.8 1081.3h0M1151.4 399.9h0M1373.2 912.3h0M1442.1 1187.6h0M1308.0 620.0h0M613.4 675.7h0M415.0 665.0h0M1474.4 1059.0h0M1383.9 1165.7h0M1218.4 449.6h0M1299.1 643.2h0M1266.2 969.1h0M1295.0 714.4h0M462.5 638.0h0M1301.6 767.1h0M1477.5 936.7h0M1422.7 909.9h0M1323.2 943.9h0M1283.9 1043.2h0M1672.7 972.4h0M1271.9 339.2h0M1409.0 743.0h0M1317.0 550.0h0M1300.8 881.9h0M1497.0 1140.5h0M1492.6 821.0h0M1267.0 1059.0h0M963.9 1158.4h0M1383.2 956.4h0M1149.0 322.0h0M570.3 655.8h0M1192.0 295.1h0M1305.6 897.6h0M1364.6 875.0h0M1508.2 1015.4h0M1591.4 1033.3h0M1364.2 854.7h0M1123.0 1040.9h0M1120.0 340.0h0M1339.4 730.0h0M1526.4 1009.3h0M1611.9 957.4h0M1519.7 1156.0h0M875.6 1201.0h0M1416.1 1103.9h0M1455.7 941.7h0M1406.2 1030.8h0M1598.2 1064.7h0M1446.8 957.4h0M899.4 1199.8h0M1484.4 861.6h0M1596.6 1103.9h0M1238.5 946.7h0M1106.4 397.6h0M1480.7 1078.9h0M1210.6 1097.2h0M1545.6 1020.0h0M931.6 652.6h0M1322.0 560.0h0M1314.3 820.0h0M1401.2 1034.9h0M1393.7 1048.2h0M1332.4 1013.2h0M1050.0 734.0h0M1520.4 949.1h0M493.1 1126.1h0M1518.6 985.2h0M468.4 1088.2h0M1314.6 773.1h0M461.9 1064.5h0M460.0 685.0h0M1486.9 895.0h0M1427.9 829.1h0M1287.3 929.6h0M1230.4 751.0h0M583.4 667.1h0M1345.9 890.3h0M1359.4 691.6h0M1367.0 992.6h0M1411.0 887.7h0M1003.0 270.0h0M965.0 655.1h0M1601.7 904.9h0M607.0 576.0h0M1538.0 1072.2h0M1034.0 702.0h0M1114.4 478.4h0M1213.0 328.0h0M1457.0 891.7h0M1603.9 970.6h0M1399.9 859.0h0M1589.5 935.8h0M1497.0 1138.5h0M465.0 716.0h0M1437.1 1071.1h0M453.4 690.9h0M1279.2 886.3h0M1461.7 848.4h0M1262.7 419.6h0M1498.5 914.1h0M1348.7 746.8h0M1057.4 951.4h0M1451.0 683.5h0M1137.6 412.8h0M1488.9 896.2h0M518.0 691.5h0M1581.8 920.4h0M1160.0 368.0h0M1415.5 785.0h0M1502.7 1117.4h0M1291.3 963.5h0M1401.0 732.0h0M1256.6 287.4h0M1442.8 1181.2h0M1432.0 1106.0h0M1433.2 688.1h0M1591.5 943.5h0M1308.9 742.2h0M1424.6 924.2h0M1318.0 943.3h0M882.0 1186.0h0M1415.4 968.9h0M1387.5 969.8h0M462.0 676.0h0M1277.3 1086.7h0M1149.0 1071.0h0M909.4 1189.3h0M1465.6 1052.4h0M1480.8 1046.4h0M1612.2 946.6h0M1425.0 1060.9h0M1551.8 1142.6h0M626.6 670.7h0M1339.7 702.8h0M1349.5 766.7h0M1501.1 1133.8h0M1256.4 605.2h0M412.0 734.0h0M1025.0 259.0h0M470.0 724.0h0M1417.0 814.4h0M1453.4 1151.1h0M1667.3 908.2h0M1578.5 982.4h0M1232.2 978.2h0M1149.5 291.9h0M1391.2 699.0h0M1592.0 855.4h0M1548.6 1032.8h0M603.7 626.9h0M1218.0 386.0h0M1110.1 1059.3h0M1116.0 372.8h0M1372.2 703.8h0M1090.0 296.0h0M529.8 779.4h0M1423.0 657.0h0M1604.1 947.1h0M641.0 729.0h0M598.0 673.0h0M1241.9 420.3h0M1409.8 849.8h0M1325.2 972.0h0M1202.0 302.0h0M1071.4 951.9h0M1421.0 906.3h0M586.4 846.1h0M1466.6 847.4h0M1561.0 913.2h0M1345.3 697.2h0M1508.8 1002.7h0M1349.1 1034.0h0M1484.8 845.0h0M1358.6 750.1h0M1383.2 968.6h0M1588.0 1064.9h0M446.0 692.0h0M1382.4 854.9h0M580.3 639.7h0M621.8 799.6h0M1287.9 1038.0h0M1639.4 914.1h0M1442.3 1068.3h0M1523.0 966.3h0M597.0 585.0h0M1504.7 973.8h0M1190.0 525.0h0M450.5 709.8h0M1273.8 853.1h0M1373.5 984.1h0M1404.1 749.9h0M1199.0 269.0h0M1070.0 304.0h0M1382.5 1016.0h0M1603.3 875.7h0M1320.0 339.0h0M478.0 1104.0h0M1399.9 1039.9h0M1566.2 876.7h0M1321.0 917.4h0M602.0 828.0h0M487.5 1063.5h0M1545.8 1006.9h0M1705.7 929.0h0M1326.7 668.6h0M573.3 771.5h0M1170.0 358.0h0M423.9 711.7h0M1210.1 936.2h0M1446.9 1087.2h0M1299.5 801.7h0M977.1 1165.5h0M906.0 1192.0h0M444.3 702.3h0M1306.5 1034.6h0M1520.6 1130.0h0M1518.1 993.0h0M1276.8 1073.7h0M1409.2 967.6h0M1455.6 1074.3h0M419.4 662.1h0M1384.8 1120.1h0M1552.7 929.3h0M1299.0 583.0h0M1165.0 1104.9h0M1337.7 987.3h0M1398.5 1053.6h0M1306.4 669.1h0M1556.3 1040.8h0M1316.4 919.8h0M614.2 696.1h0M1633.2 951.3h0M980.0 1154.0h0M1358.1 951.6h0M1512.0 778.0h0M1188.1 471.6h0M1586.9 898.9h0M1433.3 996.6h0M593.1 674.7h0M1179.6 874.6h0M1406.1 1052.3h0M1120.0 1104.0h0M1352.4 1043.3h0M1488.5 948.2h0M613.1 655.0h0M1305.0 900.8h0M760.0 623.6h0M1216.0 351.0h0M1351.0 673.6h0M1555.1 846.7h0M1322.5 1022.5h0M1272.5 407.3h0M1559.4 946.0h0M1187.1 881.6h0M1505.5 1109.1h0M1372.1 1000.3h0M1120.0 384.0h0M1588.1 1010.2h0M1175.3 1125.4h0M1585.3 959.0h0M1518.1 1140.0h0M1414.7 1130.9h0M1479.9 980.3h0M1570.4 962.8h0M1434.6 1124.9h0M1314.2 356.2h0M1385.2 1032.6h0M717.5 637.1h0M1503.9 1130.7h0M1032.1 387.1h0M1502.9 979.4h0M1704.9 901.9h0M1064.8 375.2h0M574.6 751.8h0M613.0 557.0h0M1209.6 423.6h0M919.0 1175.0h0M1098.0 278.0h0M1163.0 794.0h0M374.0 662.0h0M507.0 660.5h0M1475.2 878.1h0M1199.6 476.5h0M1437.7 1068.5h0M1316.9 979.6h0M1392.5 1059.1h0M1176.0 309.0h0M1265.9 1084.1h0M1530.2 1075.9h0M605.8 618.1h0M1462.1 1022.5h0M1340.6 725.9h0M1260.9 617.9h0M1322.3 1003.3h0M1486.3 1008.3h0M1402.5 1088.4h0M1326.5 660.9h0M1324.8 1001.7h0M1316.4 905.5h0M1444.4 1011.1h0M1448.1 1085.4h0M412.8 744.2h0M1481.2 1024.7h0M1082.8 757.2h0M1535.2 937.4h0M1213.2 924.6h0M1223.1 974.1h0M1176.4 1003.1h0M1238.0 496.0h0M1379.9 1044.3h0M1175.5 405.5h0M1512.4 1131.3h0M1378.2 1001.2h0M1400.6 785.7h0M1134.4 456.0h0M1541.0 975.9h0M1551.1 1033.9h0M486.0 1094.0h0M1238.1 318.7h0M1557.2 1015.7h0M1152.0 303.0h0M1198.7 313.7h0M1108.0 258.0h0M1167.6 448.1h0M1296.1 779.4h0M1251.7 928.1h0M1042.0 1122.0h0M1210.9 382.6h0M656.0 723.0h0M1436.0 1034.7h0M1296.5 644.2h0M1347.4 949.9h0M1474.6 922.6h0M1575.7 876.5h0M1380.0 857.3h0M1386.3 1123.4h0M1393.7 939.3h0M1530.9 1121.1h0M1372.3 691.9h0M1603.8 1044.4h0M1053.0 292.0h0M1552.1 892.8h0M1076.5 946.2h0M1040.0 922.0h0M1395.2 953.7h0M865.0 1166.0h0M1544.5 1020.0h0M464.0 1071.0h0M1159.0 305.0h0M1216.0 571.0h0M1416.0 932.1h0M1231.4 414.9h0M1056.6 729.2h0M1175.0 380.0h0M1563.0 1017.7h0M599.0 644.0h0M1026.0 1120.0h0M1228.0 276.0h0M1574.9 1039.9h0M1375.3 1042.8h0M1202.0 378.7h0M1038.6 1155.6h0M1393.0 950.7h0M1102.0 1072.0h0M709.8 635.8h0M448.5 709.8h0M1544.3 954.0h0M571.0 648.0h0M684.0 623.0h0M1160.0 351.0h0M1127.2 370.4h0M588.1 814.8h0M1084.0 375.2h0M1388.4 913.7h0M1420.4 993.8h0M542.2 616.4h0M1331.4 980.9h0M1294.4 987.4h0M1136.1 483.3h0M1423.0 1080.7h0M1470.8 964.3h0M1386.0 1068.0h0M1110.0 1120.0h0M1578.2 1011.9h0M1408.5 907.8h0M1379.8 977.0h0M1385.0 767.0h0M1560.0 1017.6h0M1307.0 335.0h0M1368.3 781.7h0M1268.8 901.2h0M1243.4 280.0h0M1316.1 931.8h0M1317.0 334.4h0M1604.0 898.1h0M366.0 660.0h0M1476.6 1057.8h0M1095.2 452.0h0M1355.5 955.4h0M1154.5 362.1h0M1316.1 800.5h0M1297.0 593.0h0M1543.2 1020.9h0M522.0 1162.0h0M1451.8 1034.6h0M1409.5 1025.4h0M1533.3 1051.5h0M1678.2 970.5h0M1391.6 944.1h0M1366.5 1047.7h0M487.0 1078.0h0M1448.2 996.6h0M1675.6 980.7h0M1416.1 1016.8h0M1383.2 994.3h0M363.3 631.3h0M1526.5 846.5h0M1475.9 1054.3h0M594.0 603.0h0M1471.5 1163.7h0M1212.0 539.0h0M1621.9 893.3h0M1374.3 735.1h0M1395.3 901.4h0M1347.9 1087.7h0M1416.5 673.5h0M490.7 1096.4h0M1354.9 937.7h0M456.1 648.1h0M888.6 1199.8h0M1363.8 1114.3h0M592.0 593.0h0M1428.8 1171.8h0M1658.0 973.3h0M1268.1 769.7h0M1599.7 963.4h0M1222.0 270.5h0M1629.9 925.0h0M553.0 687.0h0M385.7 672.2h0M601.3 675.0h0M1298.2 643.6h0M1313.4 849.5h0M1406.1 725.5h0M1238.4 444.1h0M1327.4 927.3h0M479.0 686.0h0M1267.8 533.1h0M1580.1 1051.2h0M1653.0 983.5h0M1430.0 725.0h0M390.0 671.0h0M1421.0 704.0h0M1485.1 907.4h0M1437.0 732.0h0M613.0 662.0h0M1418.3 919.7h0M1549.8 928.5h0M1116.0 1037.0h0M1205.0 309.0h0M1659.5 963.2h0M1571.0 1057.7h0M1264.8 795.1h0M1336.0 722.0h0M1044.0 1112.0h0M605.5 600.2h0M484.0 1110.0h0M1132.0 250.5h0M1508.7 978.8h0M862.0 1194.0h0M1572.5 1050.9h0M1364.4 736.2h0M1030.0 698.0h0M1470.5 1055.5h0M468.4 1077.7h0M1398.9 1125.1h0M1353.1 1066.7h0M1258.3 508.4h0M1474.1 1062.0h0M388.0 678.0h0M1548.2 1025.5h0M1391.4 1077.5h0M1378.3 1017.9h0M1020.0 1144.0h0M1323.0 528.5h0M1068.0 363.2h0M1501.6 1077.6h0M1390.0 704.0h0M1425.2 1130.2h0M420.0 708.0h0M539.5 772.4h0M1461.1 1103.0h0M452.4 695.0h0M1182.6 885.7h0M1199.0 282.0h0M571.8 849.3h0M1656.1 940.4h0M1241.9 431.7h0M1182.1 877.9h0M1479.8 979.3h0M1468.6 942.4h0M1438.4 1086.3h0M603.6 616.8h0M991.0 324.0h0M1361.9 852.4h0M1561.3 924.7h0M680.0 567.5h0M577.7 699.5h0M618.0 542.0h0M1392.7 1060.6h0M351.6 644.8h0M1338.1 925.6h0M1326.5 897.0h0M1177.1 995.1h0M1070.1 708.0h0M487.5 1098.9h0M1485.3 889.8h0M1589.9 884.8h0M1412.1 1143.7h0M1314.2 983.4h0M1250.4 939.8h0M1512.4 941.0h0M570.0 856.0h0M1147.1 393.6h0M1035.9 1123.4h0M1411.2 1018.9h0M1396.7 1151.5h0M1563.9 946.5h0M598.4 678.1h0M1411.7 654.0h0M1700.4 985.1h0M1254.6 1033.9h0M451.0 1051.3h0M450.1 688.0h0M1544.5 842.0h0M1345.5 794.1h0M1376.8 706.8h0M1565.8 1048.0h0M1245.0 358.0h0M1433.6 894.0h0M1407.4 1035.7h0M1295.6 964.9h0M1452.9 1136.6h0M1302.2 1049.6h0M924.0 290.0h0M601.3 614.3h0M1401.0 740.0h0M1106.0 958.0h0M537.5 616.5h0M1531.4 1042.0h0M1508.3 1121.4h0M1458.4 1138.4h0M1195.2 886.8h0M489.0 696.0h0M1362.5 941.5h0M1515.1 931.0h0M1142.0 719.6h0M1378.1 755.5h0M1384.2 871.3h0M1453.0 883.2h0M412.8 734.9h0M1236.8 443.9h0M1202.2 377.0h0M1643.5 1034.6h0M1279.9 907.3h0M1477.5 998.3h0M1219.5 892.0h0M1213.4 311.5h0M631.0 690.0h0M1520.8 977.2h0M1412.3 888.6h0M1185.0 530.0h0M1399.1 1136.2h0M1220.5 952.5h0M1602.2 1052.9h0M528.0 1158.0h0M1100.0 1086.0h0M1494.6 839.4h0M1460.7 1183.2h0M1046.0 943.0h0M1299.2 410.0h0M602.0 651.0h0M1017.0 670.4h0M1561.9 1023.2h0M1322.1 712.4h0M1462.7 1083.5h0M1431.5 1140.8h0M505.9 612.4h0M1387.4 913.9h0M688.0 563.0h0M1436.0 1132.4h0M447.8 663.9h0M1133.4 945.6h0M529.5 692.0h0M1165.2 448.5h0M852.2 1170.2h0M1348.3 745.5h0M1230.6 495.3h0M1320.8 1008.1h0M1390.0 1053.5h0M1307.0 582.0h0M1381.2 1094.4h0M588.0 678.0h0M1160.0 327.0h0M1308.0 568.0h0M1537.0 1082.7h0M1273.4 364.9h0M1332.8 865.8h0M604.6 666.4h0M1704.4 892.0h0M608.9 571.6h0M1432.8 935.2h0M1210.0 353.0h0M1368.5 895.4h0M565.8 636.5h0M452.0 705.0h0M564.0 848.0h0M1443.2 1028.9h0M1557.4 1086.4h0M1222.0 519.0h0M1574.6 1073.2h0M1554.2 1074.6h0M625.0 655.0h0M1510.9 934.5h0M427.7 739.4h0M1504.3 1104.0h0M577.6 843.5h0M1437.4 955.0h0M527.0 771.0h0M996.0 1144.0h0M1350.4 950.3h0M1530.6 961.1h0M1156.5 300.1h0M1074.0 756.0h0M1280.0 538.0h0M563.5 624.0h0M1558.6 968.1h0M1388.3 1150.7h0M569.0 788.0h0M566.0 860.0h0M1265.8 991.8h0M1166.0 1092.0h0M1486.3 1130.5h0M1471.1 1027.6h0M1243.6 310.2h0M1054.0 738.0h0M1353.2 1018.9h0M1543.6 1127.5h0M1649.2 877.5h0M638.6 720.4h0M1386.5 1078.8h0M1679.5 975.4h0M1332.9 1096.0h0M1585.5 1020.4h0M1186.0 502.0h0M1203.5 1104.3h0M1329.3 670.1h0M1293.4 915.6h0M1492.5 893.6h0M1010.0 1128.0h0M910.0 1188.0h0M710.0 649.0h0M1126.0 1118.0h0M454.0 675.0h0M1246.0 349.0h0M1412.7 1118.2h0M1377.8 1007.8h0M1554.7 1058.8h0M1398.4 698.7h0M595.0 828.1h0M1296.0 470.1h0M1294.2 1044.5h0M600.5 602.4h0M1111.0 1035.1h0M1583.6 926.7h0M1080.0 279.0h0M1378.0 688.6h0M1490.5 758.0h0M1313.4 1011.8h0M1386.1 1050.2h0M1294.0 608.0h0M1330.0 680.6h0M1476.7 1185.1h0M1333.0 978.6h0M1442.5 937.5h0M1330.0 628.0h0M1113.0 481.0h0M1163.4 396.6h0M1188.0 254.5h0M1538.4 914.1h0M1052.6 737.4h0M1369.6 699.6h0M1496.4 1157.3h0M1081.0 258.0h0M1446.4 797.1h0M1299.9 401.5h0M1184.8 291.1h0M1368.6 988.2h0M1309.9 995.5h0M1154.0 993.0h0M1432.8 864.2h0M1404.6 1015.9h0M1460.5 878.5h0M1389.8 1137.4h0M1494.1 1051.5h0M1291.0 515.5h0M1017.0 306.0h0M1268.0 297.6h0M1404.2 977.7h0M434.0 697.5h0M1417.0 958.3h0M1279.5 1004.6h0M1369.2 1080.6h0M1083.0 989.4h0M1104.0 376.0h0M1152.2 307.3h0M951.6 654.0h0M1263.0 725.9h0M1689.2 881.8h0M1277.5 908.1h0M1507.7 1047.5h0M571.7 643.3h0M1030.0 1102.0h0M1204.0 316.0h0M434.0 744.0h0M628.0 676.0h0M1425.1 827.8h0M604.6 587.7h0M1292.0 822.4h0M1231.9 872.8h0M1649.3 856.5h0M1287.0 757.7h0M1424.6 851.5h0M1478.2 917.6h0M1262.3 969.4h0M1136.0 290.0h0M1066.0 938.0h0M1212.9 379.7h0M1312.0 625.0h0M902.3 1191.2h0M1424.4 1061.6h0M654.0 634.5h0M1532.6 961.8h0M1282.3 799.4h0M1506.7 1046.8h0M1519.5 881.2h0M1002.0 325.0h0M1052.0 1140.0h0M1367.2 748.1h0M374.5 657.9h0M1319.6 859.3h0M1585.6 1135.9h0M1479.1 1010.2h0M1058.0 1156.0h0M1397.0 686.0h0M1269.8 652.0h0M1548.0 878.0h0M1278.0 655.6h0M445.6 683.9h0M1399.9 693.8h0M1470.4 967.7h0M1295.0 1098.2h0M1513.4 910.9h0M1140.0 1092.6h0M1298.0 358.0h0M1532.5 1010.6h0M1273.1 930.1h0M1405.1 1114.6h0M1262.3 988.3h0M1320.0 490.0h0M1424.6 726.8h0M1454.3 1013.3h0M1364.7 929.9h0M1525.2 924.4h0M682.0 738.0h0M1448.6 1108.2h0M1492.4 1072.2h0M1221.4 1008.6h0M1405.0 692.0h0M1521.4 1161.8h0M1393.9 1120.8h0M1268.6 946.1h0M1692.5 955.6h0M1329.9 1037.2h0M1441.6 1058.1h0M450.0 720.0h0M1407.8 1025.0h0M1215.6 308.8h0M1113.2 945.0h0M1680.5 933.3h0M1545.0 1039.5h0M450.0 676.0h0M1409.3 997.1h0M1258.0 485.0h0M1542.9 894.3h0M1229.6 953.9h0M1345.2 724.3h0M1189.5 1105.8h0M1684.7 933.3h0M1295.9 738.2h0M1070.0 954.0h0M1538.6 1004.8h0M1350.8 1024.7h0M1671.9 904.8h0M1188.9 448.9h0M1393.1 1079.0h0M955.0 276.0h0M1566.4 926.3h0M1440.3 1081.9h0M1301.2 878.3h0M1605.9 1058.6h0M599.0 825.0h0M405.0 742.0h0M1683.6 963.4h0M1503.2 945.0h0M1550.5 990.1h0M1588.9 1021.8h0M597.8 840.8h0M1533.7 930.2h0M1682.4 897.8h0M1234.0 471.1h0M1054.1 937.2h0M1360.7 1088.1h0M1116.0 506.0h0M1221.6 885.8h0M1461.8 1130.7h0M502.0 777.0h0M1315.0 341.0h0M1650.6 908.8h0M1348.2 784.1h0M1262.0 547.0h0M1471.7 1038.0h0M1295.5 997.1h0M1364.4 1012.8h0M1433.0 889.6h0M636.0 718.5h0M1704.7 962.2h0M1397.7 910.3h0M1484.5 930.6h0M866.0 1206.0h0M1289.3 899.7h0M1291.5 848.4h0M1342.8 871.8h0M1393.8 933.8h0M1368.5 707.2h0M1487.2 941.1h0M1108.0 378.4h0M1473.6 966.9h0M858.0 295.0h0M1333.0 376.0h0M1169.0 820.0h0M1250.0 621.0h0M1391.6 980.2h0M600.1 581.1h0M1431.0 779.0h0M1378.3 708.7h0M1374.7 881.3h0M1212.5 311.6h0M1487.2 920.1h0M1586.7 1020.6h0M1052.0 932.1h0M1439.6 681.3h0M1304.0 481.0h0M1084.0 408.0h0M1442.1 885.5h0M1315.5 699.2h0M1354.9 684.1h0M1575.6 1026.0h0M1495.5 1108.2h0M677.0 671.0h0M1220.0 350.0h0M1488.5 816.0h0M1566.0 1040.0h0M1620.6 936.0h0M391.6 661.6h0M612.0 596.0h0M1152.0 373.0h0M1200.0 378.0h0M1290.0 1004.4h0M1155.0 831.0h0M1411.0 654.0h0M584.0 668.0h0M1347.2 763.5h0M1321.5 751.2h0M534.4 796.4h0M1404.2 653.6h0M1038.0 931.0h0M1443.8 1035.2h0M1375.8 755.2h0M1265.0 284.5h0M348.5 658.5h0M598.4 702.6h0M845.0 359.0h0M1361.0 1034.3h0M583.0 672.0h0M1449.8 1061.4h0M1438.0 887.1h0M616.0 629.0h0M999.2 1146.0h0M1294.3 756.6h0M1550.5 1031.4h0M1347.0 872.3h0M518.3 1173.1h0M1608.6 1050.9h0M1604.2 932.3h0M662.0 691.0h0M1286.6 403.6h0M1267.3 762.8h0M1432.7 846.2h0M674.0 738.0h0M1604.2 873.8h0M1233.8 937.3h0M1101.0 257.5h0M1482.8 976.5h0M878.0 1200.0h0M1248.0 310.0h0M1529.0 1098.7h0M1558.6 879.1h0M1501.4 950.7h0M1529.5 898.2h0M1452.0 946.2h0M1355.5 911.2h0M1142.0 1096.0h0M1414.3 992.4h0M1420.1 1005.3h0M416.0 692.0h0M1660.3 895.7h0M1492.1 1155.4h0M1528.1 1144.3h0M1503.6 1091.0h0M468.0 702.0h0M1468.1 1146.6h0M1397.0 847.3h0M1435.6 945.7h0M1095.2 374.4h0M1598.8 907.1h0M462.0 1078.0h0M1463.0 726.8h0M1262.4 634.8h0M1581.8 885.1h0M1708.9 983.6h0M1600.3 930.3h0M1221.9 273.2h0M449.3 663.2h0M1174.7 458.5h0M1310.9 663.6h0M1397.3 901.6h0M1525.3 822.5h0M1225.4 275.1h0M1258.6 396.9h0M1287.0 494.0h0M1055.0 1079.0h0M1575.8 1042.8h0M1477.5 781.0h0M1542.8 866.5h0M590.0 824.0h0M452.4 1055.1h0M1240.0 483.0h0M881.7 1188.0h0M530.0 622.0h0M1691.1 927.7h0M480.0 1100.0h0M1301.7 761.4h0M1556.7 914.0h0M1369.3 722.7h0M1602.4 1015.5h0M1241.4 291.5h0M1353.7 819.8h0M1227.3 301.9h0M600.1 689.5h0M1070.0 1104.0h0M422.0 744.0h0M1590.5 978.3h0M1085.5 923.9h0M1228.7 394.4h0M1551.8 896.2h0M1360.6 697.5h0M1409.6 877.3h0M1386.3 786.1h0M1224.1 995.8h0M1297.4 460.6h0M1702.4 879.6h0M1088.0 372.0h0M1378.2 1076.1h0M1340.2 1004.0h0M1493.1 950.4h0M536.0 615.0h0M1053.2 941.4h0M1050.0 1148.0h0M1484.6 1114.4h0M885.1 1191.9h0M1182.6 885.2h0M1491.0 1038.4h0M1563.5 1103.4h0M1506.9 1008.1h0M1392.2 923.4h0M1415.2 901.3h0M1601.1 963.9h0M1604.2 979.5h0M1333.7 1040.1h0M1335.5 805.4h0M1100.3 1091.4h0M942.9 401.1h0M1032.1 691.1h0M1201.4 379.0h0M614.0 746.0h0M1268.7 1006.5h0M1216.1 974.7h0M1612.2 1047.0h0M1278.0 545.0h0M649.0 597.0h0M1318.0 602.0h0M1474.5 911.2h0M1420.3 763.4h0M1370.2 1014.2h0M1467.2 890.4h0M1019.9 692.4h0M1062.0 928.0h0M1033.6 684.0h0M1475.4 972.5h0M1447.7 889.9h0M429.7 733.9h0M958.0 1180.0h0M1292.0 406.0h0M610.0 634.0h0M1341.6 904.3h0M1575.9 902.7h0M1580.8 891.6h0M573.6 862.3h0M1334.6 719.9h0M1452.0 743.0h0M1151.6 344.1h0M1421.9 950.1h0M1380.0 755.0h0M1431.8 984.0h0M440.0 706.0h0M453.0 1041.0h0M1700.1 988.5h0M1205.6 1023.5h0M1406.0 672.0h0M1334.6 672.8h0M1501.5 905.9h0M709.1 628.3h0M611.7 696.0h0M988.0 1142.0h0M1147.5 455.0h0M1406.6 935.5h0M1493.1 912.6h0M1455.8 948.5h0M1173.4 1105.8h0M1013.0 1167.0h0M1225.2 268.2h0M1117.0 280.0h0M1463.0 815.5h0M1414.0 758.0h0M1261.7 957.9h0M1523.2 921.7h0M1254.2 376.9h0M1398.0 673.0h0M1524.2 1132.5h0M1408.3 697.8h0M1058.4 369.6h0M645.0 654.0h0M1314.8 796.6h0M1296.9 464.5h0M536.0 624.0h0M1489.3 1180.4h0M1019.3 380.0h0M1661.3 1007.5h0M857.0 350.0h0M678.0 666.0h0M1330.0 587.0h0M1367.0 698.7h0M1334.8 1011.1h0M450.0 716.0h0M1112.0 964.0h0M1446.7 1046.0h0M1261.2 745.2h0M1106.7 1064.5h0M1273.8 426.6h0M1558.9 946.3h0M1316.0 586.0h0M1515.6 927.9h0M1251.1 1025.3h0M1343.3 1037.7h0M1558.2 896.8h0M873.2 1209.8h0M1202.8 883.1h0M1182.1 1127.7h0M1441.2 930.7h0M1673.7 947.1h0M1510.2 898.5h0M1572.0 1050.8h0M1262.0 1103.5h0M1311.9 818.1h0M1163.0 341.0h0M1059.0 738.0h0M431.3 655.8h0M1266.9 1022.6h0M918.0 649.0h0M486.4 1094.2h0M1104.8 424.0h0M1281.1 912.9h0M1371.5 739.7h0M1355.0 639.9h0M531.0 770.9h0M1192.4 923.9h0M1593.9 880.5h0M1415.4 1199.0h0M1348.6 776.8h0M1414.5 1001.9h0M1325.0 863.2h0M932.5 677.7h0M1090.4 439.2h0M1401.0 762.0h0M605.0 746.0h0M1347.4 1134.0h0M1416.8 901.6h0M573.1 774.6h0M1416.7 1197.2h0M1290.0 490.0h0M1461.3 825.2h0M457.0 710.0h0M539.0 762.0h0M1413.6 1065.7h0M1314.1 869.2h0M1627.0 972.6h0M1436.5 1126.7h0M1251.0 570.0h0M1167.0 300.0h0M1278.1 394.1h0M1573.5 1056.4h0M537.4 634.8h0M1413.1 1115.2h0M1244.8 763.0h0M1251.4 927.4h0M1042.4 1146.5h0M1539.7 847.3h0M1011.4 687.0h0M1565.7 1050.4h0M375.2 663.7h0M913.2 1195.6h0M879.9 1179.6h0M1178.8 1107.3h0M1042.0 291.0h0M1605.0 1105.6h0M1168.0 731.6h0M1475.8 1107.3h0M1456.5 1085.7h0M1459.7 1006.5h0M1324.6 902.5h0M1146.0 1037.0h0M1197.0 497.0h0M1370.5 703.2h0M1195.0 328.0h0M444.0 722.0h0M932.0 1176.0h0M1258.0 956.3h0M1163.0 378.0h0M1410.0 1115.3h0M1042.0 1076.0h0M1228.0 316.7h0M1568.8 1008.5h0M1244.7 919.5h0M1117.1 1114.0h0M1325.0 728.8h0M1522.3 874.5h0M1239.5 653.9h0M1430.6 1076.8h0M1424.0 712.0h0M1302.0 763.4h0M540.0 766.0h0M1404.8 916.8h0M942.5 1178.0h0M1314.0 1019.2h0M1189.6 1001.4h0M604.9 646.5h0M1366.8 699.2h0M1009.3 1175.4h0M1315.3 461.8h0M1307.0 526.0h0M604.9 573.1h0M1327.5 921.0h0M1349.0 951.6h0M1308.0 892.7h0M582.0 827.0h0M1395.2 673.6h0M725.0 639.0h0M1392.7 885.6h0M430.0 666.0h0M1068.0 394.4h0M1456.2 837.7h0M1079.8 756.3h0M1359.1 873.9h0M1253.0 574.0h0M1427.6 980.2h0M1446.8 893.7h0M1281.3 1084.5h0M1339.6 711.4h0M390.0 660.0h0M444.0 658.0h0M1461.1 1059.1h0M1433.5 849.0h0M556.0 805.0h0M1258.4 364.1h0M617.6 774.9h0M1267.1 375.3h0M1054.0 1152.0h0M1220.0 373.0h0M1329.0 480.0h0M1196.0 414.0h0M1050.5 1101.5h0M1376.2 860.6h0M447.3 733.3h0M1376.0 873.7h0M1338.5 893.0h0M1483.1 992.2h0M515.6 1166.7h0M359.0 623.0h0M616.9 620.0h0M579.5 650.7h0M1291.7 999.6h0M1383.0 759.0h0M1049.0 725.4h0M1271.7 832.3h0M1147.8 478.5h0M1588.5 825.4h0M648.0 725.5h0M595.4 661.3h0M871.9 1191.2h0M1414.3 940.4h0M1467.5 710.5h0M940.0 267.5h0M1596.7 974.9h0M1277.5 773.2h0M1160.5 303.0h0M963.5 1168.1h0M1528.9 1142.4h0M1488.4 790.0h0M1668.1 965.5h0M1463.3 887.1h0M1370.5 688.7h0M1525.6 877.4h0M1410.2 1027.5h0M1178.0 534.0h0M1523.7 904.2h0M600.0 663.0h0M362.9 625.8h0M1384.0 750.0h0M585.1 823.5h0M1599.2 961.7h0M1456.5 1029.4h0M1267.5 431.3h0M1188.7 372.0h0M1512.5 1053.7h0M1474.7 884.1h0M1234.0 364.0h0M1604.2 985.3h0M422.0 684.4h0M1420.6 1069.6h0M1566.6 870.1h0M1112.8 480.8h0M1408.1 1084.3h0M1238.1 760.7h0M915.0 647.0h0M1469.5 1057.1h0M373.9 665.8h0M1442.5 1004.2h0M1452.3 1027.8h0M1066.0 300.0h0M1269.4 419.5h0M1304.2 1039.6h0M1486.8 934.3h0M1320.0 796.6h0M1624.4 951.9h0M1525.7 1062.2h0M1261.8 1074.6h0M1243.0 283.0h0M1420.9 1190.9h0M1449.2 850.8h0M1357.6 1043.9h0M1601.9 854.5h0M1549.5 904.2h0M1280.2 658.3h0M537.0 781.0h0M1395.9 753.2h0M1143.0 465.5h0M1420.2 1063.3h0M1509.2 1094.8h0M1500.5 1082.1h0M1238.8 768.0h0M361.4 663.3h0M1175.0 357.0h0M1016.0 1157.0h0M1313.2 1049.9h0M1255.6 1069.7h0M1044.0 293.0h0M1538.4 983.8h0M860.0 292.0h0M602.0 670.0h0M471.4 1083.0h0M590.7 833.7h0M1277.4 780.1h0M1645.5 954.7h0M1337.9 682.3h0M1162.0 1098.0h0M1563.7 936.5h0M1469.6 983.2h0M1138.6 950.9h0M1519.0 833.6h0M1275.3 457.4h0M1456.7 964.7h0M1090.0 712.6h0M1467.2 959.6h0M1378.9 1039.8h0M1190.0 301.0h0M1441.6 1055.6h0M616.0 763.0h0M872.0 1200.0h0M1405.1 985.3h0M1106.0 1060.0h0M1533.9 1108.1h0M1523.4 1025.0h0M664.3 731.3h0M1476.1 966.9h0M1276.5 1047.2h0M1437.8 1028.6h0M1453.0 1100.7h0M605.0 685.0h0M1092.0 320.0h0M1242.5 927.7h0M1320.0 594.0h0M1465.1 895.7h0M1170.0 995.8h0M1590.6 843.7h0M1392.0 831.7h0M1649.6 978.5h0M1690.6 978.8h0M1465.6 1113.0h0M1120.0 417.6h0M1120.0 1050.0h0M1594.8 1036.5h0M1262.0 420.9h0M1301.0 544.0h0M689.0 611.0h0M1038.0 286.0h0M1130.4 455.2h0M579.7 676.5h0M1491.0 1154.0h0M1104.0 385.6h0M514.0 612.0h0M658.0 719.0h0M1396.2 772.9h0M604.7 678.1h0M1244.0 312.0h0M1126.4 404.8h0M1430.0 676.0h0M616.0 786.0h0M1550.3 1094.1h0M1502.5 1084.4h0M1407.5 644.0h0M1261.4 377.7h0M1364.1 945.7h0M1274.0 309.0h0M1421.0 852.3h0M528.6 806.0h0M1576.4 1064.2h0M1503.0 834.3h0M1168.0 570.0h0M1176.0 317.0h0M1397.7 751.7h0M1156.0 515.0h0M1462.3 1083.5h0M1523.6 1161.9h0M1359.4 1025.6h0M1692.5 883.2h0M1074.0 917.0h0M1669.4 900.8h0M1381.6 1055.3h0M1309.9 1081.1h0M1612.8 949.8h0M1198.6 333.4h0M1409.0 712.0h0M1302.1 701.3h0M1444.8 1048.7h0M610.0 655.0h0M1462.7 1008.8h0M1344.0 897.7h0M1388.9 1073.8h0M1542.9 1051.2h0M1223.4 443.6h0M1413.3 976.8h0M592.3 747.4h0M1521.7 996.3h0M1578.8 989.5h0M1372.5 1086.0h0M1548.0 1063.5h0M1500.1 949.4h0M496.4 1047.3h0M1413.1 1167.7h0M1218.0 308.0h0M1338.7 850.0h0M1187.0 327.7h0M1553.9 1040.9h0"/>
<path stroke="#8c2981" stroke-width="6.6" d="M809.0 320.0h0M1200.0 339.0h0M1061.0 264.0h0M1048.8 367.2h0M1025.0 334.0h0M1021.0 341.0h0M586.0 745.0h0M1511.9 1140.6h0M812.0 316.0h0M971.0 276.0h0M1253.0 276.0h0M1155.0 344.0h0M1007.0 276.0h0M844.0 343.0h0M1331.7 338.1h0M1054.0 309.0h0M1071.5 256.0h0M1052.0 253.0h0M1178.0 279.0h0M1115.0 299.0h0M1169.8 290.8h0M1554.1 1070.0h0M1208.0 542.0h0M905.0 346.0h0M1515.4 960.4h0M1241.7 298.0h0M1142.7 331.1h0M825.0 292.0h0M1339.0 344.0h0M1159.0 337.0h0M1145.1 287.1h0M808.0 334.0h0M898.0 388.0h0M1452.2 832.7h0M843.0 371.0h0M993.0 282.0h0M990.5 250.0h0M1033.0 290.0h0M805.0 306.0h0M1312.8 738.9h0M1203.5 259.5h0M1281.1 332.9h0M1161.0 293.8h0M1188.0 352.5h0M860.0 319.0h0M964.0 272.0h0M1597.0 854.1h0M857.0 367.0h0M1330.0 367.0h0M1223.0 276.0h0M902.1 399.3h0M618.0 803.6h0M506.0 1042.6h0M1195.1 367.5h0M1154.0 825.0h0M1209.0 285.0h0M810.0 310.0h0M1293.5 367.0h0M872.0 284.0h0M543.0 750.6h0M1152.0 359.0h0M540.0 756.0h0M855.0 321.0h0M1260.0 294.0h0M550.0 853.0h0M805.0 330.0h0M1072.0 240.0h0M732.0 350.0h0M850.0 298.0h0M980.5 255.0h0M1527.8 960.8h0M1109.0 303.0h0M1311.0 351.0h0M1038.0 279.0h0M1162.1 296.5h0M1422.8 994.0h0M1252.0 280.0h0M1263.2 300.4h0M955.6 1183.4h0M924.3 434.3h0M1178.0 270.0h0M756.0 336.0h0M1200.1 315.5h0M1193.0 366.0h0M1190.0 294.5h0M957.0 282.0h0M1091.0 242.0h0M568.0 777.0h0M1156.4 1107.0h0M1008.0 301.0h0M1048.6 367.1h0M1154.0 350.0h0M1416.7 1117.7h0M857.0 355.0h0M607.0 735.0h0M1236.0 310.0h0M1314.5 906.7h0M1254.2 284.6h0M1303.4 905.0h0M1099.0 285.0h0M988.0 301.0h0M1065.0 341.0h0M630.0 721.5h0M1251.8 290.3h0M864.0 312.0h0M1252.2 279.2h0M1548.6 1060.6h0M826.0 358.0h0M554.6 845.6h0M1159.4 332.5h0M1543.9 1096.5h0M928.6 432.1h0M1124.0 330.0h0M1055.0 359.0h0M1250.4 284.5h0M1226.9 274.9h0M1268.0 373.0h0M915.0 298.0h0M978.0 281.0h0M1173.6 347.9h0M1286.9 437.0h0M1065.0 1063.0h0M584.0 742.0h0M875.6 1172.4h0M1548.2 1032.7h0M544.9 754.0h0M950.0 296.0h0M1161.0 276.5h0M1072.0 278.0h0M1126.8 444.4h0M980.0 292.0h0M838.0 292.0h0M1113.6 424.0h0M1567.5 1135.6h0M1041.0 333.0h0M1163.0 294.0h0M1075.2 405.6h0M1133.0 335.0h0M861.0 316.0h0M925.0 282.0h0M1335.0 346.8h0M1478.8 1140.4h0M560.0 769.0h0M994.0 349.0h0M1260.0 502.0h0M845.0 312.0h0M1258.1 306.1h0M733.0 345.0h0M941.0 277.0h0M678.0 730.0h0M859.0 282.0h0M954.0 279.0h0M990.0 267.0h0M1334.0 1045.6h0M1131.5 280.0h0M847.0 372.0h0M1335.0 344.0h0M841.0 361.0h0M1141.9 327.2h0M1258.0 309.0h0M1059.0 244.5h0M947.0 307.0h0M922.0 278.0h0M1336.0 340.0h0M1104.0 241.5h0M952.0 286.0h0M894.0 296.0h0M1286.0 599.5h0M1143.0 351.0h0M1121.0 297.0h0M1259.3 291.8h0M1266.2 465.3h0M909.6 1164.4h0M977.0 303.0h0M847.0 300.0h0M1068.0 268.0h0M951.0 304.0h0M931.0 271.0h0M589.0 747.0h0M1160.6 404.9h0M1113.6 361.6h0M1253.5 286.0h0M802.0 304.0h0M1164.0 292.0h0M420.5 726.0h0M1224.5 263.5h0M1166.0 270.0h0M1029.6 1121.0h0M848.0 304.0h0M734.0 607.0h0M1179.0 338.0h0M1274.0 292.5h0M531.0 746.0h0M1271.0 334.0h0M1343.0 346.8h0M577.0 857.6h0M1035.5 261.5h0M1326.6 1076.8h0M1120.0 273.0h0M1175.1 432.9h0M1615.8 1015.1h0M683.0 558.0h0M1308.6 350.0h0M1226.1 299.3h0M1142.0 326.0h0M895.0 306.0h0M1019.0 358.0h0M952.0 316.0h0M1396.5 1058.3h0M918.0 344.0h0M562.0 772.0h0M581.0 739.0h0M837.0 360.0h0M1258.0 313.0h0M1222.0 318.0h0M1113.0 317.0h0M442.0 655.5h0M663.0 731.0h0M933.0 287.0h0M851.0 277.0h0M1151.7 344.7h0M1331.6 340.3h0M1307.5 455.1h0M859.0 305.0h0M1092.8 403.2h0M899.0 277.0h0M1171.0 294.0h0M1260.0 300.0h0M1079.0 331.0h0M1141.0 320.0h0M859.0 312.0h0M1289.8 806.4h0M866.0 291.0h0M1102.4 402.4h0M1164.0 267.0h0M1208.0 513.0h0M1046.0 340.0h0M1242.0 298.0h0M1332.0 346.0h0M1050.5 261.5h0M666.5 593.5h0M753.0 332.0h0M1169.0 827.0h0M1567.1 881.8h0M674.5 731.6h0M922.0 285.0h0M929.0 276.0h0M1258.4 280.1h0M823.0 313.0h0M1070.4 370.4h0M1071.0 287.0h0M993.0 307.0h0M1076.0 335.0h0M679.0 737.0h0M1392.1 974.0h0M934.3 389.3h0M1329.2 1029.4h0M870.0 288.0h0M1012.0 266.0h0M1260.0 662.8h0M1334.6 416.5h0M1023.0 330.0h0M784.0 328.0h0M905.0 356.0h0M1282.0 328.0h0M1082.0 344.0h0M1235.0 294.0h0M1125.0 309.0h0M1204.0 275.5h0M973.0 327.0h0M1071.0 275.0h0M1045.0 241.0h0M1110.0 329.0h0M1196.0 271.0h0M922.0 303.0h0M846.0 338.0h0M674.0 731.0h0M1200.0 312.0h0M1489.9 930.2h0M1055.0 233.5h0M852.0 293.0h0M711.9 617.9h0M1058.6 942.4h0M851.0 351.0h0M1157.0 812.0h0M1018.0 240.5h0M1021.0 269.0h0M1149.2 306.5h0M1156.7 274.9h0M748.0 339.0h0M1144.0 255.0h0M1045.0 315.0h0M884.0 373.0h0M1076.0 294.0h0M839.0 297.0h0M995.0 358.0h0M1095.2 380.8h0M1168.0 282.0h0M853.0 332.0h0M1083.0 288.0h0M804.0 326.0h0M1372.1 922.8h0M1295.0 366.0h0M927.0 271.0h0M914.0 272.0h0M1263.1 297.4h0M1265.0 293.0h0M1423.6 996.0h0M1160.7 277.6h0M1094.4 408.8h0M919.0 285.0h0M1252.0 296.0h0M831.5 286.0h0M931.4 430.0h0M528.5 777.0h0M1211.7 436.8h0M1149.6 314.5h0M1254.5 293.3h0M551.0 732.0h0M351.0 643.0h0M1255.5 612.0h0M1050.0 247.0h0M998.6 1169.4h0M1200.0 336.0h0M1057.0 296.0h0M1100.0 298.0h0M862.0 336.0h0M891.4 403.6h0M1172.6 409.4h0M1101.0 309.0h0M1044.0 279.5h0M1177.2 338.9h0M357.0 631.0h0M1115.0 243.5h0M1087.0 304.0h0M1541.1 979.2h0M1079.6 401.2h0M1150.0 271.0h0M950.0 289.0h0M980.0 311.0h0M1113.2 438.0h0M783.0 312.0h0M1200.7 455.0h0M1547.0 963.3h0M580.0 766.0h0M574.0 770.0h0M926.0 268.0h0M1301.0 323.0h0M1430.0 1011.7h0M1215.6 300.5h0M549.0 726.0h0M1255.2 311.4h0M1061.0 307.0h0M990.0 275.0h0M538.0 735.0h0M820.0 344.0h0M540.0 741.0h0M1260.0 280.0h0M868.0 292.0h0M995.0 315.0h0M1297.4 444.9h0M1094.0 310.0h0M538.0 756.0h0M1218.0 300.0h0M875.0 301.0h0M859.0 349.0h0M1700.1 876.9h0M1194.0 363.0h0M797.0 319.0h0M1312.3 863.3h0M882.0 299.0h0M912.9 409.3h0M1192.4 456.1h0M1229.0 318.0h0M1287.8 1072.2h0M1252.8 300.3h0M1330.0 338.0h0M976.0 272.0h0M552.0 801.6h0M1262.0 306.0h0M1313.0 332.0h0M1515.5 1134.0h0M803.0 311.0h0M935.0 272.0h0M1099.0 291.0h0M1138.0 289.0h0M1008.0 269.0h0M713.5 620.0h0M1148.0 311.0h0M1147.0 353.8h0M1340.0 338.0h0M1089.0 315.0h0M1004.0 308.0h0M905.0 1198.4h0M966.0 265.0h0M938.6 430.7h0M1169.0 799.0h0M960.0 284.0h0M837.0 347.0h0M880.0 302.0h0M915.7 413.6h0M1007.0 319.0h0M1058.0 335.0h0M823.0 344.0h0M1230.5 317.2h0M1184.0 777.2h0M1115.0 359.0h0M1224.8 318.4h0M1155.1 343.7h0M1175.0 351.0h0M814.0 309.0h0M1333.9 340.7h0M1168.5 289.0h0M1020.7 377.9h0M871.0 318.0h0M1192.7 291.9h0M1288.0 437.4h0M843.0 283.0h0M1060.0 280.0h0M861.0 1182.0h0M585.0 762.0h0M1581.4 1016.3h0M1314.0 506.0h0M1033.0 917.6h0M1011.5 252.5h0M1070.0 244.0h0M1066.0 248.5h0M1314.6 333.8h0M964.3 380.4h0M1057.0 1110.0h0M1164.7 269.4h0M1329.0 343.7h0M1067.0 1146.0h0M1337.0 716.1h0M1142.0 288.0h0M1234.0 313.2h0M853.0 376.0h0M984.0 290.0h0M1463.5 822.1h0M1057.6 361.6h0M1250.0 334.5h0M1009.0 282.0h0M1429.1 972.1h0M625.0 793.6h0M1184.0 256.0h0M986.0 280.0h0M534.0 762.0h0M920.0 270.0h0M826.0 334.0h0M1256.4 305.6h0M1043.4 926.0h0M1070.0 293.0h0M1330.5 348.7h0M1112.0 353.0h0M1586.0 975.6h0M910.0 273.0h0M1018.0 319.0h0M1247.1 396.9h0M1034.0 240.5h0M781.0 328.0h0M1270.0 537.0h0M1071.6 936.6h0M1264.5 293.1h0M1130.0 328.0h0M1255.0 282.0h0M1508.5 1010.6h0M1129.0 340.0h0M880.0 320.0h0M1140.1 317.5h0M1230.5 1098.2h0M1090.0 287.0h0M1223.0 341.0h0M1064.0 298.0h0"/>
<path stroke="#de4968" stroke-width="6.6" d="M1579.7 1040.4h0M760.0 341.0h0M454.0 1047.0h0M1084.0 357.0h0M904.0 381.0h0M935.0 298.0h0M1161.6 828.4h0M942.0 308.5h0M1532.4 994.2h0M1339.7 350.2h0M650.5 682.5h0M1307.5 599.0h0M1183.0 277.5h0M620.0 640.0h0M946.5 280.0h0M1161.3 422.6h0M833.0 289.0h0M935.0 286.0h0M1268.1 431.6h0M930.0 264.0h0M752.0 335.0h0M416.0 746.0h0M836.0 332.0h0M920.0 326.0h0M594.0 591.0h0M775.0 321.0h0M1080.0 408.8h0M1297.2 445.2h0M964.5 274.5h0M952.0 260.5h0M842.0 292.0h0M1036.0 326.0h0M1179.8 1092.3h0M740.0 343.0h0M760.0 330.0h0M960.7 393.9h0M1070.0 240.5h0M611.0 618.0h0M867.0 297.0h0M1227.1 272.6h0M736.0 344.0h0M864.0 280.0h0M1085.6 360.8h0M814.0 320.0h0M738.0 346.0h0M1046.0 334.0h0M1130.0 264.5h0M1321.8 344.0h0M995.0 278.0h0M1178.0 287.5h0M754.0 333.0h0M570.0 673.0h0M1012.0 271.0h0M705.5 667.0h0M966.5 267.0h0M595.0 705.0h0M1238.0 266.5h0M818.0 316.0h0M847.0 378.0h0M787.0 311.0h0M959.0 306.0h0M958.0 290.0h0M1317.3 465.4h0M900.0 283.0h0M661.5 590.5h0M1339.9 927.2h0M618.0 667.0h0M1304.8 670.2h0M1194.0 388.0h0M820.0 348.0h0M906.0 327.0h0M844.0 309.0h0M840.0 304.0h0M1336.0 352.0h0M1175.4 283.0h0M1002.0 322.0h0M997.0 341.0h0M1263.6 1100.0h0M450.5 659.0h0M1041.0 339.0h0M999.0 273.0h0M857.0 380.0h0M458.0 1031.0h0M784.0 319.0h0M1358.4 983.6h0M898.0 367.0h0M1229.5 271.5h0M746.0 340.0h0M890.0 391.7h0M1080.4 380.6h0M980.0 321.0h0M1028.0 263.5h0M1300.2 456.1h0M855.0 283.0h0M995.5 244.5h0M827.0 330.0h0M1065.0 238.5h0M857.0 280.0h0M929.0 320.0h0M1009.0 257.0h0M931.5 320.0h0M1180.0 285.0h0M758.0 332.0h0M814.0 325.0h0M1336.6 357.7h0M839.0 350.0h0M1281.7 393.0h0M1007.0 349.0h0M985.0 271.0h0M1014.0 277.0h0M844.0 318.0h0M852.0 280.0h0M750.0 337.0h0M1058.0 275.0h0M1494.2 1024.4h0M654.0 654.0h0M850.0 364.0h0M360.0 640.0h0M826.0 296.0h0M1002.0 300.0h0M614.5 607.0h0M995.0 270.0h0M800.0 352.5h0M1113.0 307.0h0M943.5 261.5h0M897.0 292.0h0M886.0 281.0h0M892.0 375.0h0M1175.0 282.0h0M1193.0 454.4h0M1317.0 348.0h0M832.0 357.0h0M950.5 274.0h0M929.0 263.0h0M682.0 731.5h0"/>
<path stroke="#f98c5f" stroke-width="6.6" d="M893.0 287.0h0M808.0 348.0h0M815.0 342.0h0M856.0 385.0h0M1143.8 245.5h0M945.0 290.0h0M889.0 295.0h0M988.5 257.0h0M881.0 329.0h0M883.0 367.0h0M909.0 282.0h0M870.0 296.0h0M1019.0 265.0h0M743.5 354.5h0M743.0 341.0h0M1249.0 274.0h0M852.0 381.0h0M734.0 348.0h0M1144.5 247.5h0M814.0 350.0h0M876.0 281.0h0M572.0 758.5h0M838.0 310.0h0M584.4 803.6h0M883.0 274.0h0M999.0 357.0h0M848.0 330.0h0M789.0 315.5h0M1061.2 397.2h0M743.0 333.0h0"/>
<path stroke="#fec98d" stroke-width="6.6" d="M938.0 302.0h0M821.0 353.0h0M836.0 303.0h0M866.0 273.0h0M880.0 278.0h0M849.0 288.0h0M885.0 290.0h0M880.0 353.0h0"/>
<path stroke="#fbf3b8" stroke-width="6.6" d="M832.0 363.0h0M829.0 345.0h0"/>
</g>
<g stroke="#000" stroke-width="4.3" fill="none" stroke-linecap="butt">
<polyline points="205.35,142.8 205.35,1302.55 1829,1302.55"/>
<line x1="279.1" y1="1302.5" x2="279.1" y2="1316.6"/><line x1="647.5" y1="1302.5" x2="647.5" y2="1316.6"/><line x1="1015.9" y1="1302.5" x2="1015.9" y2="1316.6"/><line x1="1384.3" y1="1302.5" x2="1384.3" y2="1316.6"/><line x1="1752.7" y1="1302.5" x2="1752.7" y2="1316.6"/><line x1="191" y1="1249.0" x2="205.4" y2="1249.0"/><line x1="191" y1="920.5" x2="205.4" y2="920.5"/><line x1="191" y1="592.0" x2="205.4" y2="592.0"/><line x1="191" y1="263.4" x2="205.4" y2="263.4"/>
</g>
<g font-size="50"><text x="279.1" y="1366" text-anchor="middle">-5</text><text x="647.5" y="1366" text-anchor="middle">0</text><text x="1015.9" y="1366" text-anchor="middle">5</text><text x="1384.3" y="1366" text-anchor="middle">10</text><text x="1752.7" y="1366" text-anchor="middle">15</text><text x="177.5" y="1266.8" text-anchor="end">-5</text><text x="177.5" y="938.3" text-anchor="end">0</text><text x="177.5" y="609.8" text-anchor="end">5</text><text x="177.5" y="281.2" text-anchor="end">10</text></g>
<text transform="translate(1017.6,101) scale(0.945,1)" font-size="70" font-weight="bold" text-anchor="middle">DEGS2</text>
<text transform="translate(1017,1435) scale(0.97,1)" font-size="61" text-anchor="middle">UMAP_1</text>
<text transform="translate(95.1,722.5) rotate(-90) scale(0.97,1)" font-size="61" text-anchor="middle">UMAP_2</text>
<rect x="1885" y="578.3" width="64" height="319.30000000000007" fill="url(#mg)"/>
<g stroke="#fff" stroke-width="2"><line x1="1885" y1="631.0" x2="1898" y2="631.0"/><line x1="1936" y1="631.0" x2="1949" y2="631.0"/><line x1="1885" y1="719.8" x2="1898" y2="719.8"/><line x1="1936" y1="719.8" x2="1949" y2="719.8"/><line x1="1885" y1="808.9" x2="1898" y2="808.9"/><line x1="1936" y1="808.9" x2="1949" y2="808.9"/><line x1="1885" y1="897.3" x2="1898" y2="897.3"/><line x1="1936" y1="897.3" x2="1949" y2="897.3"/></g>
<g font-size="50"><text x="1979" y="649.0">1.5</text><text x="1979" y="737.8">1.0</text><text x="1979" y="826.9">0.5</text><text x="1979" y="915.3">0.0</text></g>
</svg>
</body></html>
